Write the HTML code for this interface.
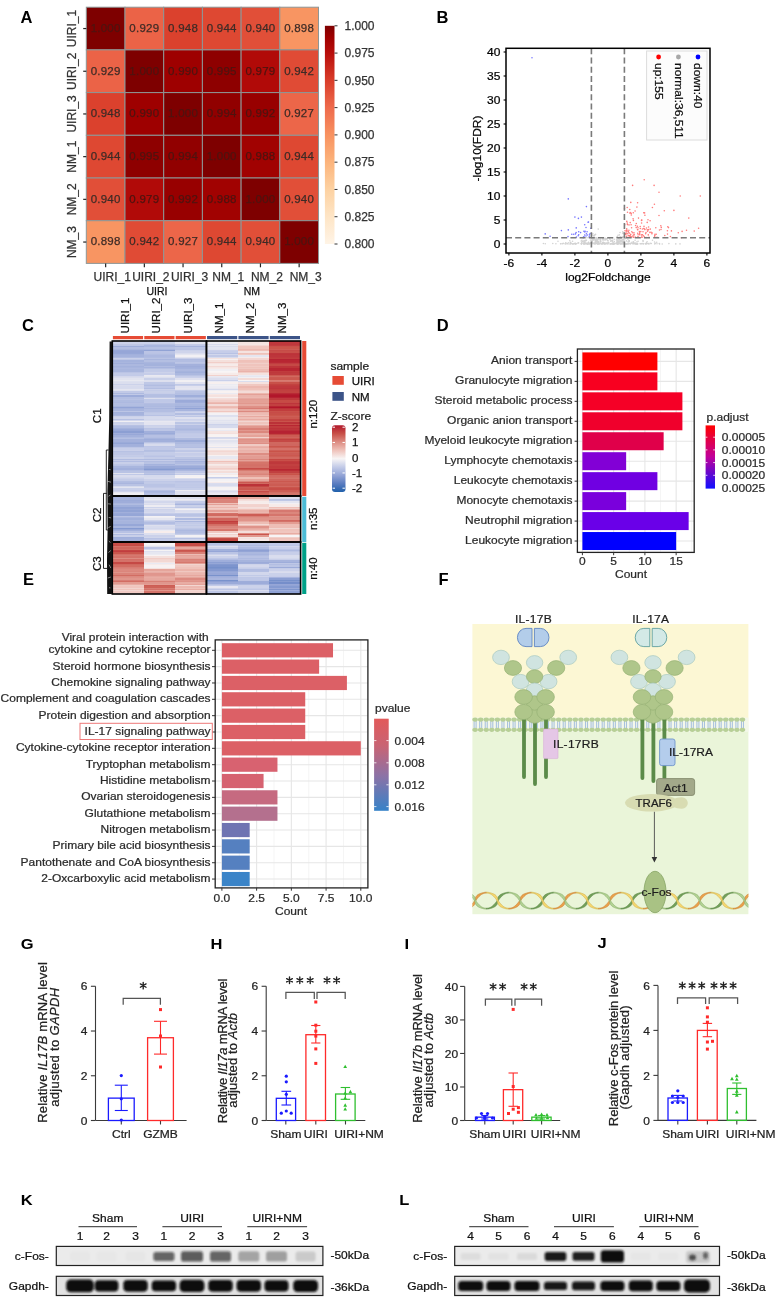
<!DOCTYPE html>
<html><head><meta charset="utf-8"><style>
html,body{margin:0;padding:0;background:#fff;}
svg{display:block;font-family:"Liberation Sans", sans-serif;will-change:transform;}
</style></head><body>
<svg width="775" height="1297" viewBox="0 0 775 1297">
<rect width="775" height="1297" fill="#fff"/>
<text transform="translate(20.50,22.70)" font-size="16.5" fill="#000" font-weight="bold" >A</text>
<rect x="86.30" y="7.20" width="38.70" height="42.70" fill="#7e0000" stroke="#8e9696" stroke-width="1" />
<rect x="125.00" y="7.20" width="38.70" height="42.70" fill="#eb6347" stroke="#8e9696" stroke-width="1" />
<rect x="163.70" y="7.20" width="38.70" height="42.70" fill="#db412d" stroke="#8e9696" stroke-width="1" />
<rect x="202.40" y="7.20" width="38.70" height="42.70" fill="#de4832" stroke="#8e9696" stroke-width="1" />
<rect x="241.10" y="7.20" width="38.70" height="42.70" fill="#e14f38" stroke="#8e9696" stroke-width="1" />
<rect x="279.80" y="7.20" width="38.70" height="42.70" fill="#f89562" stroke="#8e9696" stroke-width="1" />
<rect x="86.30" y="49.90" width="38.70" height="42.70" fill="#eb6347" stroke="#8e9696" stroke-width="1" />
<rect x="125.00" y="49.90" width="38.70" height="42.70" fill="#7e0000" stroke="#8e9696" stroke-width="1" />
<rect x="163.70" y="49.90" width="38.70" height="42.70" fill="#9e0000" stroke="#8e9696" stroke-width="1" />
<rect x="202.40" y="49.90" width="38.70" height="42.70" fill="#8e0000" stroke="#8e9696" stroke-width="1" />
<rect x="241.10" y="49.90" width="38.70" height="42.70" fill="#b10a08" stroke="#8e9696" stroke-width="1" />
<rect x="279.80" y="49.90" width="38.70" height="42.70" fill="#e04b35" stroke="#8e9696" stroke-width="1" />
<rect x="86.30" y="92.60" width="38.70" height="42.70" fill="#db412d" stroke="#8e9696" stroke-width="1" />
<rect x="125.00" y="92.60" width="38.70" height="42.70" fill="#9e0000" stroke="#8e9696" stroke-width="1" />
<rect x="163.70" y="92.60" width="38.70" height="42.70" fill="#7e0000" stroke="#8e9696" stroke-width="1" />
<rect x="202.40" y="92.60" width="38.70" height="42.70" fill="#910000" stroke="#8e9696" stroke-width="1" />
<rect x="241.10" y="92.60" width="38.70" height="42.70" fill="#980000" stroke="#8e9696" stroke-width="1" />
<rect x="279.80" y="92.60" width="38.70" height="42.70" fill="#ec6649" stroke="#8e9696" stroke-width="1" />
<rect x="86.30" y="135.30" width="38.70" height="42.70" fill="#de4832" stroke="#8e9696" stroke-width="1" />
<rect x="125.00" y="135.30" width="38.70" height="42.70" fill="#8e0000" stroke="#8e9696" stroke-width="1" />
<rect x="163.70" y="135.30" width="38.70" height="42.70" fill="#910000" stroke="#8e9696" stroke-width="1" />
<rect x="202.40" y="135.30" width="38.70" height="42.70" fill="#7e0000" stroke="#8e9696" stroke-width="1" />
<rect x="241.10" y="135.30" width="38.70" height="42.70" fill="#a10201" stroke="#8e9696" stroke-width="1" />
<rect x="279.80" y="135.30" width="38.70" height="42.70" fill="#de4832" stroke="#8e9696" stroke-width="1" />
<rect x="86.30" y="178.00" width="38.70" height="42.70" fill="#e14f38" stroke="#8e9696" stroke-width="1" />
<rect x="125.00" y="178.00" width="38.70" height="42.70" fill="#b10a08" stroke="#8e9696" stroke-width="1" />
<rect x="163.70" y="178.00" width="38.70" height="42.70" fill="#980000" stroke="#8e9696" stroke-width="1" />
<rect x="202.40" y="178.00" width="38.70" height="42.70" fill="#a10201" stroke="#8e9696" stroke-width="1" />
<rect x="241.10" y="178.00" width="38.70" height="42.70" fill="#7e0000" stroke="#8e9696" stroke-width="1" />
<rect x="279.80" y="178.00" width="38.70" height="42.70" fill="#e14f38" stroke="#8e9696" stroke-width="1" />
<rect x="86.30" y="220.70" width="38.70" height="42.70" fill="#f89562" stroke="#8e9696" stroke-width="1" />
<rect x="125.00" y="220.70" width="38.70" height="42.70" fill="#e04b35" stroke="#8e9696" stroke-width="1" />
<rect x="163.70" y="220.70" width="38.70" height="42.70" fill="#ec6649" stroke="#8e9696" stroke-width="1" />
<rect x="202.40" y="220.70" width="38.70" height="42.70" fill="#de4832" stroke="#8e9696" stroke-width="1" />
<rect x="241.10" y="220.70" width="38.70" height="42.70" fill="#e14f38" stroke="#8e9696" stroke-width="1" />
<rect x="279.80" y="220.70" width="38.70" height="42.70" fill="#7e0000" stroke="#8e9696" stroke-width="1" />
<text transform="translate(105.65,31.85)" font-size="11.5" fill="#4d1410" stroke="#4d1410" stroke-width="0.25" text-anchor="middle" letter-spacing="0.25">1.000</text>
<text transform="translate(144.35,31.85)" font-size="11.5" fill="#3d2b26" stroke="#3d2b26" stroke-width="0.25" text-anchor="middle" letter-spacing="0.25">0.929</text>
<text transform="translate(183.05,31.85)" font-size="11.5" fill="#3d2b26" stroke="#3d2b26" stroke-width="0.25" text-anchor="middle" letter-spacing="0.25">0.948</text>
<text transform="translate(221.75,31.85)" font-size="11.5" fill="#3d2b26" stroke="#3d2b26" stroke-width="0.25" text-anchor="middle" letter-spacing="0.25">0.944</text>
<text transform="translate(260.45,31.85)" font-size="11.5" fill="#3d2b26" stroke="#3d2b26" stroke-width="0.25" text-anchor="middle" letter-spacing="0.25">0.940</text>
<text transform="translate(299.15,31.85)" font-size="11.5" fill="#3d2b26" stroke="#3d2b26" stroke-width="0.25" text-anchor="middle" letter-spacing="0.25">0.898</text>
<text transform="translate(105.65,74.55)" font-size="11.5" fill="#3d2b26" stroke="#3d2b26" stroke-width="0.25" text-anchor="middle" letter-spacing="0.25">0.929</text>
<text transform="translate(144.35,74.55)" font-size="11.5" fill="#4d1410" stroke="#4d1410" stroke-width="0.25" text-anchor="middle" letter-spacing="0.25">1.000</text>
<text transform="translate(183.05,74.55)" font-size="11.5" fill="#4d1410" stroke="#4d1410" stroke-width="0.25" text-anchor="middle" letter-spacing="0.25">0.990</text>
<text transform="translate(221.75,74.55)" font-size="11.5" fill="#4d1410" stroke="#4d1410" stroke-width="0.25" text-anchor="middle" letter-spacing="0.25">0.995</text>
<text transform="translate(260.45,74.55)" font-size="11.5" fill="#4d1410" stroke="#4d1410" stroke-width="0.25" text-anchor="middle" letter-spacing="0.25">0.979</text>
<text transform="translate(299.15,74.55)" font-size="11.5" fill="#3d2b26" stroke="#3d2b26" stroke-width="0.25" text-anchor="middle" letter-spacing="0.25">0.942</text>
<text transform="translate(105.65,117.25)" font-size="11.5" fill="#3d2b26" stroke="#3d2b26" stroke-width="0.25" text-anchor="middle" letter-spacing="0.25">0.948</text>
<text transform="translate(144.35,117.25)" font-size="11.5" fill="#4d1410" stroke="#4d1410" stroke-width="0.25" text-anchor="middle" letter-spacing="0.25">0.990</text>
<text transform="translate(183.05,117.25)" font-size="11.5" fill="#4d1410" stroke="#4d1410" stroke-width="0.25" text-anchor="middle" letter-spacing="0.25">1.000</text>
<text transform="translate(221.75,117.25)" font-size="11.5" fill="#4d1410" stroke="#4d1410" stroke-width="0.25" text-anchor="middle" letter-spacing="0.25">0.994</text>
<text transform="translate(260.45,117.25)" font-size="11.5" fill="#4d1410" stroke="#4d1410" stroke-width="0.25" text-anchor="middle" letter-spacing="0.25">0.992</text>
<text transform="translate(299.15,117.25)" font-size="11.5" fill="#3d2b26" stroke="#3d2b26" stroke-width="0.25" text-anchor="middle" letter-spacing="0.25">0.927</text>
<text transform="translate(105.65,159.95)" font-size="11.5" fill="#3d2b26" stroke="#3d2b26" stroke-width="0.25" text-anchor="middle" letter-spacing="0.25">0.944</text>
<text transform="translate(144.35,159.95)" font-size="11.5" fill="#4d1410" stroke="#4d1410" stroke-width="0.25" text-anchor="middle" letter-spacing="0.25">0.995</text>
<text transform="translate(183.05,159.95)" font-size="11.5" fill="#4d1410" stroke="#4d1410" stroke-width="0.25" text-anchor="middle" letter-spacing="0.25">0.994</text>
<text transform="translate(221.75,159.95)" font-size="11.5" fill="#4d1410" stroke="#4d1410" stroke-width="0.25" text-anchor="middle" letter-spacing="0.25">1.000</text>
<text transform="translate(260.45,159.95)" font-size="11.5" fill="#4d1410" stroke="#4d1410" stroke-width="0.25" text-anchor="middle" letter-spacing="0.25">0.988</text>
<text transform="translate(299.15,159.95)" font-size="11.5" fill="#3d2b26" stroke="#3d2b26" stroke-width="0.25" text-anchor="middle" letter-spacing="0.25">0.944</text>
<text transform="translate(105.65,202.65)" font-size="11.5" fill="#3d2b26" stroke="#3d2b26" stroke-width="0.25" text-anchor="middle" letter-spacing="0.25">0.940</text>
<text transform="translate(144.35,202.65)" font-size="11.5" fill="#4d1410" stroke="#4d1410" stroke-width="0.25" text-anchor="middle" letter-spacing="0.25">0.979</text>
<text transform="translate(183.05,202.65)" font-size="11.5" fill="#4d1410" stroke="#4d1410" stroke-width="0.25" text-anchor="middle" letter-spacing="0.25">0.992</text>
<text transform="translate(221.75,202.65)" font-size="11.5" fill="#4d1410" stroke="#4d1410" stroke-width="0.25" text-anchor="middle" letter-spacing="0.25">0.988</text>
<text transform="translate(260.45,202.65)" font-size="11.5" fill="#4d1410" stroke="#4d1410" stroke-width="0.25" text-anchor="middle" letter-spacing="0.25">1.000</text>
<text transform="translate(299.15,202.65)" font-size="11.5" fill="#3d2b26" stroke="#3d2b26" stroke-width="0.25" text-anchor="middle" letter-spacing="0.25">0.940</text>
<text transform="translate(105.65,245.35)" font-size="11.5" fill="#3d2b26" stroke="#3d2b26" stroke-width="0.25" text-anchor="middle" letter-spacing="0.25">0.898</text>
<text transform="translate(144.35,245.35)" font-size="11.5" fill="#3d2b26" stroke="#3d2b26" stroke-width="0.25" text-anchor="middle" letter-spacing="0.25">0.942</text>
<text transform="translate(183.05,245.35)" font-size="11.5" fill="#3d2b26" stroke="#3d2b26" stroke-width="0.25" text-anchor="middle" letter-spacing="0.25">0.927</text>
<text transform="translate(221.75,245.35)" font-size="11.5" fill="#3d2b26" stroke="#3d2b26" stroke-width="0.25" text-anchor="middle" letter-spacing="0.25">0.944</text>
<text transform="translate(260.45,245.35)" font-size="11.5" fill="#3d2b26" stroke="#3d2b26" stroke-width="0.25" text-anchor="middle" letter-spacing="0.25">0.940</text>
<text transform="translate(299.15,245.35)" font-size="11.5" fill="#4d1410" stroke="#4d1410" stroke-width="0.25" text-anchor="middle" letter-spacing="0.25">1.000</text>
<line x1="83.20" y1="28.55" x2="86.30" y2="28.55" stroke="#222" stroke-width="1.2" />
<text transform="translate(75.50,28.55) rotate(-90)" font-size="12" fill="#333" stroke="#333" stroke-width="0.25" text-anchor="middle" >UIRI_1</text>
<line x1="83.20" y1="71.25" x2="86.30" y2="71.25" stroke="#222" stroke-width="1.2" />
<text transform="translate(75.50,71.25) rotate(-90)" font-size="12" fill="#333" stroke="#333" stroke-width="0.25" text-anchor="middle" >UIRI_2</text>
<line x1="83.20" y1="113.95" x2="86.30" y2="113.95" stroke="#222" stroke-width="1.2" />
<text transform="translate(75.50,113.95) rotate(-90)" font-size="12" fill="#333" stroke="#333" stroke-width="0.25" text-anchor="middle" >UIRI_3</text>
<line x1="83.20" y1="156.65" x2="86.30" y2="156.65" stroke="#222" stroke-width="1.2" />
<text transform="translate(75.50,156.65) rotate(-90)" font-size="12" fill="#333" stroke="#333" stroke-width="0.25" text-anchor="middle" >NM_1</text>
<line x1="83.20" y1="199.35" x2="86.30" y2="199.35" stroke="#222" stroke-width="1.2" />
<text transform="translate(75.50,199.35) rotate(-90)" font-size="12" fill="#333" stroke="#333" stroke-width="0.25" text-anchor="middle" >NM_2</text>
<line x1="83.20" y1="242.05" x2="86.30" y2="242.05" stroke="#222" stroke-width="1.2" />
<text transform="translate(75.50,242.05) rotate(-90)" font-size="12" fill="#333" stroke="#333" stroke-width="0.25" text-anchor="middle" >NM_3</text>
<line x1="105.65" y1="263.40" x2="105.65" y2="267.30" stroke="#222" stroke-width="1.2" />
<text transform="translate(112.15,281.40)" font-size="12" fill="#333" stroke="#333" stroke-width="0.25" text-anchor="middle" >UIRI_1</text>
<line x1="144.35" y1="263.40" x2="144.35" y2="267.30" stroke="#222" stroke-width="1.2" />
<text transform="translate(150.85,281.40)" font-size="12" fill="#333" stroke="#333" stroke-width="0.25" text-anchor="middle" >UIRI_2</text>
<line x1="183.05" y1="263.40" x2="183.05" y2="267.30" stroke="#222" stroke-width="1.2" />
<text transform="translate(189.55,281.40)" font-size="12" fill="#333" stroke="#333" stroke-width="0.25" text-anchor="middle" >UIRI_3</text>
<line x1="221.75" y1="263.40" x2="221.75" y2="267.30" stroke="#222" stroke-width="1.2" />
<text transform="translate(228.25,281.40)" font-size="12" fill="#333" stroke="#333" stroke-width="0.25" text-anchor="middle" >NM_1</text>
<line x1="260.45" y1="263.40" x2="260.45" y2="267.30" stroke="#222" stroke-width="1.2" />
<text transform="translate(266.95,281.40)" font-size="12" fill="#333" stroke="#333" stroke-width="0.25" text-anchor="middle" >NM_2</text>
<line x1="299.15" y1="263.40" x2="299.15" y2="267.30" stroke="#222" stroke-width="1.2" />
<text transform="translate(305.65,281.40)" font-size="12" fill="#333" stroke="#333" stroke-width="0.25" text-anchor="middle" >NM_3</text>
<text transform="translate(157.00,295.40)" font-size="10.5" fill="#111" stroke="#111" stroke-width="0.25" text-anchor="middle" >UIRI</text>
<text transform="translate(251.80,295.40)" font-size="10.5" fill="#111" stroke="#111" stroke-width="0.25" text-anchor="middle" >NM</text>
<defs><linearGradient id="gA" x1="0" y1="1" x2="0" y2="0"><stop offset="0.000" stop-color="#fff4e6"/><stop offset="0.125" stop-color="#fee5c6"/><stop offset="0.250" stop-color="#fdd2a2"/><stop offset="0.375" stop-color="#fcb47c"/><stop offset="0.500" stop-color="#f89260"/><stop offset="0.625" stop-color="#ee6a4c"/><stop offset="0.750" stop-color="#d93d2a"/><stop offset="0.875" stop-color="#b80e0b"/><stop offset="0.950" stop-color="#9e0000"/><stop offset="1.000" stop-color="#7e0000"/></linearGradient></defs>
<rect x="324.90" y="25.80" width="9.60" height="218.20" fill="url(#gA)" />
<line x1="334.50" y1="25.80" x2="337.50" y2="25.80" stroke="#333" stroke-width="1" />
<text transform="translate(344.50,30.00)" font-size="12" fill="#333" stroke="#333" stroke-width="0.25" >1.000</text>
<line x1="334.50" y1="53.08" x2="337.50" y2="53.08" stroke="#333" stroke-width="1" />
<text transform="translate(344.50,57.28)" font-size="12" fill="#333" stroke="#333" stroke-width="0.25" >0.975</text>
<line x1="334.50" y1="80.35" x2="337.50" y2="80.35" stroke="#333" stroke-width="1" />
<text transform="translate(344.50,84.55)" font-size="12" fill="#333" stroke="#333" stroke-width="0.25" >0.950</text>
<line x1="334.50" y1="107.62" x2="337.50" y2="107.62" stroke="#333" stroke-width="1" />
<text transform="translate(344.50,111.82)" font-size="12" fill="#333" stroke="#333" stroke-width="0.25" >0.925</text>
<line x1="334.50" y1="134.90" x2="337.50" y2="134.90" stroke="#333" stroke-width="1" />
<text transform="translate(344.50,139.10)" font-size="12" fill="#333" stroke="#333" stroke-width="0.25" >0.900</text>
<line x1="334.50" y1="162.18" x2="337.50" y2="162.18" stroke="#333" stroke-width="1" />
<text transform="translate(344.50,166.38)" font-size="12" fill="#333" stroke="#333" stroke-width="0.25" >0.875</text>
<line x1="334.50" y1="189.45" x2="337.50" y2="189.45" stroke="#333" stroke-width="1" />
<text transform="translate(344.50,193.65)" font-size="12" fill="#333" stroke="#333" stroke-width="0.25" >0.850</text>
<line x1="334.50" y1="216.72" x2="337.50" y2="216.72" stroke="#333" stroke-width="1" />
<text transform="translate(344.50,220.92)" font-size="12" fill="#333" stroke="#333" stroke-width="0.25" >0.825</text>
<line x1="334.50" y1="244.00" x2="337.50" y2="244.00" stroke="#333" stroke-width="1" />
<text transform="translate(344.50,248.20)" font-size="12" fill="#333" stroke="#333" stroke-width="0.25" >0.800</text>
<text transform="translate(436.50,22.60)" font-size="16.5" fill="#000" font-weight="bold" >B</text>
<g>
<circle cx="575.6" cy="243.9" r="0.78" fill="#d2d2d2"/>
<circle cx="634.2" cy="243.8" r="0.78" fill="#d2d2d2"/>
<circle cx="572.8" cy="244.0" r="0.78" fill="#d2d2d2"/>
<circle cx="620.5" cy="243.6" r="0.78" fill="#d2d2d2"/>
<circle cx="575.8" cy="243.5" r="0.78" fill="#d2d2d2"/>
<circle cx="626.5" cy="243.8" r="0.78" fill="#d2d2d2"/>
<circle cx="648.4" cy="243.6" r="0.78" fill="#d2d2d2"/>
<circle cx="605.2" cy="243.9" r="0.78" fill="#d2d2d2"/>
<circle cx="675.8" cy="243.9" r="0.78" fill="#d2d2d2"/>
<circle cx="587.2" cy="243.6" r="0.78" fill="#d2d2d2"/>
<circle cx="610.4" cy="243.9" r="0.78" fill="#d2d2d2"/>
<circle cx="598.8" cy="244.0" r="0.78" fill="#d2d2d2"/>
<circle cx="615.1" cy="243.7" r="0.78" fill="#d2d2d2"/>
<circle cx="636.9" cy="243.9" r="0.78" fill="#d2d2d2"/>
<circle cx="560.6" cy="243.7" r="0.78" fill="#d2d2d2"/>
<circle cx="570.4" cy="243.9" r="0.78" fill="#d2d2d2"/>
<circle cx="569.0" cy="244.0" r="0.78" fill="#d2d2d2"/>
<circle cx="587.3" cy="243.9" r="0.78" fill="#d2d2d2"/>
<circle cx="606.6" cy="243.7" r="0.78" fill="#d2d2d2"/>
<circle cx="573.0" cy="243.9" r="0.78" fill="#d2d2d2"/>
<circle cx="625.4" cy="244.0" r="0.78" fill="#d2d2d2"/>
<circle cx="617.7" cy="244.0" r="0.78" fill="#d2d2d2"/>
<circle cx="581.3" cy="243.8" r="0.78" fill="#d2d2d2"/>
<circle cx="586.5" cy="243.3" r="0.78" fill="#d2d2d2"/>
<circle cx="594.6" cy="243.7" r="0.78" fill="#d2d2d2"/>
<circle cx="608.0" cy="243.6" r="0.78" fill="#d2d2d2"/>
<circle cx="592.0" cy="243.6" r="0.78" fill="#d2d2d2"/>
<circle cx="604.6" cy="243.5" r="0.78" fill="#d2d2d2"/>
<circle cx="624.4" cy="243.9" r="0.78" fill="#d2d2d2"/>
<circle cx="587.3" cy="243.7" r="0.78" fill="#d2d2d2"/>
<circle cx="620.3" cy="243.4" r="0.78" fill="#d2d2d2"/>
<circle cx="597.9" cy="243.8" r="0.78" fill="#d2d2d2"/>
<circle cx="621.3" cy="243.9" r="0.78" fill="#d2d2d2"/>
<circle cx="613.4" cy="243.9" r="0.78" fill="#d2d2d2"/>
<circle cx="592.1" cy="243.6" r="0.78" fill="#d2d2d2"/>
<circle cx="597.4" cy="243.8" r="0.78" fill="#d2d2d2"/>
<circle cx="647.8" cy="243.6" r="0.78" fill="#d2d2d2"/>
<circle cx="635.7" cy="243.7" r="0.78" fill="#d2d2d2"/>
<circle cx="626.3" cy="243.9" r="0.78" fill="#d2d2d2"/>
<circle cx="628.3" cy="243.3" r="0.78" fill="#d2d2d2"/>
<circle cx="599.3" cy="243.7" r="0.78" fill="#d2d2d2"/>
<circle cx="659.6" cy="243.9" r="0.78" fill="#d2d2d2"/>
<circle cx="633.5" cy="243.7" r="0.78" fill="#d2d2d2"/>
<circle cx="577.9" cy="243.1" r="0.78" fill="#d2d2d2"/>
<circle cx="654.8" cy="243.9" r="0.78" fill="#d2d2d2"/>
<circle cx="627.8" cy="244.0" r="0.78" fill="#d2d2d2"/>
<circle cx="584.6" cy="244.0" r="0.78" fill="#d2d2d2"/>
<circle cx="617.8" cy="243.6" r="0.78" fill="#d2d2d2"/>
<circle cx="626.6" cy="244.0" r="0.78" fill="#d2d2d2"/>
<circle cx="643.7" cy="243.7" r="0.78" fill="#d2d2d2"/>
<circle cx="628.8" cy="243.6" r="0.78" fill="#d2d2d2"/>
<circle cx="600.2" cy="243.3" r="0.78" fill="#d2d2d2"/>
<circle cx="584.0" cy="243.9" r="0.78" fill="#d2d2d2"/>
<circle cx="621.8" cy="243.4" r="0.78" fill="#d2d2d2"/>
<circle cx="581.4" cy="244.0" r="0.78" fill="#d2d2d2"/>
<circle cx="625.0" cy="243.9" r="0.78" fill="#d2d2d2"/>
<circle cx="545.3" cy="243.7" r="0.78" fill="#d2d2d2"/>
<circle cx="668.9" cy="243.6" r="0.78" fill="#d2d2d2"/>
<circle cx="583.7" cy="243.8" r="0.78" fill="#d2d2d2"/>
<circle cx="613.8" cy="243.0" r="0.78" fill="#d2d2d2"/>
<circle cx="624.2" cy="244.0" r="0.78" fill="#d2d2d2"/>
<circle cx="649.0" cy="244.0" r="0.78" fill="#d2d2d2"/>
<circle cx="657.0" cy="243.7" r="0.78" fill="#d2d2d2"/>
<circle cx="595.4" cy="243.7" r="0.78" fill="#d2d2d2"/>
<circle cx="645.5" cy="243.7" r="0.78" fill="#d2d2d2"/>
<circle cx="615.9" cy="243.3" r="0.78" fill="#d2d2d2"/>
<circle cx="589.1" cy="243.8" r="0.78" fill="#d2d2d2"/>
<circle cx="593.8" cy="243.8" r="0.78" fill="#d2d2d2"/>
<circle cx="599.1" cy="243.7" r="0.78" fill="#d2d2d2"/>
<circle cx="610.1" cy="243.9" r="0.78" fill="#d2d2d2"/>
<circle cx="611.0" cy="243.8" r="0.78" fill="#d2d2d2"/>
<circle cx="630.6" cy="243.8" r="0.78" fill="#d2d2d2"/>
<circle cx="601.8" cy="243.5" r="0.78" fill="#d2d2d2"/>
<circle cx="650.2" cy="243.4" r="0.78" fill="#d2d2d2"/>
<circle cx="603.2" cy="243.8" r="0.78" fill="#d2d2d2"/>
<circle cx="575.3" cy="243.9" r="0.78" fill="#d2d2d2"/>
<circle cx="613.3" cy="243.2" r="0.78" fill="#d2d2d2"/>
<circle cx="614.4" cy="243.7" r="0.78" fill="#d2d2d2"/>
<circle cx="543.4" cy="243.5" r="0.78" fill="#d2d2d2"/>
<circle cx="612.9" cy="243.4" r="0.78" fill="#d2d2d2"/>
<circle cx="612.7" cy="243.4" r="0.78" fill="#d2d2d2"/>
<circle cx="637.4" cy="243.8" r="0.78" fill="#d2d2d2"/>
<circle cx="603.3" cy="243.2" r="0.78" fill="#d2d2d2"/>
<circle cx="604.6" cy="243.4" r="0.78" fill="#d2d2d2"/>
<circle cx="623.6" cy="243.2" r="0.78" fill="#d2d2d2"/>
<circle cx="583.9" cy="243.5" r="0.78" fill="#d2d2d2"/>
<circle cx="651.3" cy="243.5" r="0.78" fill="#d2d2d2"/>
<circle cx="567.4" cy="243.7" r="0.78" fill="#d2d2d2"/>
<circle cx="630.4" cy="243.6" r="0.78" fill="#d2d2d2"/>
<circle cx="589.6" cy="243.7" r="0.78" fill="#d2d2d2"/>
<circle cx="576.5" cy="243.7" r="0.78" fill="#d2d2d2"/>
<circle cx="640.9" cy="243.7" r="0.78" fill="#d2d2d2"/>
<circle cx="662.2" cy="244.0" r="0.78" fill="#d2d2d2"/>
<circle cx="604.3" cy="243.6" r="0.78" fill="#d2d2d2"/>
<circle cx="604.6" cy="243.5" r="0.78" fill="#d2d2d2"/>
<circle cx="561.0" cy="243.7" r="0.78" fill="#d2d2d2"/>
<circle cx="645.9" cy="243.7" r="0.78" fill="#d2d2d2"/>
<circle cx="643.1" cy="243.9" r="0.78" fill="#d2d2d2"/>
<circle cx="588.9" cy="244.0" r="0.78" fill="#d2d2d2"/>
<circle cx="598.0" cy="243.6" r="0.78" fill="#d2d2d2"/>
<circle cx="563.2" cy="243.4" r="0.78" fill="#d2d2d2"/>
<circle cx="607.8" cy="243.9" r="0.78" fill="#d2d2d2"/>
<circle cx="595.4" cy="243.5" r="0.78" fill="#d2d2d2"/>
<circle cx="612.6" cy="243.8" r="0.78" fill="#d2d2d2"/>
<circle cx="640.1" cy="243.7" r="0.78" fill="#d2d2d2"/>
<circle cx="555.9" cy="243.7" r="0.78" fill="#d2d2d2"/>
<circle cx="589.7" cy="243.5" r="0.78" fill="#d2d2d2"/>
<circle cx="616.8" cy="243.6" r="0.78" fill="#d2d2d2"/>
<circle cx="628.1" cy="243.2" r="0.78" fill="#d2d2d2"/>
<circle cx="626.9" cy="243.7" r="0.78" fill="#d2d2d2"/>
<circle cx="587.9" cy="243.8" r="0.78" fill="#d2d2d2"/>
<circle cx="628.2" cy="243.7" r="0.78" fill="#d2d2d2"/>
<circle cx="634.6" cy="243.4" r="0.78" fill="#d2d2d2"/>
<circle cx="592.3" cy="243.1" r="0.78" fill="#d2d2d2"/>
<circle cx="605.2" cy="243.8" r="0.78" fill="#d2d2d2"/>
<circle cx="587.7" cy="243.9" r="0.78" fill="#d2d2d2"/>
<circle cx="614.0" cy="243.6" r="0.78" fill="#d2d2d2"/>
<circle cx="586.2" cy="243.7" r="0.78" fill="#d2d2d2"/>
<circle cx="587.7" cy="243.3" r="0.78" fill="#d2d2d2"/>
<circle cx="636.7" cy="244.0" r="0.78" fill="#d2d2d2"/>
<circle cx="613.9" cy="244.0" r="0.78" fill="#d2d2d2"/>
<circle cx="613.3" cy="243.9" r="0.78" fill="#d2d2d2"/>
<circle cx="599.1" cy="243.5" r="0.78" fill="#d2d2d2"/>
<circle cx="591.0" cy="243.4" r="0.78" fill="#d2d2d2"/>
<circle cx="622.1" cy="244.0" r="0.78" fill="#d2d2d2"/>
<circle cx="602.2" cy="244.0" r="0.78" fill="#d2d2d2"/>
<circle cx="617.2" cy="243.8" r="0.78" fill="#d2d2d2"/>
<circle cx="613.1" cy="243.9" r="0.78" fill="#d2d2d2"/>
<circle cx="588.1" cy="243.7" r="0.78" fill="#d2d2d2"/>
<circle cx="581.5" cy="243.6" r="0.78" fill="#d2d2d2"/>
<circle cx="631.4" cy="243.1" r="0.78" fill="#d2d2d2"/>
<circle cx="600.9" cy="243.8" r="0.78" fill="#d2d2d2"/>
<circle cx="591.5" cy="244.0" r="0.78" fill="#d2d2d2"/>
<circle cx="637.7" cy="244.0" r="0.78" fill="#d2d2d2"/>
<circle cx="604.2" cy="243.8" r="0.78" fill="#d2d2d2"/>
<circle cx="604.5" cy="243.6" r="0.78" fill="#d2d2d2"/>
<circle cx="597.5" cy="243.6" r="0.78" fill="#d2d2d2"/>
<circle cx="574.5" cy="243.6" r="0.78" fill="#d2d2d2"/>
<circle cx="571.2" cy="243.6" r="0.78" fill="#d2d2d2"/>
<circle cx="617.3" cy="243.9" r="0.78" fill="#d2d2d2"/>
<circle cx="646.4" cy="243.7" r="0.78" fill="#d2d2d2"/>
<circle cx="627.8" cy="243.7" r="0.78" fill="#d2d2d2"/>
<circle cx="567.1" cy="243.4" r="0.78" fill="#d2d2d2"/>
<circle cx="583.4" cy="243.7" r="0.78" fill="#d2d2d2"/>
<circle cx="642.1" cy="243.5" r="0.78" fill="#d2d2d2"/>
<circle cx="635.6" cy="243.9" r="0.78" fill="#d2d2d2"/>
<circle cx="597.5" cy="243.8" r="0.78" fill="#d2d2d2"/>
<circle cx="599.3" cy="243.3" r="0.78" fill="#d2d2d2"/>
<circle cx="581.5" cy="243.5" r="0.78" fill="#d2d2d2"/>
<circle cx="620.8" cy="243.2" r="0.78" fill="#d2d2d2"/>
<circle cx="680.0" cy="243.9" r="0.78" fill="#d2d2d2"/>
<circle cx="562.5" cy="243.8" r="0.78" fill="#d2d2d2"/>
<circle cx="583.1" cy="243.2" r="0.78" fill="#d2d2d2"/>
<circle cx="623.0" cy="243.7" r="0.78" fill="#d2d2d2"/>
<circle cx="632.6" cy="243.8" r="0.78" fill="#d2d2d2"/>
<circle cx="565.0" cy="243.8" r="0.78" fill="#d2d2d2"/>
<circle cx="601.6" cy="244.0" r="0.78" fill="#d2d2d2"/>
<circle cx="611.4" cy="243.9" r="0.78" fill="#d2d2d2"/>
<circle cx="612.9" cy="243.8" r="0.78" fill="#d2d2d2"/>
<circle cx="584.2" cy="243.4" r="0.78" fill="#d2d2d2"/>
<circle cx="617.4" cy="243.8" r="0.78" fill="#d2d2d2"/>
<circle cx="565.8" cy="243.9" r="0.78" fill="#d2d2d2"/>
<circle cx="629.5" cy="243.5" r="0.78" fill="#d2d2d2"/>
<circle cx="636.9" cy="243.9" r="0.78" fill="#d2d2d2"/>
<circle cx="618.5" cy="243.9" r="0.78" fill="#d2d2d2"/>
<circle cx="613.7" cy="243.5" r="0.78" fill="#d2d2d2"/>
<circle cx="597.2" cy="243.4" r="0.78" fill="#d2d2d2"/>
<circle cx="587.3" cy="243.6" r="0.78" fill="#d2d2d2"/>
<circle cx="623.2" cy="241.9" r="0.78" fill="#d2d2d2"/>
<circle cx="585.0" cy="242.5" r="0.78" fill="#d2d2d2"/>
<circle cx="633.9" cy="243.1" r="0.78" fill="#d2d2d2"/>
<circle cx="569.8" cy="240.8" r="0.78" fill="#d2d2d2"/>
<circle cx="633.5" cy="241.8" r="0.78" fill="#d2d2d2"/>
<circle cx="602.7" cy="242.6" r="0.78" fill="#d2d2d2"/>
<circle cx="583.2" cy="241.7" r="0.78" fill="#d2d2d2"/>
<circle cx="602.2" cy="243.6" r="0.78" fill="#d2d2d2"/>
<circle cx="633.3" cy="242.4" r="0.78" fill="#d2d2d2"/>
<circle cx="603.0" cy="239.0" r="0.78" fill="#d2d2d2"/>
<circle cx="584.9" cy="241.4" r="0.78" fill="#d2d2d2"/>
<circle cx="598.3" cy="243.4" r="0.78" fill="#d2d2d2"/>
<circle cx="586.4" cy="240.4" r="0.78" fill="#d2d2d2"/>
<circle cx="602.6" cy="238.2" r="0.78" fill="#d2d2d2"/>
<circle cx="605.0" cy="243.0" r="0.78" fill="#d2d2d2"/>
<circle cx="632.0" cy="242.3" r="0.78" fill="#d2d2d2"/>
<circle cx="626.4" cy="240.9" r="0.78" fill="#d2d2d2"/>
<circle cx="565.7" cy="242.7" r="0.78" fill="#d2d2d2"/>
<circle cx="618.6" cy="238.2" r="0.78" fill="#d2d2d2"/>
<circle cx="635.7" cy="243.4" r="0.78" fill="#d2d2d2"/>
<circle cx="608.7" cy="242.6" r="0.78" fill="#d2d2d2"/>
<circle cx="603.4" cy="242.4" r="0.78" fill="#d2d2d2"/>
<circle cx="600.6" cy="241.6" r="0.78" fill="#d2d2d2"/>
<circle cx="590.4" cy="240.0" r="0.78" fill="#d2d2d2"/>
<circle cx="635.4" cy="243.4" r="0.78" fill="#d2d2d2"/>
<circle cx="629.2" cy="240.7" r="0.78" fill="#d2d2d2"/>
<circle cx="607.9" cy="240.6" r="0.78" fill="#d2d2d2"/>
<circle cx="622.1" cy="241.1" r="0.78" fill="#d2d2d2"/>
<circle cx="592.2" cy="240.6" r="0.78" fill="#d2d2d2"/>
<circle cx="623.5" cy="242.8" r="0.78" fill="#d2d2d2"/>
<circle cx="616.5" cy="239.9" r="0.78" fill="#d2d2d2"/>
<circle cx="637.0" cy="241.9" r="0.78" fill="#d2d2d2"/>
<circle cx="625.4" cy="238.6" r="0.78" fill="#d2d2d2"/>
<circle cx="584.2" cy="243.0" r="0.78" fill="#d2d2d2"/>
<circle cx="605.6" cy="238.3" r="0.78" fill="#d2d2d2"/>
<circle cx="568.8" cy="242.7" r="0.78" fill="#d2d2d2"/>
<circle cx="588.6" cy="242.5" r="0.78" fill="#d2d2d2"/>
<circle cx="652.5" cy="240.3" r="0.78" fill="#d2d2d2"/>
<circle cx="616.6" cy="242.3" r="0.78" fill="#d2d2d2"/>
<circle cx="600.4" cy="239.4" r="0.78" fill="#d2d2d2"/>
<circle cx="607.3" cy="238.8" r="0.78" fill="#d2d2d2"/>
<circle cx="617.6" cy="241.2" r="0.78" fill="#d2d2d2"/>
<circle cx="610.7" cy="241.3" r="0.78" fill="#d2d2d2"/>
<circle cx="597.1" cy="239.6" r="0.78" fill="#d2d2d2"/>
<circle cx="622.2" cy="239.7" r="0.78" fill="#d2d2d2"/>
<circle cx="609.5" cy="238.3" r="0.78" fill="#d2d2d2"/>
<circle cx="618.3" cy="240.7" r="0.78" fill="#d2d2d2"/>
<circle cx="605.8" cy="239.2" r="0.78" fill="#d2d2d2"/>
<circle cx="575.3" cy="243.2" r="0.78" fill="#d2d2d2"/>
<circle cx="607.3" cy="243.3" r="0.78" fill="#d2d2d2"/>
<circle cx="612.6" cy="240.4" r="0.78" fill="#d2d2d2"/>
<circle cx="611.6" cy="240.7" r="0.78" fill="#d2d2d2"/>
<circle cx="596.9" cy="242.7" r="0.78" fill="#d2d2d2"/>
<circle cx="602.8" cy="242.5" r="0.78" fill="#d2d2d2"/>
<circle cx="643.0" cy="240.5" r="0.78" fill="#d2d2d2"/>
<circle cx="552.8" cy="243.5" r="0.78" fill="#d2d2d2"/>
<circle cx="656.7" cy="242.2" r="0.78" fill="#d2d2d2"/>
<circle cx="627.9" cy="239.2" r="0.78" fill="#d2d2d2"/>
<circle cx="596.7" cy="240.7" r="0.78" fill="#d2d2d2"/>
<circle cx="629.2" cy="241.2" r="0.78" fill="#d2d2d2"/>
<circle cx="605.1" cy="239.6" r="0.78" fill="#d2d2d2"/>
<circle cx="605.8" cy="238.7" r="0.78" fill="#d2d2d2"/>
<circle cx="617.8" cy="239.3" r="0.78" fill="#d2d2d2"/>
<circle cx="629.3" cy="241.3" r="0.78" fill="#d2d2d2"/>
<circle cx="612.3" cy="240.7" r="0.78" fill="#d2d2d2"/>
<circle cx="620.0" cy="243.7" r="0.78" fill="#d2d2d2"/>
<circle cx="638.1" cy="241.3" r="0.78" fill="#d2d2d2"/>
<circle cx="583.9" cy="240.8" r="0.78" fill="#d2d2d2"/>
<circle cx="592.9" cy="240.2" r="0.78" fill="#d2d2d2"/>
<circle cx="592.0" cy="240.7" r="0.78" fill="#d2d2d2"/>
<circle cx="646.4" cy="242.9" r="0.78" fill="#d2d2d2"/>
<circle cx="603.7" cy="238.3" r="0.78" fill="#d2d2d2"/>
<circle cx="606.6" cy="238.9" r="0.78" fill="#d2d2d2"/>
<circle cx="570.7" cy="242.4" r="0.78" fill="#d2d2d2"/>
<circle cx="643.1" cy="241.4" r="0.78" fill="#d2d2d2"/>
<circle cx="581.2" cy="241.1" r="0.78" fill="#d2d2d2"/>
<circle cx="610.0" cy="239.4" r="0.78" fill="#d2d2d2"/>
<circle cx="586.1" cy="243.6" r="0.78" fill="#d2d2d2"/>
<circle cx="594.8" cy="243.7" r="0.78" fill="#d2d2d2"/>
<circle cx="628.1" cy="241.6" r="0.78" fill="#d2d2d2"/>
<circle cx="588.6" cy="242.4" r="0.78" fill="#d2d2d2"/>
<circle cx="584.9" cy="240.5" r="0.78" fill="#d2d2d2"/>
<circle cx="598.1" cy="239.8" r="0.78" fill="#d2d2d2"/>
<circle cx="591.1" cy="240.3" r="0.78" fill="#d2d2d2"/>
<circle cx="587.0" cy="237.8" r="0.78" fill="#d2d2d2"/>
<circle cx="603.5" cy="239.9" r="0.78" fill="#d2d2d2"/>
<circle cx="596.9" cy="237.9" r="0.78" fill="#d2d2d2"/>
<circle cx="573.3" cy="243.8" r="0.78" fill="#d2d2d2"/>
<circle cx="581.6" cy="242.9" r="0.78" fill="#d2d2d2"/>
<circle cx="584.6" cy="242.4" r="0.78" fill="#d2d2d2"/>
<circle cx="621.3" cy="241.5" r="0.78" fill="#d2d2d2"/>
<circle cx="612.3" cy="243.2" r="0.78" fill="#d2d2d2"/>
<circle cx="607.6" cy="240.5" r="0.78" fill="#d2d2d2"/>
<circle cx="654.5" cy="242.0" r="0.78" fill="#d2d2d2"/>
<circle cx="635.1" cy="240.3" r="0.78" fill="#d2d2d2"/>
<circle cx="602.2" cy="239.9" r="0.78" fill="#d2d2d2"/>
<circle cx="611.0" cy="240.2" r="0.78" fill="#d2d2d2"/>
<circle cx="600.0" cy="239.2" r="0.78" fill="#d2d2d2"/>
<circle cx="655.4" cy="243.3" r="0.78" fill="#d2d2d2"/>
<circle cx="621.7" cy="240.9" r="0.78" fill="#d2d2d2"/>
<circle cx="620.1" cy="240.1" r="0.78" fill="#d2d2d2"/>
<circle cx="629.8" cy="243.6" r="0.78" fill="#d2d2d2"/>
<circle cx="629.0" cy="240.6" r="0.78" fill="#d2d2d2"/>
<circle cx="600.3" cy="240.2" r="0.78" fill="#d2d2d2"/>
<circle cx="596.2" cy="239.8" r="0.78" fill="#d2d2d2"/>
<circle cx="621.1" cy="240.4" r="0.78" fill="#d2d2d2"/>
<circle cx="600.8" cy="242.0" r="0.78" fill="#d2d2d2"/>
<circle cx="641.2" cy="243.8" r="0.78" fill="#d2d2d2"/>
<circle cx="608.1" cy="242.8" r="0.78" fill="#d2d2d2"/>
<circle cx="614.2" cy="239.2" r="0.78" fill="#d2d2d2"/>
<circle cx="572.6" cy="241.2" r="0.78" fill="#d2d2d2"/>
<circle cx="637.1" cy="243.7" r="0.78" fill="#d2d2d2"/>
<circle cx="659.3" cy="243.6" r="0.78" fill="#d2d2d2"/>
<circle cx="604.3" cy="238.3" r="0.78" fill="#d2d2d2"/>
<circle cx="585.8" cy="240.4" r="0.78" fill="#d2d2d2"/>
<circle cx="618.4" cy="242.3" r="0.78" fill="#d2d2d2"/>
<circle cx="558.0" cy="241.3" r="0.78" fill="#d2d2d2"/>
<circle cx="600.5" cy="240.9" r="0.78" fill="#d2d2d2"/>
<circle cx="647.1" cy="241.7" r="0.78" fill="#d2d2d2"/>
<circle cx="602.7" cy="243.1" r="0.78" fill="#d2d2d2"/>
<circle cx="591.1" cy="242.5" r="0.78" fill="#d2d2d2"/>
<circle cx="591.3" cy="243.4" r="0.78" fill="#d2d2d2"/>
<circle cx="597.0" cy="241.1" r="0.78" fill="#d2d2d2"/>
<circle cx="606.0" cy="239.8" r="0.78" fill="#d2d2d2"/>
<circle cx="591.8" cy="240.3" r="0.78" fill="#d2d2d2"/>
<circle cx="612.5" cy="241.2" r="0.78" fill="#d2d2d2"/>
<circle cx="612.5" cy="237.8" r="0.78" fill="#d2d2d2"/>
<circle cx="581.9" cy="240.4" r="0.78" fill="#d2d2d2"/>
<circle cx="606.3" cy="243.1" r="0.78" fill="#d2d2d2"/>
<circle cx="592.1" cy="238.4" r="0.78" fill="#d2d2d2"/>
<circle cx="614.3" cy="241.6" r="0.78" fill="#d2d2d2"/>
<circle cx="578.6" cy="242.9" r="0.78" fill="#d2d2d2"/>
<circle cx="596.9" cy="240.2" r="0.78" fill="#d2d2d2"/>
<circle cx="582.5" cy="241.6" r="0.78" fill="#d2d2d2"/>
<circle cx="608.2" cy="242.3" r="0.78" fill="#d2d2d2"/>
<circle cx="594.0" cy="237.9" r="0.78" fill="#d2d2d2"/>
<circle cx="645.9" cy="243.7" r="0.78" fill="#d2d2d2"/>
<circle cx="585.6" cy="243.6" r="0.78" fill="#d2d2d2"/>
<circle cx="604.9" cy="240.0" r="0.78" fill="#d2d2d2"/>
<circle cx="630.3" cy="243.5" r="0.78" fill="#d2d2d2"/>
<circle cx="617.5" cy="236.6" r="0.78" fill="#d2d2d2"/>
<circle cx="594.1" cy="239.5" r="0.78" fill="#d2d2d2"/>
<circle cx="620.6" cy="240.8" r="0.78" fill="#d2d2d2"/>
<circle cx="622.5" cy="239.8" r="0.78" fill="#d2d2d2"/>
<circle cx="592.9" cy="233.9" r="0.78" fill="#d2d2d2"/>
<circle cx="595.5" cy="240.5" r="0.78" fill="#d2d2d2"/>
<circle cx="619.9" cy="242.1" r="0.78" fill="#d2d2d2"/>
<circle cx="619.1" cy="241.3" r="0.78" fill="#d2d2d2"/>
<circle cx="595.6" cy="242.2" r="0.78" fill="#d2d2d2"/>
<circle cx="617.6" cy="242.1" r="0.78" fill="#d2d2d2"/>
<circle cx="595.6" cy="234.4" r="0.78" fill="#d2d2d2"/>
<circle cx="619.2" cy="239.6" r="0.78" fill="#d2d2d2"/>
<circle cx="598.3" cy="242.1" r="0.78" fill="#d2d2d2"/>
<circle cx="593.7" cy="235.7" r="0.78" fill="#d2d2d2"/>
<circle cx="622.4" cy="242.4" r="0.78" fill="#d2d2d2"/>
<circle cx="597.2" cy="239.6" r="0.78" fill="#d2d2d2"/>
<circle cx="619.7" cy="237.3" r="0.78" fill="#d2d2d2"/>
<circle cx="620.2" cy="237.9" r="0.78" fill="#d2d2d2"/>
<circle cx="620.4" cy="241.3" r="0.78" fill="#d2d2d2"/>
<circle cx="598.2" cy="229.1" r="0.78" fill="#d2d2d2"/>
<circle cx="617.2" cy="240.6" r="0.78" fill="#d2d2d2"/>
<circle cx="593.3" cy="237.2" r="0.78" fill="#d2d2d2"/>
<circle cx="622.9" cy="233.4" r="0.78" fill="#d2d2d2"/>
<circle cx="597.5" cy="241.2" r="0.78" fill="#d2d2d2"/>
<circle cx="623.5" cy="243.8" r="0.78" fill="#d2d2d2"/>
<circle cx="594.8" cy="242.8" r="0.78" fill="#d2d2d2"/>
<circle cx="624.2" cy="237.9" r="0.78" fill="#d2d2d2"/>
<circle cx="594.5" cy="235.5" r="0.78" fill="#d2d2d2"/>
<circle cx="622.8" cy="241.9" r="0.78" fill="#d2d2d2"/>
<circle cx="592.1" cy="242.8" r="0.78" fill="#d2d2d2"/>
<circle cx="598.6" cy="242.5" r="0.78" fill="#d2d2d2"/>
<circle cx="618.8" cy="241.9" r="0.78" fill="#d2d2d2"/>
<circle cx="595.2" cy="239.6" r="0.78" fill="#d2d2d2"/>
<circle cx="619.9" cy="241.1" r="0.78" fill="#d2d2d2"/>
<circle cx="623.0" cy="242.4" r="0.78" fill="#d2d2d2"/>
<circle cx="621.0" cy="241.3" r="0.78" fill="#d2d2d2"/>
<circle cx="593.6" cy="238.9" r="0.78" fill="#d2d2d2"/>
<circle cx="623.3" cy="241.0" r="0.78" fill="#d2d2d2"/>
<circle cx="623.2" cy="232.9" r="0.78" fill="#d2d2d2"/>
<circle cx="594.9" cy="234.7" r="0.78" fill="#d2d2d2"/>
<circle cx="592.9" cy="238.7" r="0.78" fill="#d2d2d2"/>
<circle cx="597.0" cy="241.2" r="0.78" fill="#d2d2d2"/>
<circle cx="591.5" cy="241.5" r="0.78" fill="#d2d2d2"/>
<circle cx="595.9" cy="241.5" r="0.78" fill="#d2d2d2"/>
<circle cx="619.0" cy="239.1" r="0.78" fill="#d2d2d2"/>
<circle cx="596.6" cy="239.7" r="0.78" fill="#d2d2d2"/>
<circle cx="593.1" cy="243.1" r="0.78" fill="#d2d2d2"/>
<circle cx="617.1" cy="242.1" r="0.78" fill="#d2d2d2"/>
<circle cx="623.7" cy="241.3" r="0.78" fill="#d2d2d2"/>
<circle cx="596.2" cy="243.4" r="0.78" fill="#d2d2d2"/>
<circle cx="594.4" cy="237.2" r="0.78" fill="#d2d2d2"/>
<circle cx="618.3" cy="242.8" r="0.78" fill="#d2d2d2"/>
<circle cx="620.0" cy="232.5" r="0.78" fill="#d2d2d2"/>
<circle cx="623.3" cy="236.8" r="0.78" fill="#d2d2d2"/>
<circle cx="623.6" cy="239.5" r="0.78" fill="#d2d2d2"/>
<circle cx="595.2" cy="241.3" r="0.78" fill="#d2d2d2"/>
<circle cx="595.9" cy="243.4" r="0.78" fill="#d2d2d2"/>
<circle cx="624.2" cy="241.0" r="0.78" fill="#d2d2d2"/>
<circle cx="622.8" cy="231.8" r="0.78" fill="#d2d2d2"/>
<circle cx="592.3" cy="239.3" r="0.78" fill="#d2d2d2"/>
<circle cx="620.3" cy="243.9" r="0.78" fill="#d2d2d2"/>
<circle cx="595.7" cy="238.0" r="0.78" fill="#d2d2d2"/>
<circle cx="618.0" cy="235.2" r="0.78" fill="#d2d2d2"/>
<circle cx="594.1" cy="238.3" r="0.78" fill="#d2d2d2"/>
<circle cx="620.8" cy="236.9" r="0.78" fill="#d2d2d2"/>
<circle cx="598.8" cy="241.6" r="0.78" fill="#d2d2d2"/>
<circle cx="592.7" cy="240.0" r="0.78" fill="#d2d2d2"/>
<circle cx="592.2" cy="241.7" r="0.78" fill="#d2d2d2"/>
<circle cx="617.6" cy="243.9" r="0.78" fill="#d2d2d2"/>
<circle cx="617.1" cy="236.8" r="0.78" fill="#d2d2d2"/>
<circle cx="595.7" cy="241.8" r="0.78" fill="#d2d2d2"/>
<circle cx="618.5" cy="242.7" r="0.78" fill="#d2d2d2"/>
<circle cx="620.9" cy="238.0" r="0.78" fill="#d2d2d2"/>
<circle cx="619.3" cy="234.9" r="0.78" fill="#d2d2d2"/>
<circle cx="617.5" cy="241.8" r="0.78" fill="#d2d2d2"/>
<circle cx="596.2" cy="237.9" r="0.78" fill="#d2d2d2"/>
<circle cx="598.0" cy="239.0" r="0.78" fill="#d2d2d2"/>
<circle cx="594.0" cy="240.0" r="0.78" fill="#d2d2d2"/>
<circle cx="592.4" cy="242.4" r="0.78" fill="#d2d2d2"/>
<circle cx="621.2" cy="237.6" r="0.78" fill="#d2d2d2"/>
<circle cx="622.7" cy="237.1" r="0.78" fill="#d2d2d2"/>
<circle cx="592.1" cy="235.3" r="0.78" fill="#d2d2d2"/>
<circle cx="596.7" cy="238.9" r="0.78" fill="#d2d2d2"/>
<circle cx="624.1" cy="239.0" r="0.78" fill="#d2d2d2"/>
<circle cx="621.1" cy="240.8" r="0.78" fill="#d2d2d2"/>
<circle cx="622.4" cy="242.1" r="0.78" fill="#d2d2d2"/>
<circle cx="619.3" cy="243.0" r="0.78" fill="#d2d2d2"/>
<circle cx="620.3" cy="237.6" r="0.78" fill="#d2d2d2"/>
<circle cx="617.7" cy="242.4" r="0.78" fill="#d2d2d2"/>
<circle cx="597.5" cy="242.0" r="0.78" fill="#d2d2d2"/>
<circle cx="568.3" cy="229.9" r="0.78" fill="#7474ff"/>
<circle cx="586.0" cy="236.0" r="0.78" fill="#7474ff"/>
<circle cx="590.1" cy="233.6" r="0.78" fill="#7474ff"/>
<circle cx="580.6" cy="232.6" r="0.78" fill="#7474ff"/>
<circle cx="561.4" cy="230.6" r="0.78" fill="#7474ff"/>
<circle cx="575.5" cy="233.9" r="0.78" fill="#7474ff"/>
<circle cx="576.2" cy="227.9" r="0.78" fill="#7474ff"/>
<circle cx="585.1" cy="231.3" r="0.78" fill="#7474ff"/>
<circle cx="583.9" cy="231.3" r="0.78" fill="#7474ff"/>
<circle cx="576.4" cy="237.1" r="0.78" fill="#7474ff"/>
<circle cx="578.4" cy="218.4" r="0.78" fill="#7474ff"/>
<circle cx="586.0" cy="227.5" r="0.78" fill="#7474ff"/>
<circle cx="589.2" cy="236.9" r="0.78" fill="#7474ff"/>
<circle cx="584.8" cy="232.0" r="0.78" fill="#7474ff"/>
<circle cx="587.3" cy="235.0" r="0.78" fill="#7474ff"/>
<circle cx="578.7" cy="231.8" r="0.78" fill="#7474ff"/>
<circle cx="584.7" cy="224.7" r="0.78" fill="#7474ff"/>
<circle cx="584.7" cy="235.0" r="0.78" fill="#7474ff"/>
<circle cx="588.1" cy="222.3" r="0.78" fill="#7474ff"/>
<circle cx="578.2" cy="235.8" r="0.78" fill="#7474ff"/>
<circle cx="583.2" cy="237.7" r="0.78" fill="#7474ff"/>
<circle cx="581.4" cy="217.1" r="0.78" fill="#7474ff"/>
<circle cx="568.0" cy="236.6" r="0.78" fill="#7474ff"/>
<circle cx="586.4" cy="233.7" r="0.78" fill="#7474ff"/>
<circle cx="571.8" cy="234.3" r="0.78" fill="#7474ff"/>
<circle cx="589.4" cy="234.9" r="0.78" fill="#7474ff"/>
<circle cx="590.7" cy="228.3" r="0.78" fill="#7474ff"/>
<circle cx="587.1" cy="231.7" r="0.78" fill="#7474ff"/>
<circle cx="578.7" cy="234.8" r="0.78" fill="#7474ff"/>
<circle cx="584.0" cy="236.9" r="0.78" fill="#7474ff"/>
<circle cx="583.5" cy="237.1" r="0.78" fill="#7474ff"/>
<circle cx="576.1" cy="232.6" r="0.78" fill="#7474ff"/>
<circle cx="573.7" cy="234.3" r="0.78" fill="#7474ff"/>
<circle cx="588.5" cy="222.0" r="0.78" fill="#7474ff"/>
<circle cx="532.0" cy="57.8" r="0.78" fill="#7474ff"/>
<circle cx="568.3" cy="198.9" r="0.78" fill="#7474ff"/>
<circle cx="586.4" cy="206.6" r="0.78" fill="#7474ff"/>
<circle cx="574.9" cy="217.1" r="0.78" fill="#7474ff"/>
<circle cx="545.2" cy="233.9" r="0.78" fill="#7474ff"/>
<circle cx="550.1" cy="236.3" r="0.78" fill="#7474ff"/>
<circle cx="668.5" cy="227.6" r="0.78" fill="#ff7a7a"/>
<circle cx="626.6" cy="236.3" r="0.78" fill="#ff7a7a"/>
<circle cx="633.3" cy="212.7" r="0.78" fill="#ff7a7a"/>
<circle cx="642.0" cy="234.7" r="0.78" fill="#ff7a7a"/>
<circle cx="664.8" cy="235.5" r="0.78" fill="#ff7a7a"/>
<circle cx="644.5" cy="229.0" r="0.78" fill="#ff7a7a"/>
<circle cx="629.8" cy="235.6" r="0.78" fill="#ff7a7a"/>
<circle cx="627.2" cy="207.5" r="0.78" fill="#ff7a7a"/>
<circle cx="635.6" cy="225.5" r="0.78" fill="#ff7a7a"/>
<circle cx="641.6" cy="223.0" r="0.78" fill="#ff7a7a"/>
<circle cx="648.0" cy="219.8" r="0.78" fill="#ff7a7a"/>
<circle cx="646.1" cy="237.6" r="0.78" fill="#ff7a7a"/>
<circle cx="632.8" cy="236.1" r="0.78" fill="#ff7a7a"/>
<circle cx="649.9" cy="232.4" r="0.78" fill="#ff7a7a"/>
<circle cx="637.8" cy="229.7" r="0.78" fill="#ff7a7a"/>
<circle cx="630.7" cy="234.4" r="0.78" fill="#ff7a7a"/>
<circle cx="644.0" cy="226.4" r="0.78" fill="#ff7a7a"/>
<circle cx="633.3" cy="237.3" r="0.78" fill="#ff7a7a"/>
<circle cx="630.8" cy="202.4" r="0.78" fill="#ff7a7a"/>
<circle cx="636.2" cy="227.6" r="0.78" fill="#ff7a7a"/>
<circle cx="648.6" cy="227.0" r="0.78" fill="#ff7a7a"/>
<circle cx="629.0" cy="224.9" r="0.78" fill="#ff7a7a"/>
<circle cx="626.4" cy="230.4" r="0.78" fill="#ff7a7a"/>
<circle cx="664.3" cy="210.8" r="0.78" fill="#ff7a7a"/>
<circle cx="639.4" cy="231.5" r="0.78" fill="#ff7a7a"/>
<circle cx="643.8" cy="228.5" r="0.78" fill="#ff7a7a"/>
<circle cx="648.6" cy="229.5" r="0.78" fill="#ff7a7a"/>
<circle cx="640.8" cy="231.5" r="0.78" fill="#ff7a7a"/>
<circle cx="641.7" cy="237.1" r="0.78" fill="#ff7a7a"/>
<circle cx="636.3" cy="223.5" r="0.78" fill="#ff7a7a"/>
<circle cx="655.8" cy="227.7" r="0.78" fill="#ff7a7a"/>
<circle cx="647.2" cy="222.4" r="0.78" fill="#ff7a7a"/>
<circle cx="635.2" cy="237.0" r="0.78" fill="#ff7a7a"/>
<circle cx="654.6" cy="236.3" r="0.78" fill="#ff7a7a"/>
<circle cx="651.1" cy="232.2" r="0.78" fill="#ff7a7a"/>
<circle cx="633.7" cy="237.2" r="0.78" fill="#ff7a7a"/>
<circle cx="634.3" cy="234.7" r="0.78" fill="#ff7a7a"/>
<circle cx="651.9" cy="233.7" r="0.78" fill="#ff7a7a"/>
<circle cx="638.3" cy="237.0" r="0.78" fill="#ff7a7a"/>
<circle cx="635.1" cy="211.0" r="0.78" fill="#ff7a7a"/>
<circle cx="659.0" cy="215.5" r="0.78" fill="#ff7a7a"/>
<circle cx="631.8" cy="231.7" r="0.78" fill="#ff7a7a"/>
<circle cx="630.2" cy="222.6" r="0.78" fill="#ff7a7a"/>
<circle cx="640.3" cy="228.5" r="0.78" fill="#ff7a7a"/>
<circle cx="633.4" cy="220.4" r="0.78" fill="#ff7a7a"/>
<circle cx="630.6" cy="236.3" r="0.78" fill="#ff7a7a"/>
<circle cx="681.5" cy="237.8" r="0.78" fill="#ff7a7a"/>
<circle cx="638.1" cy="234.7" r="0.78" fill="#ff7a7a"/>
<circle cx="630.9" cy="237.0" r="0.78" fill="#ff7a7a"/>
<circle cx="644.6" cy="212.9" r="0.78" fill="#ff7a7a"/>
<circle cx="634.0" cy="232.9" r="0.78" fill="#ff7a7a"/>
<circle cx="646.5" cy="228.0" r="0.78" fill="#ff7a7a"/>
<circle cx="630.2" cy="212.5" r="0.78" fill="#ff7a7a"/>
<circle cx="626.1" cy="233.7" r="0.78" fill="#ff7a7a"/>
<circle cx="680.2" cy="196.0" r="0.78" fill="#ff7a7a"/>
<circle cx="625.0" cy="230.7" r="0.78" fill="#ff7a7a"/>
<circle cx="629.8" cy="209.5" r="0.78" fill="#ff7a7a"/>
<circle cx="643.7" cy="212.7" r="0.78" fill="#ff7a7a"/>
<circle cx="639.7" cy="232.9" r="0.78" fill="#ff7a7a"/>
<circle cx="667.4" cy="230.7" r="0.78" fill="#ff7a7a"/>
<circle cx="647.6" cy="231.3" r="0.78" fill="#ff7a7a"/>
<circle cx="667.8" cy="226.7" r="0.78" fill="#ff7a7a"/>
<circle cx="642.1" cy="237.2" r="0.78" fill="#ff7a7a"/>
<circle cx="670.4" cy="236.5" r="0.78" fill="#ff7a7a"/>
<circle cx="627.5" cy="212.3" r="0.78" fill="#ff7a7a"/>
<circle cx="644.9" cy="215.3" r="0.78" fill="#ff7a7a"/>
<circle cx="627.4" cy="224.6" r="0.78" fill="#ff7a7a"/>
<circle cx="636.9" cy="207.1" r="0.78" fill="#ff7a7a"/>
<circle cx="633.5" cy="235.0" r="0.78" fill="#ff7a7a"/>
<circle cx="627.7" cy="233.7" r="0.78" fill="#ff7a7a"/>
<circle cx="628.3" cy="235.6" r="0.78" fill="#ff7a7a"/>
<circle cx="639.7" cy="234.8" r="0.78" fill="#ff7a7a"/>
<circle cx="646.0" cy="232.6" r="0.78" fill="#ff7a7a"/>
<circle cx="660.8" cy="225.8" r="0.78" fill="#ff7a7a"/>
<circle cx="648.3" cy="234.9" r="0.78" fill="#ff7a7a"/>
<circle cx="645.6" cy="233.8" r="0.78" fill="#ff7a7a"/>
<circle cx="656.2" cy="234.2" r="0.78" fill="#ff7a7a"/>
<circle cx="640.2" cy="226.5" r="0.78" fill="#ff7a7a"/>
<circle cx="682.1" cy="231.4" r="0.78" fill="#ff7a7a"/>
<circle cx="661.0" cy="229.5" r="0.78" fill="#ff7a7a"/>
<circle cx="631.6" cy="227.7" r="0.78" fill="#ff7a7a"/>
<circle cx="625.8" cy="234.1" r="0.78" fill="#ff7a7a"/>
<circle cx="624.6" cy="236.8" r="0.78" fill="#ff7a7a"/>
<circle cx="667.5" cy="234.1" r="0.78" fill="#ff7a7a"/>
<circle cx="625.0" cy="234.1" r="0.78" fill="#ff7a7a"/>
<circle cx="642.4" cy="229.0" r="0.78" fill="#ff7a7a"/>
<circle cx="644.3" cy="236.7" r="0.78" fill="#ff7a7a"/>
<circle cx="671.4" cy="230.9" r="0.78" fill="#ff7a7a"/>
<circle cx="624.5" cy="208.5" r="0.78" fill="#ff7a7a"/>
<circle cx="648.0" cy="230.1" r="0.78" fill="#ff7a7a"/>
<circle cx="637.4" cy="226.3" r="0.78" fill="#ff7a7a"/>
<circle cx="652.0" cy="232.8" r="0.78" fill="#ff7a7a"/>
<circle cx="647.2" cy="229.7" r="0.78" fill="#ff7a7a"/>
<circle cx="659.5" cy="230.0" r="0.78" fill="#ff7a7a"/>
<circle cx="644.9" cy="229.6" r="0.78" fill="#ff7a7a"/>
<circle cx="654.4" cy="204.3" r="0.78" fill="#ff7a7a"/>
<circle cx="643.5" cy="235.8" r="0.78" fill="#ff7a7a"/>
<circle cx="661.3" cy="227.4" r="0.78" fill="#ff7a7a"/>
<circle cx="626.8" cy="221.4" r="0.78" fill="#ff7a7a"/>
<circle cx="650.1" cy="220.7" r="0.78" fill="#ff7a7a"/>
<circle cx="628.9" cy="230.3" r="0.78" fill="#ff7a7a"/>
<circle cx="641.4" cy="235.0" r="0.78" fill="#ff7a7a"/>
<circle cx="649.0" cy="237.4" r="0.78" fill="#ff7a7a"/>
<circle cx="638.0" cy="227.7" r="0.78" fill="#ff7a7a"/>
<circle cx="631.3" cy="215.0" r="0.78" fill="#ff7a7a"/>
<circle cx="654.8" cy="235.6" r="0.78" fill="#ff7a7a"/>
<circle cx="627.0" cy="230.2" r="0.78" fill="#ff7a7a"/>
<circle cx="628.1" cy="231.5" r="0.78" fill="#ff7a7a"/>
<circle cx="641.8" cy="220.1" r="0.78" fill="#ff7a7a"/>
<circle cx="631.1" cy="236.9" r="0.78" fill="#ff7a7a"/>
<circle cx="650.3" cy="229.1" r="0.78" fill="#ff7a7a"/>
<circle cx="641.5" cy="220.4" r="0.78" fill="#ff7a7a"/>
<circle cx="625.4" cy="233.6" r="0.78" fill="#ff7a7a"/>
<circle cx="637.8" cy="237.3" r="0.78" fill="#ff7a7a"/>
<circle cx="637.5" cy="229.5" r="0.78" fill="#ff7a7a"/>
<circle cx="655.0" cy="234.4" r="0.78" fill="#ff7a7a"/>
<circle cx="633.1" cy="218.8" r="0.78" fill="#ff7a7a"/>
<circle cx="629.8" cy="235.7" r="0.78" fill="#ff7a7a"/>
<circle cx="624.8" cy="224.8" r="0.78" fill="#ff7a7a"/>
<circle cx="638.5" cy="218.1" r="0.78" fill="#ff7a7a"/>
<circle cx="626.3" cy="231.9" r="0.78" fill="#ff7a7a"/>
<circle cx="632.7" cy="232.8" r="0.78" fill="#ff7a7a"/>
<circle cx="637.7" cy="237.3" r="0.78" fill="#ff7a7a"/>
<circle cx="686.5" cy="230.3" r="0.78" fill="#ff7a7a"/>
<circle cx="629.4" cy="236.0" r="0.78" fill="#ff7a7a"/>
<circle cx="694.2" cy="231.1" r="0.78" fill="#ff7a7a"/>
<circle cx="624.6" cy="234.7" r="0.78" fill="#ff7a7a"/>
<circle cx="631.2" cy="213.4" r="0.78" fill="#ff7a7a"/>
<circle cx="639.5" cy="233.9" r="0.78" fill="#ff7a7a"/>
<circle cx="643.0" cy="231.7" r="0.78" fill="#ff7a7a"/>
<circle cx="630.0" cy="213.2" r="0.78" fill="#ff7a7a"/>
<circle cx="627.3" cy="223.1" r="0.78" fill="#ff7a7a"/>
<circle cx="626.7" cy="228.9" r="0.78" fill="#ff7a7a"/>
<circle cx="642.5" cy="234.7" r="0.78" fill="#ff7a7a"/>
<circle cx="678.3" cy="232.8" r="0.78" fill="#ff7a7a"/>
<circle cx="637.7" cy="233.2" r="0.78" fill="#ff7a7a"/>
<circle cx="657.0" cy="237.3" r="0.78" fill="#ff7a7a"/>
<circle cx="628.3" cy="232.1" r="0.78" fill="#ff7a7a"/>
<circle cx="629.3" cy="233.1" r="0.78" fill="#ff7a7a"/>
<circle cx="631.1" cy="224.7" r="0.78" fill="#ff7a7a"/>
<circle cx="644.2" cy="179.7" r="0.78" fill="#ff7a7a"/>
<circle cx="632.6" cy="185.4" r="0.78" fill="#ff7a7a"/>
<circle cx="654.1" cy="185.4" r="0.78" fill="#ff7a7a"/>
<circle cx="659.0" cy="192.2" r="0.78" fill="#ff7a7a"/>
<circle cx="700.3" cy="196.0" r="0.78" fill="#ff7a7a"/>
<circle cx="637.6" cy="202.7" r="0.78" fill="#ff7a7a"/>
<circle cx="652.4" cy="207.5" r="0.78" fill="#ff7a7a"/>
<circle cx="673.9" cy="210.4" r="0.78" fill="#ff7a7a"/>
<circle cx="688.8" cy="218.1" r="0.78" fill="#ff7a7a"/>
<circle cx="698.6" cy="228.2" r="0.78" fill="#ff7a7a"/>
</g>
<line x1="591.40" y1="48.30" x2="591.40" y2="253.00" stroke="#7a7a7a" stroke-width="1.6" stroke-dasharray="6,3.2"/>
<line x1="624.40" y1="48.30" x2="624.40" y2="253.00" stroke="#7a7a7a" stroke-width="1.6" stroke-dasharray="6,3.2"/>
<line x1="506.00" y1="237.76" x2="710.00" y2="237.76" stroke="#7a7a7a" stroke-width="1.6" stroke-dasharray="6,3.2"/>
<rect x="646.60" y="51.00" width="60.40" height="89.00" fill="#fcfcfc" stroke="#dcdcdc" stroke-width="1" />
<circle cx="658.6" cy="57" r="2.4" fill="#ff0000"/>
<circle cx="678.4" cy="57" r="2.4" fill="#a8a8a8"/>
<circle cx="698" cy="57" r="2.4" fill="#0000ff"/>
<text transform="translate(655.00,63.00) rotate(90) scale(1,0.85)" font-size="12" fill="#111" stroke="#111" stroke-width="0.25" >up:155</text>
<text transform="translate(674.60,63.00) rotate(90) scale(1,0.85)" font-size="12" fill="#111" stroke="#111" stroke-width="0.25" >normal:36,511</text>
<text transform="translate(694.20,63.00) rotate(90) scale(1,0.85)" font-size="12" fill="#111" stroke="#111" stroke-width="0.25" >down:40</text>
<rect x="506.00" y="48.30" width="204.00" height="204.70" fill="none" stroke="#000" stroke-width="1.5" />
<line x1="503.60" y1="244.00" x2="506.00" y2="244.00" stroke="#000" stroke-width="1.1" />
<text transform="translate(500.30,247.60) scale(1,0.85)" font-size="12" fill="#000" stroke="#000" stroke-width="0.25" text-anchor="end" >0</text>
<line x1="503.60" y1="220.00" x2="506.00" y2="220.00" stroke="#000" stroke-width="1.1" />
<text transform="translate(500.30,223.60) scale(1,0.85)" font-size="12" fill="#000" stroke="#000" stroke-width="0.25" text-anchor="end" >5</text>
<line x1="503.60" y1="196.00" x2="506.00" y2="196.00" stroke="#000" stroke-width="1.1" />
<text transform="translate(500.30,199.60) scale(1,0.85)" font-size="12" fill="#000" stroke="#000" stroke-width="0.25" text-anchor="end" >10</text>
<line x1="503.60" y1="172.00" x2="506.00" y2="172.00" stroke="#000" stroke-width="1.1" />
<text transform="translate(500.30,175.60) scale(1,0.85)" font-size="12" fill="#000" stroke="#000" stroke-width="0.25" text-anchor="end" >15</text>
<line x1="503.60" y1="148.00" x2="506.00" y2="148.00" stroke="#000" stroke-width="1.1" />
<text transform="translate(500.30,151.60) scale(1,0.85)" font-size="12" fill="#000" stroke="#000" stroke-width="0.25" text-anchor="end" >20</text>
<line x1="503.60" y1="124.00" x2="506.00" y2="124.00" stroke="#000" stroke-width="1.1" />
<text transform="translate(500.30,127.60) scale(1,0.85)" font-size="12" fill="#000" stroke="#000" stroke-width="0.25" text-anchor="end" >25</text>
<line x1="503.60" y1="100.00" x2="506.00" y2="100.00" stroke="#000" stroke-width="1.1" />
<text transform="translate(500.30,103.60) scale(1,0.85)" font-size="12" fill="#000" stroke="#000" stroke-width="0.25" text-anchor="end" >30</text>
<line x1="503.60" y1="76.00" x2="506.00" y2="76.00" stroke="#000" stroke-width="1.1" />
<text transform="translate(500.30,79.60) scale(1,0.85)" font-size="12" fill="#000" stroke="#000" stroke-width="0.25" text-anchor="end" >35</text>
<line x1="503.60" y1="52.00" x2="506.00" y2="52.00" stroke="#000" stroke-width="1.1" />
<text transform="translate(500.30,55.60) scale(1,0.85)" font-size="12" fill="#000" stroke="#000" stroke-width="0.25" text-anchor="end" >40</text>
<line x1="508.90" y1="253.00" x2="508.90" y2="255.40" stroke="#000" stroke-width="1.1" />
<text transform="translate(508.90,267.20) scale(1,0.85)" font-size="12" fill="#000" stroke="#000" stroke-width="0.25" text-anchor="middle" >-6</text>
<line x1="541.90" y1="253.00" x2="541.90" y2="255.40" stroke="#000" stroke-width="1.1" />
<text transform="translate(541.90,267.20) scale(1,0.85)" font-size="12" fill="#000" stroke="#000" stroke-width="0.25" text-anchor="middle" >-4</text>
<line x1="574.90" y1="253.00" x2="574.90" y2="255.40" stroke="#000" stroke-width="1.1" />
<text transform="translate(574.90,267.20) scale(1,0.85)" font-size="12" fill="#000" stroke="#000" stroke-width="0.25" text-anchor="middle" >-2</text>
<line x1="607.90" y1="253.00" x2="607.90" y2="255.40" stroke="#000" stroke-width="1.1" />
<text transform="translate(607.90,267.20) scale(1,0.85)" font-size="12" fill="#000" stroke="#000" stroke-width="0.25" text-anchor="middle" >0</text>
<line x1="640.90" y1="253.00" x2="640.90" y2="255.40" stroke="#000" stroke-width="1.1" />
<text transform="translate(640.90,267.20) scale(1,0.85)" font-size="12" fill="#000" stroke="#000" stroke-width="0.25" text-anchor="middle" >2</text>
<line x1="673.90" y1="253.00" x2="673.90" y2="255.40" stroke="#000" stroke-width="1.1" />
<text transform="translate(673.90,267.20) scale(1,0.85)" font-size="12" fill="#000" stroke="#000" stroke-width="0.25" text-anchor="middle" >4</text>
<line x1="706.90" y1="253.00" x2="706.90" y2="255.40" stroke="#000" stroke-width="1.1" />
<text transform="translate(706.90,267.20) scale(1,0.85)" font-size="12" fill="#000" stroke="#000" stroke-width="0.25" text-anchor="middle" >6</text>
<text transform="translate(607.90,281.00) scale(1,0.85)" font-size="12" fill="#000" stroke="#000" stroke-width="0.25" text-anchor="middle" >log2Foldchange</text>
<text transform="translate(481.00,148.50) rotate(-90) scale(1,0.85)" font-size="12" fill="#000" stroke="#000" stroke-width="0.25" text-anchor="middle" >-log10(FDR)</text>
<text transform="translate(22.00,330.80)" font-size="16.5" fill="#000" font-weight="bold" >C</text>
<defs><filter id="hblur" x="0" y="0" width="1" height="1"><feGaussianBlur stdDeviation="0.2 0.7"/></filter></defs><g shape-rendering="crispEdges" filter="url(#hblur)">
<rect x="112.30" y="341.00" width="31.68" height="1.64" fill="#d1d6eb" />
<rect x="143.68" y="341.00" width="31.68" height="1.64" fill="#bec7e6" />
<rect x="175.07" y="341.00" width="31.68" height="1.64" fill="#d6daed" />
<rect x="206.45" y="341.00" width="31.68" height="1.64" fill="#eeedf2" />
<rect x="237.83" y="341.00" width="31.68" height="1.64" fill="#f7eeed" />
<rect x="269.22" y="341.00" width="31.68" height="1.64" fill="#b72632" />
<rect x="112.30" y="342.29" width="31.68" height="1.64" fill="#ccd2ea" />
<rect x="143.68" y="342.29" width="31.68" height="1.64" fill="#cbd2ea" />
<rect x="175.07" y="342.29" width="31.68" height="1.64" fill="#e1e3ef" />
<rect x="206.45" y="342.29" width="31.68" height="1.64" fill="#edecf2" />
<rect x="237.83" y="342.29" width="31.68" height="1.64" fill="#f5e4e1" />
<rect x="269.22" y="342.29" width="31.68" height="1.64" fill="#bf383c" />
<rect x="112.30" y="343.58" width="31.68" height="1.64" fill="#bfc7e6" />
<rect x="143.68" y="343.58" width="31.68" height="1.64" fill="#b8c2e4" />
<rect x="175.07" y="343.58" width="31.68" height="1.64" fill="#c4cbe8" />
<rect x="206.45" y="343.58" width="31.68" height="1.64" fill="#d8dbed" />
<rect x="237.83" y="343.58" width="31.68" height="1.64" fill="#f5e5e3" />
<rect x="269.22" y="343.58" width="31.68" height="1.64" fill="#be373b" />
<rect x="112.30" y="344.88" width="31.68" height="1.64" fill="#bcc6e6" />
<rect x="143.68" y="344.88" width="31.68" height="1.64" fill="#aab7df" />
<rect x="175.07" y="344.88" width="31.68" height="1.64" fill="#c1c9e7" />
<rect x="206.45" y="344.88" width="31.68" height="1.64" fill="#e7e8f1" />
<rect x="237.83" y="344.88" width="31.68" height="1.64" fill="#f3d7d2" />
<rect x="269.22" y="344.88" width="31.68" height="1.64" fill="#c13e3f" />
<rect x="112.30" y="346.17" width="31.68" height="1.64" fill="#9eadda" />
<rect x="143.68" y="346.17" width="31.68" height="1.64" fill="#a9b6de" />
<rect x="175.07" y="346.17" width="31.68" height="1.64" fill="#a6b3dd" />
<rect x="206.45" y="346.17" width="31.68" height="1.64" fill="#d8dced" />
<rect x="237.83" y="346.17" width="31.68" height="1.64" fill="#f0c6bf" />
<rect x="269.22" y="346.17" width="31.68" height="1.64" fill="#c85149" />
<rect x="112.30" y="347.46" width="31.68" height="1.64" fill="#b2bde2" />
<rect x="143.68" y="347.46" width="31.68" height="1.64" fill="#b5c0e3" />
<rect x="175.07" y="347.46" width="31.68" height="1.64" fill="#bbc5e5" />
<rect x="206.45" y="347.46" width="31.68" height="1.64" fill="#e2e4f0" />
<rect x="237.83" y="347.46" width="31.68" height="1.64" fill="#f0c6be" />
<rect x="269.22" y="347.46" width="31.68" height="1.64" fill="#ca544c" />
<rect x="112.30" y="348.75" width="31.68" height="1.64" fill="#a9b6de" />
<rect x="143.68" y="348.75" width="31.68" height="1.64" fill="#aab7df" />
<rect x="175.07" y="348.75" width="31.68" height="1.64" fill="#bac3e4" />
<rect x="206.45" y="348.75" width="31.68" height="1.64" fill="#e0e2ef" />
<rect x="237.83" y="348.75" width="31.68" height="1.64" fill="#ecb8b0" />
<rect x="269.22" y="348.75" width="31.68" height="1.64" fill="#cc5c54" />
<rect x="112.30" y="350.04" width="31.68" height="1.64" fill="#98a8d8" />
<rect x="143.68" y="350.04" width="31.68" height="1.64" fill="#91a3d5" />
<rect x="175.07" y="350.04" width="31.68" height="1.64" fill="#cad1ea" />
<rect x="206.45" y="350.04" width="31.68" height="1.64" fill="#cad0ea" />
<rect x="237.83" y="350.04" width="31.68" height="1.64" fill="#eec0b8" />
<rect x="269.22" y="350.04" width="31.68" height="1.64" fill="#c64c46" />
<rect x="112.30" y="351.33" width="31.68" height="1.64" fill="#96a6d7" />
<rect x="143.68" y="351.33" width="31.68" height="1.64" fill="#bbc4e5" />
<rect x="175.07" y="351.33" width="31.68" height="1.64" fill="#cfd4eb" />
<rect x="206.45" y="351.33" width="31.68" height="1.64" fill="#c6cde9" />
<rect x="237.83" y="351.33" width="31.68" height="1.64" fill="#f5e3e0" />
<rect x="269.22" y="351.33" width="31.68" height="1.64" fill="#c84f48" />
<rect x="112.30" y="352.62" width="31.68" height="1.64" fill="#97a8d8" />
<rect x="143.68" y="352.62" width="31.68" height="1.64" fill="#b9c3e4" />
<rect x="175.07" y="352.62" width="31.68" height="1.64" fill="#daddee" />
<rect x="206.45" y="352.62" width="31.68" height="1.64" fill="#b8c2e4" />
<rect x="237.83" y="352.62" width="31.68" height="1.64" fill="#efc1b9" />
<rect x="269.22" y="352.62" width="31.68" height="1.64" fill="#bd343a" />
<rect x="112.30" y="353.92" width="31.68" height="1.64" fill="#a2b0dc" />
<rect x="143.68" y="353.92" width="31.68" height="1.64" fill="#b3bee2" />
<rect x="175.07" y="353.92" width="31.68" height="1.64" fill="#e4e5f0" />
<rect x="206.45" y="353.92" width="31.68" height="1.64" fill="#d2d7ec" />
<rect x="237.83" y="353.92" width="31.68" height="1.64" fill="#f0cac3" />
<rect x="269.22" y="353.92" width="31.68" height="1.64" fill="#bd3339" />
<rect x="112.30" y="355.21" width="31.68" height="1.64" fill="#a5b3dd" />
<rect x="143.68" y="355.21" width="31.68" height="1.64" fill="#adb9e0" />
<rect x="175.07" y="355.21" width="31.68" height="1.64" fill="#f2f0f4" />
<rect x="206.45" y="355.21" width="31.68" height="1.64" fill="#c1c9e7" />
<rect x="237.83" y="355.21" width="31.68" height="1.64" fill="#e5e6f0" />
<rect x="269.22" y="355.21" width="31.68" height="1.64" fill="#bd343a" />
<rect x="112.30" y="356.50" width="31.68" height="1.64" fill="#afbbe1" />
<rect x="143.68" y="356.50" width="31.68" height="1.64" fill="#b0bce1" />
<rect x="175.07" y="356.50" width="31.68" height="1.64" fill="#e1e3ef" />
<rect x="206.45" y="356.50" width="31.68" height="1.64" fill="#d8dced" />
<rect x="237.83" y="356.50" width="31.68" height="1.64" fill="#f6eae9" />
<rect x="269.22" y="356.50" width="31.68" height="1.64" fill="#bf393c" />
<rect x="112.30" y="357.79" width="31.68" height="1.64" fill="#cad1ea" />
<rect x="143.68" y="357.79" width="31.68" height="1.64" fill="#b9c3e4" />
<rect x="175.07" y="357.79" width="31.68" height="1.64" fill="#c9cfe9" />
<rect x="206.45" y="357.79" width="31.68" height="1.64" fill="#f5e2df" />
<rect x="237.83" y="357.79" width="31.68" height="1.64" fill="#f3d7d3" />
<rect x="269.22" y="357.79" width="31.68" height="1.64" fill="#c03c3e" />
<rect x="112.30" y="359.08" width="31.68" height="1.64" fill="#bfc8e6" />
<rect x="143.68" y="359.08" width="31.68" height="1.64" fill="#a9b6de" />
<rect x="175.07" y="359.08" width="31.68" height="1.64" fill="#b1bce1" />
<rect x="206.45" y="359.08" width="31.68" height="1.64" fill="#f7f1f1" />
<rect x="237.83" y="359.08" width="31.68" height="1.64" fill="#f3d6d2" />
<rect x="269.22" y="359.08" width="31.68" height="1.64" fill="#b62331" />
<rect x="112.30" y="360.38" width="31.68" height="1.64" fill="#a5b3dd" />
<rect x="143.68" y="360.38" width="31.68" height="1.64" fill="#b4bfe2" />
<rect x="175.07" y="360.38" width="31.68" height="1.64" fill="#b3bee2" />
<rect x="206.45" y="360.38" width="31.68" height="1.64" fill="#f4e0dc" />
<rect x="237.83" y="360.38" width="31.68" height="1.64" fill="#efc1b9" />
<rect x="269.22" y="360.38" width="31.68" height="1.64" fill="#b82632" />
<rect x="112.30" y="361.67" width="31.68" height="1.64" fill="#a9b6de" />
<rect x="143.68" y="361.67" width="31.68" height="1.64" fill="#aab6de" />
<rect x="175.07" y="361.67" width="31.68" height="1.64" fill="#bdc6e6" />
<rect x="206.45" y="361.67" width="31.68" height="1.64" fill="#f1cec8" />
<rect x="237.83" y="361.67" width="31.68" height="1.64" fill="#efc4bd" />
<rect x="269.22" y="361.67" width="31.68" height="1.64" fill="#ba2c35" />
<rect x="112.30" y="362.96" width="31.68" height="1.64" fill="#a1afdb" />
<rect x="143.68" y="362.96" width="31.68" height="1.64" fill="#a5b3dd" />
<rect x="175.07" y="362.96" width="31.68" height="1.64" fill="#b8c2e4" />
<rect x="206.45" y="362.96" width="31.68" height="1.64" fill="#f5e3e1" />
<rect x="237.83" y="362.96" width="31.68" height="1.64" fill="#f1cfc9" />
<rect x="269.22" y="362.96" width="31.68" height="1.64" fill="#c13e3f" />
<rect x="112.30" y="364.25" width="31.68" height="1.64" fill="#acb8df" />
<rect x="143.68" y="364.25" width="31.68" height="1.64" fill="#a4b2dc" />
<rect x="175.07" y="364.25" width="31.68" height="1.64" fill="#a4b1dc" />
<rect x="206.45" y="364.25" width="31.68" height="1.64" fill="#f6ebe9" />
<rect x="237.83" y="364.25" width="31.68" height="1.64" fill="#efc4bd" />
<rect x="269.22" y="364.25" width="31.68" height="1.64" fill="#c54844" />
<rect x="112.30" y="365.54" width="31.68" height="1.64" fill="#a4b2dc" />
<rect x="143.68" y="365.54" width="31.68" height="1.64" fill="#b1bce1" />
<rect x="175.07" y="365.54" width="31.68" height="1.64" fill="#9fadda" />
<rect x="206.45" y="365.54" width="31.68" height="1.64" fill="#f3d9d5" />
<rect x="237.83" y="365.54" width="31.68" height="1.64" fill="#f1cbc4" />
<rect x="269.22" y="365.54" width="31.68" height="1.64" fill="#bd353a" />
<rect x="112.30" y="366.83" width="31.68" height="1.64" fill="#a8b5de" />
<rect x="143.68" y="366.83" width="31.68" height="1.64" fill="#a6b3dd" />
<rect x="175.07" y="366.83" width="31.68" height="1.64" fill="#a2b0dc" />
<rect x="206.45" y="366.83" width="31.68" height="1.64" fill="#f5e5e3" />
<rect x="237.83" y="366.83" width="31.68" height="1.64" fill="#efc4bc" />
<rect x="269.22" y="366.83" width="31.68" height="1.64" fill="#bd3439" />
<rect x="112.30" y="368.12" width="31.68" height="1.64" fill="#adb9e0" />
<rect x="143.68" y="368.12" width="31.68" height="1.64" fill="#b4bfe2" />
<rect x="175.07" y="368.12" width="31.68" height="1.64" fill="#a4b2dd" />
<rect x="206.45" y="368.12" width="31.68" height="1.64" fill="#f6eae8" />
<rect x="237.83" y="368.12" width="31.68" height="1.64" fill="#f0c9c2" />
<rect x="269.22" y="368.12" width="31.68" height="1.64" fill="#b72632" />
<rect x="112.30" y="369.42" width="31.68" height="1.64" fill="#a9b6de" />
<rect x="143.68" y="369.42" width="31.68" height="1.64" fill="#c1cae7" />
<rect x="175.07" y="369.42" width="31.68" height="1.64" fill="#adb9e0" />
<rect x="206.45" y="369.42" width="31.68" height="1.64" fill="#f0eff3" />
<rect x="237.83" y="369.42" width="31.68" height="1.64" fill="#edbdb5" />
<rect x="269.22" y="369.42" width="31.68" height="1.64" fill="#b82833" />
<rect x="112.30" y="370.71" width="31.68" height="1.64" fill="#a9b6de" />
<rect x="143.68" y="370.71" width="31.68" height="1.64" fill="#c2cae8" />
<rect x="175.07" y="370.71" width="31.68" height="1.64" fill="#a6b4dd" />
<rect x="206.45" y="370.71" width="31.68" height="1.64" fill="#f8f5f5" />
<rect x="237.83" y="370.71" width="31.68" height="1.64" fill="#eab2aa" />
<rect x="269.22" y="370.71" width="31.68" height="1.64" fill="#c03a3d" />
<rect x="112.30" y="372.00" width="31.68" height="1.64" fill="#bbc4e5" />
<rect x="143.68" y="372.00" width="31.68" height="1.64" fill="#ccd2ea" />
<rect x="175.07" y="372.00" width="31.68" height="1.64" fill="#a2b1dc" />
<rect x="206.45" y="372.00" width="31.68" height="1.64" fill="#f8f2f2" />
<rect x="237.83" y="372.00" width="31.68" height="1.64" fill="#f1cdc6" />
<rect x="269.22" y="372.00" width="31.68" height="1.64" fill="#be373b" />
<rect x="112.30" y="373.29" width="31.68" height="1.64" fill="#c3cbe8" />
<rect x="143.68" y="373.29" width="31.68" height="1.64" fill="#c6cde9" />
<rect x="175.07" y="373.29" width="31.68" height="1.64" fill="#abb8df" />
<rect x="206.45" y="373.29" width="31.68" height="1.64" fill="#f6ebe9" />
<rect x="237.83" y="373.29" width="31.68" height="1.64" fill="#f5e2de" />
<rect x="269.22" y="373.29" width="31.68" height="1.64" fill="#bf3a3c" />
<rect x="112.30" y="374.58" width="31.68" height="1.64" fill="#c2cae8" />
<rect x="143.68" y="374.58" width="31.68" height="1.64" fill="#e9e9f1" />
<rect x="175.07" y="374.58" width="31.68" height="1.64" fill="#b9c3e4" />
<rect x="206.45" y="374.58" width="31.68" height="1.64" fill="#f2d1cb" />
<rect x="237.83" y="374.58" width="31.68" height="1.64" fill="#ebebf2" />
<rect x="269.22" y="374.58" width="31.68" height="1.64" fill="#cb5a51" />
<rect x="112.30" y="375.88" width="31.68" height="1.64" fill="#d4d8ec" />
<rect x="143.68" y="375.88" width="31.68" height="1.64" fill="#e5e6f0" />
<rect x="175.07" y="375.88" width="31.68" height="1.64" fill="#c5cde9" />
<rect x="206.45" y="375.88" width="31.68" height="1.64" fill="#e9e9f1" />
<rect x="237.83" y="375.88" width="31.68" height="1.64" fill="#e6e7f1" />
<rect x="269.22" y="375.88" width="31.68" height="1.64" fill="#d16960" />
<rect x="112.30" y="377.17" width="31.68" height="1.64" fill="#d9dced" />
<rect x="143.68" y="377.17" width="31.68" height="1.64" fill="#dcdfee" />
<rect x="175.07" y="377.17" width="31.68" height="1.64" fill="#cad0ea" />
<rect x="206.45" y="377.17" width="31.68" height="1.64" fill="#e3e4f0" />
<rect x="237.83" y="377.17" width="31.68" height="1.64" fill="#f1f0f3" />
<rect x="269.22" y="377.17" width="31.68" height="1.64" fill="#cb5a51" />
<rect x="112.30" y="378.46" width="31.68" height="1.64" fill="#e1e3ef" />
<rect x="143.68" y="378.46" width="31.68" height="1.64" fill="#c9d0e9" />
<rect x="175.07" y="378.46" width="31.68" height="1.64" fill="#dfe1ef" />
<rect x="206.45" y="378.46" width="31.68" height="1.64" fill="#dbdeee" />
<rect x="237.83" y="378.46" width="31.68" height="1.64" fill="#f3dbd7" />
<rect x="269.22" y="378.46" width="31.68" height="1.64" fill="#cb5950" />
<rect x="112.30" y="379.75" width="31.68" height="1.64" fill="#e8e9f1" />
<rect x="143.68" y="379.75" width="31.68" height="1.64" fill="#dde0ee" />
<rect x="175.07" y="379.75" width="31.68" height="1.64" fill="#f1f0f3" />
<rect x="206.45" y="379.75" width="31.68" height="1.64" fill="#c9d0ea" />
<rect x="237.83" y="379.75" width="31.68" height="1.64" fill="#f6f4f5" />
<rect x="269.22" y="379.75" width="31.68" height="1.64" fill="#d77b71" />
<rect x="112.30" y="381.04" width="31.68" height="1.64" fill="#dee1ef" />
<rect x="143.68" y="381.04" width="31.68" height="1.64" fill="#dddfee" />
<rect x="175.07" y="381.04" width="31.68" height="1.64" fill="#f2f0f3" />
<rect x="206.45" y="381.04" width="31.68" height="1.64" fill="#ebeaf2" />
<rect x="237.83" y="381.04" width="31.68" height="1.64" fill="#dadeee" />
<rect x="269.22" y="381.04" width="31.68" height="1.64" fill="#d5756c" />
<rect x="112.30" y="382.33" width="31.68" height="1.64" fill="#dbdeee" />
<rect x="143.68" y="382.33" width="31.68" height="1.64" fill="#bfc8e6" />
<rect x="175.07" y="382.33" width="31.68" height="1.64" fill="#dfe1ef" />
<rect x="206.45" y="382.33" width="31.68" height="1.64" fill="#f7f0ef" />
<rect x="237.83" y="382.33" width="31.68" height="1.64" fill="#f5e2df" />
<rect x="269.22" y="382.33" width="31.68" height="1.64" fill="#c85149" />
<rect x="112.30" y="383.62" width="31.68" height="1.64" fill="#ccd2ea" />
<rect x="143.68" y="383.62" width="31.68" height="1.64" fill="#bac4e5" />
<rect x="175.07" y="383.62" width="31.68" height="1.64" fill="#c0c9e7" />
<rect x="206.45" y="383.62" width="31.68" height="1.64" fill="#ebebf2" />
<rect x="237.83" y="383.62" width="31.68" height="1.64" fill="#f0c8c1" />
<rect x="269.22" y="383.62" width="31.68" height="1.64" fill="#c34241" />
<rect x="112.30" y="384.92" width="31.68" height="1.64" fill="#d9dced" />
<rect x="143.68" y="384.92" width="31.68" height="1.64" fill="#b2bde1" />
<rect x="175.07" y="384.92" width="31.68" height="1.64" fill="#c8cfe9" />
<rect x="206.45" y="384.92" width="31.68" height="1.64" fill="#f0eff3" />
<rect x="237.83" y="384.92" width="31.68" height="1.64" fill="#f0c8c1" />
<rect x="269.22" y="384.92" width="31.68" height="1.64" fill="#c03c3d" />
<rect x="112.30" y="386.21" width="31.68" height="1.64" fill="#d6daed" />
<rect x="143.68" y="386.21" width="31.68" height="1.64" fill="#bdc6e6" />
<rect x="175.07" y="386.21" width="31.68" height="1.64" fill="#e2e3f0" />
<rect x="206.45" y="386.21" width="31.68" height="1.64" fill="#ecebf2" />
<rect x="237.83" y="386.21" width="31.68" height="1.64" fill="#ecb8b0" />
<rect x="269.22" y="386.21" width="31.68" height="1.64" fill="#bf393c" />
<rect x="112.30" y="387.50" width="31.68" height="1.64" fill="#d7dbed" />
<rect x="143.68" y="387.50" width="31.68" height="1.64" fill="#b3bee2" />
<rect x="175.07" y="387.50" width="31.68" height="1.64" fill="#e5e6f0" />
<rect x="206.45" y="387.50" width="31.68" height="1.64" fill="#e6e6f0" />
<rect x="237.83" y="387.50" width="31.68" height="1.64" fill="#efc1b9" />
<rect x="269.22" y="387.50" width="31.68" height="1.64" fill="#bd343a" />
<rect x="112.30" y="388.79" width="31.68" height="1.64" fill="#e4e5f0" />
<rect x="143.68" y="388.79" width="31.68" height="1.64" fill="#cbd1ea" />
<rect x="175.07" y="388.79" width="31.68" height="1.64" fill="#e2e3ef" />
<rect x="206.45" y="388.79" width="31.68" height="1.64" fill="#d4d9ec" />
<rect x="237.83" y="388.79" width="31.68" height="1.64" fill="#efc2ba" />
<rect x="269.22" y="388.79" width="31.68" height="1.64" fill="#c13d3e" />
<rect x="112.30" y="390.08" width="31.68" height="1.64" fill="#dee1ef" />
<rect x="143.68" y="390.08" width="31.68" height="1.64" fill="#c4cce8" />
<rect x="175.07" y="390.08" width="31.68" height="1.64" fill="#c5cde9" />
<rect x="206.45" y="390.08" width="31.68" height="1.64" fill="#efeef3" />
<rect x="237.83" y="390.08" width="31.68" height="1.64" fill="#f1d0ca" />
<rect x="269.22" y="390.08" width="31.68" height="1.64" fill="#c13f3f" />
<rect x="112.30" y="391.38" width="31.68" height="1.64" fill="#c1c9e7" />
<rect x="143.68" y="391.38" width="31.68" height="1.64" fill="#c9d0e9" />
<rect x="175.07" y="391.38" width="31.68" height="1.64" fill="#b9c3e4" />
<rect x="206.45" y="391.38" width="31.68" height="1.64" fill="#f8f2f2" />
<rect x="237.83" y="391.38" width="31.68" height="1.64" fill="#f3dbd7" />
<rect x="269.22" y="391.38" width="31.68" height="1.64" fill="#c24241" />
<rect x="112.30" y="392.67" width="31.68" height="1.64" fill="#aebae0" />
<rect x="143.68" y="392.67" width="31.68" height="1.64" fill="#c6cde9" />
<rect x="175.07" y="392.67" width="31.68" height="1.64" fill="#b5c0e3" />
<rect x="206.45" y="392.67" width="31.68" height="1.64" fill="#ebeaf2" />
<rect x="237.83" y="392.67" width="31.68" height="1.64" fill="#ecb8af" />
<rect x="269.22" y="392.67" width="31.68" height="1.64" fill="#b92934" />
<rect x="112.30" y="393.96" width="31.68" height="1.64" fill="#c1c9e7" />
<rect x="143.68" y="393.96" width="31.68" height="1.64" fill="#b5c0e3" />
<rect x="175.07" y="393.96" width="31.68" height="1.64" fill="#b5c0e3" />
<rect x="206.45" y="393.96" width="31.68" height="1.64" fill="#f6e7e5" />
<rect x="237.83" y="393.96" width="31.68" height="1.64" fill="#e4a097" />
<rect x="269.22" y="393.96" width="31.68" height="1.64" fill="#b41d2e" />
<rect x="112.30" y="395.25" width="31.68" height="1.64" fill="#9dacda" />
<rect x="143.68" y="395.25" width="31.68" height="1.64" fill="#b4bfe2" />
<rect x="175.07" y="395.25" width="31.68" height="1.64" fill="#9faedb" />
<rect x="206.45" y="395.25" width="31.68" height="1.64" fill="#f5e1de" />
<rect x="237.83" y="395.25" width="31.68" height="1.64" fill="#eab4ac" />
<rect x="269.22" y="395.25" width="31.68" height="1.64" fill="#b2182b" />
<rect x="112.30" y="396.54" width="31.68" height="1.64" fill="#b3bee2" />
<rect x="143.68" y="396.54" width="31.68" height="1.64" fill="#bfc7e6" />
<rect x="175.07" y="396.54" width="31.68" height="1.64" fill="#b0bce1" />
<rect x="206.45" y="396.54" width="31.68" height="1.64" fill="#f7f0f0" />
<rect x="237.83" y="396.54" width="31.68" height="1.64" fill="#ecb8b0" />
<rect x="269.22" y="396.54" width="31.68" height="1.64" fill="#b62230" />
<rect x="112.30" y="397.83" width="31.68" height="1.64" fill="#b3bee2" />
<rect x="143.68" y="397.83" width="31.68" height="1.64" fill="#dcdfee" />
<rect x="175.07" y="397.83" width="31.68" height="1.64" fill="#bdc6e6" />
<rect x="206.45" y="397.83" width="31.68" height="1.64" fill="#f4dedb" />
<rect x="237.83" y="397.83" width="31.68" height="1.64" fill="#e6a8a0" />
<rect x="269.22" y="397.83" width="31.68" height="1.64" fill="#bf393c" />
<rect x="112.30" y="399.12" width="31.68" height="1.64" fill="#b8c2e4" />
<rect x="143.68" y="399.12" width="31.68" height="1.64" fill="#c0c9e7" />
<rect x="175.07" y="399.12" width="31.68" height="1.64" fill="#b2bde2" />
<rect x="206.45" y="399.12" width="31.68" height="1.64" fill="#f3d8d4" />
<rect x="237.83" y="399.12" width="31.68" height="1.64" fill="#e39d94" />
<rect x="269.22" y="399.12" width="31.68" height="1.64" fill="#be383b" />
<rect x="112.30" y="400.42" width="31.68" height="1.64" fill="#b0bce1" />
<rect x="143.68" y="400.42" width="31.68" height="1.64" fill="#bfc8e7" />
<rect x="175.07" y="400.42" width="31.68" height="1.64" fill="#9baad9" />
<rect x="206.45" y="400.42" width="31.68" height="1.64" fill="#f2d0cb" />
<rect x="237.83" y="400.42" width="31.68" height="1.64" fill="#e4a096" />
<rect x="269.22" y="400.42" width="31.68" height="1.64" fill="#c64b45" />
<rect x="112.30" y="401.71" width="31.68" height="1.64" fill="#adb9e0" />
<rect x="143.68" y="401.71" width="31.68" height="1.64" fill="#c1c9e7" />
<rect x="175.07" y="401.71" width="31.68" height="1.64" fill="#a0aedb" />
<rect x="206.45" y="401.71" width="31.68" height="1.64" fill="#edbcb4" />
<rect x="237.83" y="401.71" width="31.68" height="1.64" fill="#e4a197" />
<rect x="269.22" y="401.71" width="31.68" height="1.64" fill="#c64a45" />
<rect x="112.30" y="403.00" width="31.68" height="1.64" fill="#b4bee2" />
<rect x="143.68" y="403.00" width="31.68" height="1.64" fill="#b4bee2" />
<rect x="175.07" y="403.00" width="31.68" height="1.64" fill="#adb9e0" />
<rect x="206.45" y="403.00" width="31.68" height="1.64" fill="#eab3ab" />
<rect x="237.83" y="403.00" width="31.68" height="1.64" fill="#e1988e" />
<rect x="269.22" y="403.00" width="31.68" height="1.64" fill="#bd343a" />
<rect x="112.30" y="404.29" width="31.68" height="1.64" fill="#b2bee2" />
<rect x="143.68" y="404.29" width="31.68" height="1.64" fill="#afbbe0" />
<rect x="175.07" y="404.29" width="31.68" height="1.64" fill="#aab7df" />
<rect x="206.45" y="404.29" width="31.68" height="1.64" fill="#f3dbd7" />
<rect x="237.83" y="404.29" width="31.68" height="1.64" fill="#e7a9a0" />
<rect x="269.22" y="404.29" width="31.68" height="1.64" fill="#c24040" />
<rect x="112.30" y="405.58" width="31.68" height="1.64" fill="#a9b6de" />
<rect x="143.68" y="405.58" width="31.68" height="1.64" fill="#adb9e0" />
<rect x="175.07" y="405.58" width="31.68" height="1.64" fill="#a0afdb" />
<rect x="206.45" y="405.58" width="31.68" height="1.64" fill="#edbdb5" />
<rect x="237.83" y="405.58" width="31.68" height="1.64" fill="#df9187" />
<rect x="269.22" y="405.58" width="31.68" height="1.64" fill="#b72532" />
<rect x="112.30" y="406.88" width="31.68" height="1.64" fill="#93a4d6" />
<rect x="143.68" y="406.88" width="31.68" height="1.64" fill="#b3bee2" />
<rect x="175.07" y="406.88" width="31.68" height="1.64" fill="#a7b4de" />
<rect x="206.45" y="406.88" width="31.68" height="1.64" fill="#ecb9b0" />
<rect x="237.83" y="406.88" width="31.68" height="1.64" fill="#de8f85" />
<rect x="269.22" y="406.88" width="31.68" height="1.64" fill="#b2182b" />
<rect x="112.30" y="408.17" width="31.68" height="1.64" fill="#a3b1dc" />
<rect x="143.68" y="408.17" width="31.68" height="1.64" fill="#a9b6de" />
<rect x="175.07" y="408.17" width="31.68" height="1.64" fill="#90a2d5" />
<rect x="206.45" y="408.17" width="31.68" height="1.64" fill="#f1cbc5" />
<rect x="237.83" y="408.17" width="31.68" height="1.64" fill="#d87d74" />
<rect x="269.22" y="408.17" width="31.68" height="1.64" fill="#bc3138" />
<rect x="112.30" y="409.46" width="31.68" height="1.64" fill="#a8b5de" />
<rect x="143.68" y="409.46" width="31.68" height="1.64" fill="#b3bee2" />
<rect x="175.07" y="409.46" width="31.68" height="1.64" fill="#a8b5de" />
<rect x="206.45" y="409.46" width="31.68" height="1.64" fill="#f3dad6" />
<rect x="237.83" y="409.46" width="31.68" height="1.64" fill="#e7a9a0" />
<rect x="269.22" y="409.46" width="31.68" height="1.64" fill="#c13d3e" />
<rect x="112.30" y="410.75" width="31.68" height="1.64" fill="#bcc5e5" />
<rect x="143.68" y="410.75" width="31.68" height="1.64" fill="#b3bee2" />
<rect x="175.07" y="410.75" width="31.68" height="1.64" fill="#c5cde9" />
<rect x="206.45" y="410.75" width="31.68" height="1.64" fill="#f0c6be" />
<rect x="237.83" y="410.75" width="31.68" height="1.64" fill="#dc8a80" />
<rect x="269.22" y="410.75" width="31.68" height="1.64" fill="#c85149" />
<rect x="112.30" y="412.04" width="31.68" height="1.64" fill="#a4b2dc" />
<rect x="143.68" y="412.04" width="31.68" height="1.64" fill="#bec7e6" />
<rect x="175.07" y="412.04" width="31.68" height="1.64" fill="#ced3eb" />
<rect x="206.45" y="412.04" width="31.68" height="1.64" fill="#f5e6e3" />
<rect x="237.83" y="412.04" width="31.68" height="1.64" fill="#ebb5ad" />
<rect x="269.22" y="412.04" width="31.68" height="1.64" fill="#c74c46" />
<rect x="112.30" y="413.33" width="31.68" height="1.64" fill="#a6b3dd" />
<rect x="143.68" y="413.33" width="31.68" height="1.64" fill="#c2cbe8" />
<rect x="175.07" y="413.33" width="31.68" height="1.64" fill="#b3bee2" />
<rect x="206.45" y="413.33" width="31.68" height="1.64" fill="#f3f1f4" />
<rect x="237.83" y="413.33" width="31.68" height="1.64" fill="#edbbb3" />
<rect x="269.22" y="413.33" width="31.68" height="1.64" fill="#c74f47" />
<rect x="112.30" y="414.62" width="31.68" height="1.64" fill="#abb8df" />
<rect x="143.68" y="414.62" width="31.68" height="1.64" fill="#b8c2e4" />
<rect x="175.07" y="414.62" width="31.68" height="1.64" fill="#cdd3ea" />
<rect x="206.45" y="414.62" width="31.68" height="1.64" fill="#dde0ee" />
<rect x="237.83" y="414.62" width="31.68" height="1.64" fill="#f0c6bf" />
<rect x="269.22" y="414.62" width="31.68" height="1.64" fill="#ca544c" />
<rect x="112.30" y="415.92" width="31.68" height="1.64" fill="#cbd1ea" />
<rect x="143.68" y="415.92" width="31.68" height="1.64" fill="#d4d8ec" />
<rect x="175.07" y="415.92" width="31.68" height="1.64" fill="#bec7e6" />
<rect x="206.45" y="415.92" width="31.68" height="1.64" fill="#dee1ef" />
<rect x="237.83" y="415.92" width="31.68" height="1.64" fill="#e7aaa1" />
<rect x="269.22" y="415.92" width="31.68" height="1.64" fill="#cd5d55" />
<rect x="112.30" y="417.21" width="31.68" height="1.64" fill="#d1d6eb" />
<rect x="143.68" y="417.21" width="31.68" height="1.64" fill="#d5daed" />
<rect x="175.07" y="417.21" width="31.68" height="1.64" fill="#dfe1ef" />
<rect x="206.45" y="417.21" width="31.68" height="1.64" fill="#ededf2" />
<rect x="237.83" y="417.21" width="31.68" height="1.64" fill="#eebfb7" />
<rect x="269.22" y="417.21" width="31.68" height="1.64" fill="#cb584f" />
<rect x="112.30" y="418.50" width="31.68" height="1.64" fill="#b7c1e3" />
<rect x="143.68" y="418.50" width="31.68" height="1.64" fill="#d2d7ec" />
<rect x="175.07" y="418.50" width="31.68" height="1.64" fill="#ced4eb" />
<rect x="206.45" y="418.50" width="31.68" height="1.64" fill="#ebebf2" />
<rect x="237.83" y="418.50" width="31.68" height="1.64" fill="#e8aca3" />
<rect x="269.22" y="418.50" width="31.68" height="1.64" fill="#c34442" />
<rect x="112.30" y="419.79" width="31.68" height="1.64" fill="#d2d7ec" />
<rect x="143.68" y="419.79" width="31.68" height="1.64" fill="#d8dced" />
<rect x="175.07" y="419.79" width="31.68" height="1.64" fill="#d2d7ec" />
<rect x="206.45" y="419.79" width="31.68" height="1.64" fill="#e1e3ef" />
<rect x="237.83" y="419.79" width="31.68" height="1.64" fill="#efc2ba" />
<rect x="269.22" y="419.79" width="31.68" height="1.64" fill="#c34241" />
<rect x="112.30" y="421.08" width="31.68" height="1.64" fill="#f0eff3" />
<rect x="143.68" y="421.08" width="31.68" height="1.64" fill="#e8e8f1" />
<rect x="175.07" y="421.08" width="31.68" height="1.64" fill="#dcdfee" />
<rect x="206.45" y="421.08" width="31.68" height="1.64" fill="#e7e8f1" />
<rect x="237.83" y="421.08" width="31.68" height="1.64" fill="#f2d6d1" />
<rect x="269.22" y="421.08" width="31.68" height="1.64" fill="#c9534b" />
<rect x="112.30" y="422.38" width="31.68" height="1.64" fill="#cdd3ea" />
<rect x="143.68" y="422.38" width="31.68" height="1.64" fill="#e3e4f0" />
<rect x="175.07" y="422.38" width="31.68" height="1.64" fill="#bcc6e5" />
<rect x="206.45" y="422.38" width="31.68" height="1.64" fill="#e2e4f0" />
<rect x="237.83" y="422.38" width="31.68" height="1.64" fill="#efc4bc" />
<rect x="269.22" y="422.38" width="31.68" height="1.64" fill="#bb3037" />
<rect x="112.30" y="423.67" width="31.68" height="1.64" fill="#d1d6eb" />
<rect x="143.68" y="423.67" width="31.68" height="1.64" fill="#e3e4f0" />
<rect x="175.07" y="423.67" width="31.68" height="1.64" fill="#ccd2ea" />
<rect x="206.45" y="423.67" width="31.68" height="1.64" fill="#ccd2ea" />
<rect x="237.83" y="423.67" width="31.68" height="1.64" fill="#f1cec8" />
<rect x="269.22" y="423.67" width="31.68" height="1.64" fill="#c64a45" />
<rect x="112.30" y="424.96" width="31.68" height="1.64" fill="#b7c1e3" />
<rect x="143.68" y="424.96" width="31.68" height="1.64" fill="#cbd1ea" />
<rect x="175.07" y="424.96" width="31.68" height="1.64" fill="#b4bfe3" />
<rect x="206.45" y="424.96" width="31.68" height="1.64" fill="#d4d9ec" />
<rect x="237.83" y="424.96" width="31.68" height="1.64" fill="#e8ada4" />
<rect x="269.22" y="424.96" width="31.68" height="1.64" fill="#b82833" />
<rect x="112.30" y="426.25" width="31.68" height="1.64" fill="#b0bce1" />
<rect x="143.68" y="426.25" width="31.68" height="1.64" fill="#cdd3ea" />
<rect x="175.07" y="426.25" width="31.68" height="1.64" fill="#b5bfe3" />
<rect x="206.45" y="426.25" width="31.68" height="1.64" fill="#d6daed" />
<rect x="237.83" y="426.25" width="31.68" height="1.64" fill="#e1978d" />
<rect x="269.22" y="426.25" width="31.68" height="1.64" fill="#c03b3d" />
<rect x="112.30" y="427.54" width="31.68" height="1.64" fill="#a4b2dc" />
<rect x="143.68" y="427.54" width="31.68" height="1.64" fill="#b9c3e4" />
<rect x="175.07" y="427.54" width="31.68" height="1.64" fill="#b0bce1" />
<rect x="206.45" y="427.54" width="31.68" height="1.64" fill="#f2f0f4" />
<rect x="237.83" y="427.54" width="31.68" height="1.64" fill="#d98077" />
<rect x="269.22" y="427.54" width="31.68" height="1.64" fill="#bc3038" />
<rect x="112.30" y="428.83" width="31.68" height="1.64" fill="#9aaad9" />
<rect x="143.68" y="428.83" width="31.68" height="1.64" fill="#bcc5e5" />
<rect x="175.07" y="428.83" width="31.68" height="1.64" fill="#abb8df" />
<rect x="206.45" y="428.83" width="31.68" height="1.64" fill="#f4f2f4" />
<rect x="237.83" y="428.83" width="31.68" height="1.64" fill="#d98076" />
<rect x="269.22" y="428.83" width="31.68" height="1.64" fill="#bd353a" />
<rect x="112.30" y="430.12" width="31.68" height="1.64" fill="#98a8d8" />
<rect x="143.68" y="430.12" width="31.68" height="1.64" fill="#bcc5e5" />
<rect x="175.07" y="430.12" width="31.68" height="1.64" fill="#b2bde2" />
<rect x="206.45" y="430.12" width="31.68" height="1.64" fill="#eaeaf2" />
<rect x="237.83" y="430.12" width="31.68" height="1.64" fill="#e1978e" />
<rect x="269.22" y="430.12" width="31.68" height="1.64" fill="#bb2f37" />
<rect x="112.30" y="431.42" width="31.68" height="1.64" fill="#8c9fd3" />
<rect x="143.68" y="431.42" width="31.68" height="1.64" fill="#a2b0dc" />
<rect x="175.07" y="431.42" width="31.68" height="1.64" fill="#bac4e5" />
<rect x="206.45" y="431.42" width="31.68" height="1.64" fill="#f5e4e1" />
<rect x="237.83" y="431.42" width="31.68" height="1.64" fill="#db877d" />
<rect x="269.22" y="431.42" width="31.68" height="1.64" fill="#b62230" />
<rect x="112.30" y="432.71" width="31.68" height="1.64" fill="#a0aedb" />
<rect x="143.68" y="432.71" width="31.68" height="1.64" fill="#9babd9" />
<rect x="175.07" y="432.71" width="31.68" height="1.64" fill="#c1c9e7" />
<rect x="206.45" y="432.71" width="31.68" height="1.64" fill="#f4dfdc" />
<rect x="237.83" y="432.71" width="31.68" height="1.64" fill="#e8aea5" />
<rect x="269.22" y="432.71" width="31.68" height="1.64" fill="#b72632" />
<rect x="112.30" y="434.00" width="31.68" height="1.64" fill="#98a8d8" />
<rect x="143.68" y="434.00" width="31.68" height="1.64" fill="#a7b4dd" />
<rect x="175.07" y="434.00" width="31.68" height="1.64" fill="#c3cbe8" />
<rect x="206.45" y="434.00" width="31.68" height="1.64" fill="#f7f2f1" />
<rect x="237.83" y="434.00" width="31.68" height="1.64" fill="#e9afa6" />
<rect x="269.22" y="434.00" width="31.68" height="1.64" fill="#c34442" />
<rect x="112.30" y="435.29" width="31.68" height="1.64" fill="#a3b1dc" />
<rect x="143.68" y="435.29" width="31.68" height="1.64" fill="#b6c0e3" />
<rect x="175.07" y="435.29" width="31.68" height="1.64" fill="#c2cae8" />
<rect x="206.45" y="435.29" width="31.68" height="1.64" fill="#f8f3f2" />
<rect x="237.83" y="435.29" width="31.68" height="1.64" fill="#e5a399" />
<rect x="269.22" y="435.29" width="31.68" height="1.64" fill="#cc5b52" />
<rect x="112.30" y="436.58" width="31.68" height="1.64" fill="#aebae0" />
<rect x="143.68" y="436.58" width="31.68" height="1.64" fill="#b3bee2" />
<rect x="175.07" y="436.58" width="31.68" height="1.64" fill="#c5cde9" />
<rect x="206.45" y="436.58" width="31.68" height="1.64" fill="#d5d9ec" />
<rect x="237.83" y="436.58" width="31.68" height="1.64" fill="#f2d2cc" />
<rect x="269.22" y="436.58" width="31.68" height="1.64" fill="#cf645b" />
<rect x="112.30" y="437.88" width="31.68" height="1.64" fill="#b5c0e3" />
<rect x="143.68" y="437.88" width="31.68" height="1.64" fill="#a8b5de" />
<rect x="175.07" y="437.88" width="31.68" height="1.64" fill="#b0bce1" />
<rect x="206.45" y="437.88" width="31.68" height="1.64" fill="#d8dbed" />
<rect x="237.83" y="437.88" width="31.68" height="1.64" fill="#e6a69d" />
<rect x="269.22" y="437.88" width="31.68" height="1.64" fill="#ca554c" />
<rect x="112.30" y="439.17" width="31.68" height="1.64" fill="#a4b2dc" />
<rect x="143.68" y="439.17" width="31.68" height="1.64" fill="#9eadda" />
<rect x="175.07" y="439.17" width="31.68" height="1.64" fill="#afbae0" />
<rect x="206.45" y="439.17" width="31.68" height="1.64" fill="#f0eef3" />
<rect x="237.83" y="439.17" width="31.68" height="1.64" fill="#df9187" />
<rect x="269.22" y="439.17" width="31.68" height="1.64" fill="#c13f3f" />
<rect x="112.30" y="440.46" width="31.68" height="1.64" fill="#a4b1dc" />
<rect x="143.68" y="440.46" width="31.68" height="1.64" fill="#a2b0db" />
<rect x="175.07" y="440.46" width="31.68" height="1.64" fill="#9cacd9" />
<rect x="206.45" y="440.46" width="31.68" height="1.64" fill="#e1e3ef" />
<rect x="237.83" y="440.46" width="31.68" height="1.64" fill="#e0968c" />
<rect x="269.22" y="440.46" width="31.68" height="1.64" fill="#c54944" />
<rect x="112.30" y="441.75" width="31.68" height="1.64" fill="#9babd9" />
<rect x="143.68" y="441.75" width="31.68" height="1.64" fill="#b9c3e4" />
<rect x="175.07" y="441.75" width="31.68" height="1.64" fill="#aebae0" />
<rect x="206.45" y="441.75" width="31.68" height="1.64" fill="#e7e7f1" />
<rect x="237.83" y="441.75" width="31.68" height="1.64" fill="#e29b92" />
<rect x="269.22" y="441.75" width="31.68" height="1.64" fill="#d0685f" />
<rect x="112.30" y="443.04" width="31.68" height="1.64" fill="#94a5d6" />
<rect x="143.68" y="443.04" width="31.68" height="1.64" fill="#cdd3eb" />
<rect x="175.07" y="443.04" width="31.68" height="1.64" fill="#aebae0" />
<rect x="206.45" y="443.04" width="31.68" height="1.64" fill="#eaeaf2" />
<rect x="237.83" y="443.04" width="31.68" height="1.64" fill="#de8e85" />
<rect x="269.22" y="443.04" width="31.68" height="1.64" fill="#d0675e" />
<rect x="112.30" y="444.33" width="31.68" height="1.64" fill="#a2b0dc" />
<rect x="143.68" y="444.33" width="31.68" height="1.64" fill="#d7dbed" />
<rect x="175.07" y="444.33" width="31.68" height="1.64" fill="#b6c1e3" />
<rect x="206.45" y="444.33" width="31.68" height="1.64" fill="#efeef3" />
<rect x="237.83" y="444.33" width="31.68" height="1.64" fill="#f0cac3" />
<rect x="269.22" y="444.33" width="31.68" height="1.64" fill="#d0665e" />
<rect x="112.30" y="445.62" width="31.68" height="1.64" fill="#a4b2dc" />
<rect x="143.68" y="445.62" width="31.68" height="1.64" fill="#bdc6e6" />
<rect x="175.07" y="445.62" width="31.68" height="1.64" fill="#b7c1e3" />
<rect x="206.45" y="445.62" width="31.68" height="1.64" fill="#f7f0f0" />
<rect x="237.83" y="445.62" width="31.68" height="1.64" fill="#eab2aa" />
<rect x="269.22" y="445.62" width="31.68" height="1.64" fill="#c9544c" />
<rect x="112.30" y="446.92" width="31.68" height="1.64" fill="#bdc6e6" />
<rect x="143.68" y="446.92" width="31.68" height="1.64" fill="#c0c8e7" />
<rect x="175.07" y="446.92" width="31.68" height="1.64" fill="#b3bee2" />
<rect x="206.45" y="446.92" width="31.68" height="1.64" fill="#e2e3ef" />
<rect x="237.83" y="446.92" width="31.68" height="1.64" fill="#e8ada4" />
<rect x="269.22" y="446.92" width="31.68" height="1.64" fill="#cd5e56" />
<rect x="112.30" y="448.21" width="31.68" height="1.64" fill="#c7cee9" />
<rect x="143.68" y="448.21" width="31.68" height="1.64" fill="#bfc8e7" />
<rect x="175.07" y="448.21" width="31.68" height="1.64" fill="#cdd3ea" />
<rect x="206.45" y="448.21" width="31.68" height="1.64" fill="#f7efee" />
<rect x="237.83" y="448.21" width="31.68" height="1.64" fill="#edbcb4" />
<rect x="269.22" y="448.21" width="31.68" height="1.64" fill="#d47168" />
<rect x="112.30" y="449.50" width="31.68" height="1.64" fill="#cad0ea" />
<rect x="143.68" y="449.50" width="31.68" height="1.64" fill="#b4bfe2" />
<rect x="175.07" y="449.50" width="31.68" height="1.64" fill="#bfc8e7" />
<rect x="206.45" y="449.50" width="31.68" height="1.64" fill="#f4dfdb" />
<rect x="237.83" y="449.50" width="31.68" height="1.64" fill="#e9b1a9" />
<rect x="269.22" y="449.50" width="31.68" height="1.64" fill="#cd5f56" />
<rect x="112.30" y="450.79" width="31.68" height="1.64" fill="#b8c2e4" />
<rect x="143.68" y="450.79" width="31.68" height="1.64" fill="#b6c1e3" />
<rect x="175.07" y="450.79" width="31.68" height="1.64" fill="#bec7e6" />
<rect x="206.45" y="450.79" width="31.68" height="1.64" fill="#f3d7d2" />
<rect x="237.83" y="450.79" width="31.68" height="1.64" fill="#eab4ac" />
<rect x="269.22" y="450.79" width="31.68" height="1.64" fill="#c95249" />
<rect x="112.30" y="452.08" width="31.68" height="1.64" fill="#bec7e6" />
<rect x="143.68" y="452.08" width="31.68" height="1.64" fill="#c5cde9" />
<rect x="175.07" y="452.08" width="31.68" height="1.64" fill="#d1d6eb" />
<rect x="206.45" y="452.08" width="31.68" height="1.64" fill="#f4e0dd" />
<rect x="237.83" y="452.08" width="31.68" height="1.64" fill="#ebb6ae" />
<rect x="269.22" y="452.08" width="31.68" height="1.64" fill="#ce6259" />
<rect x="112.30" y="453.38" width="31.68" height="1.64" fill="#bfc7e6" />
<rect x="143.68" y="453.38" width="31.68" height="1.64" fill="#c4cce8" />
<rect x="175.07" y="453.38" width="31.68" height="1.64" fill="#c6cde9" />
<rect x="206.45" y="453.38" width="31.68" height="1.64" fill="#f4e0dc" />
<rect x="237.83" y="453.38" width="31.68" height="1.64" fill="#dd8d83" />
<rect x="269.22" y="453.38" width="31.68" height="1.64" fill="#cc5c54" />
<rect x="112.30" y="454.67" width="31.68" height="1.64" fill="#c5cce8" />
<rect x="143.68" y="454.67" width="31.68" height="1.64" fill="#bfc8e6" />
<rect x="175.07" y="454.67" width="31.68" height="1.64" fill="#c8cfe9" />
<rect x="206.45" y="454.67" width="31.68" height="1.64" fill="#f7f1f1" />
<rect x="237.83" y="454.67" width="31.68" height="1.64" fill="#e5a39a" />
<rect x="269.22" y="454.67" width="31.68" height="1.64" fill="#cb5850" />
<rect x="112.30" y="455.96" width="31.68" height="1.64" fill="#c2cbe8" />
<rect x="143.68" y="455.96" width="31.68" height="1.64" fill="#bac3e5" />
<rect x="175.07" y="455.96" width="31.68" height="1.64" fill="#cdd3ea" />
<rect x="206.45" y="455.96" width="31.68" height="1.64" fill="#e7e8f1" />
<rect x="237.83" y="455.96" width="31.68" height="1.64" fill="#e29c93" />
<rect x="269.22" y="455.96" width="31.68" height="1.64" fill="#cd5e56" />
<rect x="112.30" y="457.25" width="31.68" height="1.64" fill="#ccd2ea" />
<rect x="143.68" y="457.25" width="31.68" height="1.64" fill="#c4cce8" />
<rect x="175.07" y="457.25" width="31.68" height="1.64" fill="#bbc5e5" />
<rect x="206.45" y="457.25" width="31.68" height="1.64" fill="#e8e8f1" />
<rect x="237.83" y="457.25" width="31.68" height="1.64" fill="#e29c93" />
<rect x="269.22" y="457.25" width="31.68" height="1.64" fill="#d16960" />
<rect x="112.30" y="458.54" width="31.68" height="1.64" fill="#b1bce1" />
<rect x="143.68" y="458.54" width="31.68" height="1.64" fill="#afbbe0" />
<rect x="175.07" y="458.54" width="31.68" height="1.64" fill="#afbae0" />
<rect x="206.45" y="458.54" width="31.68" height="1.64" fill="#f6e8e6" />
<rect x="237.83" y="458.54" width="31.68" height="1.64" fill="#db887e" />
<rect x="269.22" y="458.54" width="31.68" height="1.64" fill="#c54743" />
<rect x="112.30" y="459.83" width="31.68" height="1.64" fill="#c5cce8" />
<rect x="143.68" y="459.83" width="31.68" height="1.64" fill="#c6cde9" />
<rect x="175.07" y="459.83" width="31.68" height="1.64" fill="#bbc4e5" />
<rect x="206.45" y="459.83" width="31.68" height="1.64" fill="#f5e4e2" />
<rect x="237.83" y="459.83" width="31.68" height="1.64" fill="#e4a298" />
<rect x="269.22" y="459.83" width="31.68" height="1.64" fill="#c84f48" />
<rect x="112.30" y="461.12" width="31.68" height="1.64" fill="#b2bde2" />
<rect x="143.68" y="461.12" width="31.68" height="1.64" fill="#b2bde1" />
<rect x="175.07" y="461.12" width="31.68" height="1.64" fill="#a6b3dd" />
<rect x="206.45" y="461.12" width="31.68" height="1.64" fill="#efc1b9" />
<rect x="237.83" y="461.12" width="31.68" height="1.64" fill="#dc897f" />
<rect x="269.22" y="461.12" width="31.68" height="1.64" fill="#c13d3e" />
<rect x="112.30" y="462.42" width="31.68" height="1.64" fill="#c8cfe9" />
<rect x="143.68" y="462.42" width="31.68" height="1.64" fill="#b9c3e4" />
<rect x="175.07" y="462.42" width="31.68" height="1.64" fill="#b0bbe1" />
<rect x="206.45" y="462.42" width="31.68" height="1.64" fill="#f2d5d0" />
<rect x="237.83" y="462.42" width="31.68" height="1.64" fill="#d5746b" />
<rect x="269.22" y="462.42" width="31.68" height="1.64" fill="#be373b" />
<rect x="112.30" y="463.71" width="31.68" height="1.64" fill="#bec7e6" />
<rect x="143.68" y="463.71" width="31.68" height="1.64" fill="#a5b3dd" />
<rect x="175.07" y="463.71" width="31.68" height="1.64" fill="#b9c3e4" />
<rect x="206.45" y="463.71" width="31.68" height="1.64" fill="#f6ebe9" />
<rect x="237.83" y="463.71" width="31.68" height="1.64" fill="#d47168" />
<rect x="269.22" y="463.71" width="31.68" height="1.64" fill="#c24040" />
<rect x="112.30" y="465.00" width="31.68" height="1.64" fill="#bac4e5" />
<rect x="143.68" y="465.00" width="31.68" height="1.64" fill="#aab6df" />
<rect x="175.07" y="465.00" width="31.68" height="1.64" fill="#a8b5de" />
<rect x="206.45" y="465.00" width="31.68" height="1.64" fill="#f5e7e4" />
<rect x="237.83" y="465.00" width="31.68" height="1.64" fill="#d36f66" />
<rect x="269.22" y="465.00" width="31.68" height="1.64" fill="#c24140" />
<rect x="112.30" y="466.29" width="31.68" height="1.64" fill="#a9b6de" />
<rect x="143.68" y="466.29" width="31.68" height="1.64" fill="#99a9d8" />
<rect x="175.07" y="466.29" width="31.68" height="1.64" fill="#9cabd9" />
<rect x="206.45" y="466.29" width="31.68" height="1.64" fill="#f3dbd7" />
<rect x="237.83" y="466.29" width="31.68" height="1.64" fill="#d47269" />
<rect x="269.22" y="466.29" width="31.68" height="1.64" fill="#c03a3d" />
<rect x="112.30" y="467.58" width="31.68" height="1.64" fill="#a2b0dc" />
<rect x="143.68" y="467.58" width="31.68" height="1.64" fill="#92a4d6" />
<rect x="175.07" y="467.58" width="31.68" height="1.64" fill="#92a4d6" />
<rect x="206.45" y="467.58" width="31.68" height="1.64" fill="#f1cec8" />
<rect x="237.83" y="467.58" width="31.68" height="1.64" fill="#c64b46" />
<rect x="269.22" y="467.58" width="31.68" height="1.64" fill="#c13e3e" />
<rect x="112.30" y="468.88" width="31.68" height="1.64" fill="#a2b0dc" />
<rect x="143.68" y="468.88" width="31.68" height="1.64" fill="#859ad0" />
<rect x="175.07" y="468.88" width="31.68" height="1.64" fill="#9fadda" />
<rect x="206.45" y="468.88" width="31.68" height="1.64" fill="#f3d6d1" />
<rect x="237.83" y="468.88" width="31.68" height="1.64" fill="#cc5b53" />
<rect x="269.22" y="468.88" width="31.68" height="1.64" fill="#b82833" />
<rect x="112.30" y="470.17" width="31.68" height="1.64" fill="#b3bee2" />
<rect x="143.68" y="470.17" width="31.68" height="1.64" fill="#a2b0dc" />
<rect x="175.07" y="470.17" width="31.68" height="1.64" fill="#acb8df" />
<rect x="206.45" y="470.17" width="31.68" height="1.64" fill="#f6eae8" />
<rect x="237.83" y="470.17" width="31.68" height="1.64" fill="#d77c72" />
<rect x="269.22" y="470.17" width="31.68" height="1.64" fill="#ba2d36" />
<rect x="112.30" y="471.46" width="31.68" height="1.64" fill="#b9c3e4" />
<rect x="143.68" y="471.46" width="31.68" height="1.64" fill="#b3bee2" />
<rect x="175.07" y="471.46" width="31.68" height="1.64" fill="#c0c8e7" />
<rect x="206.45" y="471.46" width="31.68" height="1.64" fill="#f4deda" />
<rect x="237.83" y="471.46" width="31.68" height="1.64" fill="#df9187" />
<rect x="269.22" y="471.46" width="31.68" height="1.64" fill="#c13f3f" />
<rect x="112.30" y="472.75" width="31.68" height="1.64" fill="#e0e2ef" />
<rect x="143.68" y="472.75" width="31.68" height="1.64" fill="#bcc5e5" />
<rect x="175.07" y="472.75" width="31.68" height="1.64" fill="#d2d7ec" />
<rect x="206.45" y="472.75" width="31.68" height="1.64" fill="#efeef3" />
<rect x="237.83" y="472.75" width="31.68" height="1.64" fill="#dd8b81" />
<rect x="269.22" y="472.75" width="31.68" height="1.64" fill="#cb5950" />
<rect x="112.30" y="474.04" width="31.68" height="1.64" fill="#c0c9e7" />
<rect x="143.68" y="474.04" width="31.68" height="1.64" fill="#b2bee2" />
<rect x="175.07" y="474.04" width="31.68" height="1.64" fill="#c5cce8" />
<rect x="206.45" y="474.04" width="31.68" height="1.64" fill="#f6eae8" />
<rect x="237.83" y="474.04" width="31.68" height="1.64" fill="#da847a" />
<rect x="269.22" y="474.04" width="31.68" height="1.64" fill="#c9524a" />
<rect x="112.30" y="475.33" width="31.68" height="1.64" fill="#daddee" />
<rect x="143.68" y="475.33" width="31.68" height="1.64" fill="#d5daed" />
<rect x="175.07" y="475.33" width="31.68" height="1.64" fill="#f4f2f4" />
<rect x="206.45" y="475.33" width="31.68" height="1.64" fill="#f8f4f4" />
<rect x="237.83" y="475.33" width="31.68" height="1.64" fill="#e39d93" />
<rect x="269.22" y="475.33" width="31.68" height="1.64" fill="#d16b62" />
<rect x="112.30" y="476.62" width="31.68" height="1.64" fill="#d3d8ec" />
<rect x="143.68" y="476.62" width="31.68" height="1.64" fill="#d7dbed" />
<rect x="175.07" y="476.62" width="31.68" height="1.64" fill="#f8f3f2" />
<rect x="206.45" y="476.62" width="31.68" height="1.64" fill="#c5cde9" />
<rect x="237.83" y="476.62" width="31.68" height="1.64" fill="#eec0b7" />
<rect x="269.22" y="476.62" width="31.68" height="1.64" fill="#d36e65" />
<rect x="112.30" y="477.92" width="31.68" height="1.64" fill="#ccd2ea" />
<rect x="143.68" y="477.92" width="31.68" height="1.64" fill="#d8dced" />
<rect x="175.07" y="477.92" width="31.68" height="1.64" fill="#d9ddee" />
<rect x="206.45" y="477.92" width="31.68" height="1.64" fill="#dbdeee" />
<rect x="237.83" y="477.92" width="31.68" height="1.64" fill="#efc1b8" />
<rect x="269.22" y="477.92" width="31.68" height="1.64" fill="#d4746a" />
<rect x="112.30" y="479.21" width="31.68" height="1.64" fill="#c4cce8" />
<rect x="143.68" y="479.21" width="31.68" height="1.64" fill="#ccd2ea" />
<rect x="175.07" y="479.21" width="31.68" height="1.64" fill="#cad0ea" />
<rect x="206.45" y="479.21" width="31.68" height="1.64" fill="#f4f2f4" />
<rect x="237.83" y="479.21" width="31.68" height="1.64" fill="#e5a59b" />
<rect x="269.22" y="479.21" width="31.68" height="1.64" fill="#cf655d" />
<rect x="112.30" y="480.50" width="31.68" height="1.64" fill="#b3bee2" />
<rect x="143.68" y="480.50" width="31.68" height="1.64" fill="#bfc8e7" />
<rect x="175.07" y="480.50" width="31.68" height="1.64" fill="#bbc4e5" />
<rect x="206.45" y="480.50" width="31.68" height="1.64" fill="#f8f4f4" />
<rect x="237.83" y="480.50" width="31.68" height="1.64" fill="#da847a" />
<rect x="269.22" y="480.50" width="31.68" height="1.64" fill="#cb5850" />
<rect x="112.30" y="481.79" width="31.68" height="1.64" fill="#b0bce1" />
<rect x="143.68" y="481.79" width="31.68" height="1.64" fill="#c3cbe8" />
<rect x="175.07" y="481.79" width="31.68" height="1.64" fill="#bfc8e7" />
<rect x="206.45" y="481.79" width="31.68" height="1.64" fill="#f6ebea" />
<rect x="237.83" y="481.79" width="31.68" height="1.64" fill="#cb5951" />
<rect x="269.22" y="481.79" width="31.68" height="1.64" fill="#cf635a" />
<rect x="112.30" y="483.08" width="31.68" height="1.64" fill="#aab6de" />
<rect x="143.68" y="483.08" width="31.68" height="1.64" fill="#c1cae7" />
<rect x="175.07" y="483.08" width="31.68" height="1.64" fill="#c2cae8" />
<rect x="206.45" y="483.08" width="31.68" height="1.64" fill="#daddee" />
<rect x="237.83" y="483.08" width="31.68" height="1.64" fill="#d16a61" />
<rect x="269.22" y="483.08" width="31.68" height="1.64" fill="#ce6058" />
<rect x="112.30" y="484.38" width="31.68" height="1.64" fill="#b9c3e4" />
<rect x="143.68" y="484.38" width="31.68" height="1.64" fill="#bac4e5" />
<rect x="175.07" y="484.38" width="31.68" height="1.64" fill="#c0c9e7" />
<rect x="206.45" y="484.38" width="31.68" height="1.64" fill="#d7dbed" />
<rect x="237.83" y="484.38" width="31.68" height="1.64" fill="#bb3037" />
<rect x="269.22" y="484.38" width="31.68" height="1.64" fill="#cc5c53" />
<rect x="112.30" y="485.67" width="31.68" height="1.64" fill="#d5daec" />
<rect x="143.68" y="485.67" width="31.68" height="1.64" fill="#bbc4e5" />
<rect x="175.07" y="485.67" width="31.68" height="1.64" fill="#c2cae7" />
<rect x="206.45" y="485.67" width="31.68" height="1.64" fill="#e3e5f0" />
<rect x="237.83" y="485.67" width="31.68" height="1.64" fill="#c44643" />
<rect x="269.22" y="485.67" width="31.68" height="1.64" fill="#d16860" />
<rect x="112.30" y="486.96" width="31.68" height="1.64" fill="#e3e5f0" />
<rect x="143.68" y="486.96" width="31.68" height="1.64" fill="#c1c9e7" />
<rect x="175.07" y="486.96" width="31.68" height="1.64" fill="#bfc8e7" />
<rect x="206.45" y="486.96" width="31.68" height="1.64" fill="#f7f1f1" />
<rect x="237.83" y="486.96" width="31.68" height="1.64" fill="#cc5c54" />
<rect x="269.22" y="486.96" width="31.68" height="1.64" fill="#ca554c" />
<rect x="112.30" y="488.25" width="31.68" height="1.64" fill="#cad1ea" />
<rect x="143.68" y="488.25" width="31.68" height="1.64" fill="#cad0ea" />
<rect x="175.07" y="488.25" width="31.68" height="1.64" fill="#c6cee9" />
<rect x="206.45" y="488.25" width="31.68" height="1.64" fill="#f5f3f4" />
<rect x="237.83" y="488.25" width="31.68" height="1.64" fill="#cb5850" />
<rect x="269.22" y="488.25" width="31.68" height="1.64" fill="#c74d46" />
<rect x="112.30" y="489.54" width="31.68" height="1.64" fill="#c6cde9" />
<rect x="143.68" y="489.54" width="31.68" height="1.64" fill="#b6c0e3" />
<rect x="175.07" y="489.54" width="31.68" height="1.64" fill="#ececf2" />
<rect x="206.45" y="489.54" width="31.68" height="1.64" fill="#e4e5f0" />
<rect x="237.83" y="489.54" width="31.68" height="1.64" fill="#d37067" />
<rect x="269.22" y="489.54" width="31.68" height="1.64" fill="#cd5d55" />
<rect x="112.30" y="490.83" width="31.68" height="1.64" fill="#cfd4eb" />
<rect x="143.68" y="490.83" width="31.68" height="1.64" fill="#a9b6de" />
<rect x="175.07" y="490.83" width="31.68" height="1.64" fill="#dbdeee" />
<rect x="206.45" y="490.83" width="31.68" height="1.64" fill="#d9dced" />
<rect x="237.83" y="490.83" width="31.68" height="1.64" fill="#c64c46" />
<rect x="269.22" y="490.83" width="31.68" height="1.64" fill="#cd5e56" />
<rect x="112.30" y="492.12" width="31.68" height="1.64" fill="#e7e8f1" />
<rect x="143.68" y="492.12" width="31.68" height="1.64" fill="#aebae0" />
<rect x="175.07" y="492.12" width="31.68" height="1.64" fill="#dcdfee" />
<rect x="206.45" y="492.12" width="31.68" height="1.64" fill="#e3e4f0" />
<rect x="237.83" y="492.12" width="31.68" height="1.64" fill="#cc5c54" />
<rect x="269.22" y="492.12" width="31.68" height="1.64" fill="#d26e65" />
<rect x="112.30" y="493.42" width="31.68" height="1.64" fill="#f0eff3" />
<rect x="143.68" y="493.42" width="31.68" height="1.64" fill="#b6c0e3" />
<rect x="175.07" y="493.42" width="31.68" height="1.64" fill="#dcdfee" />
<rect x="206.45" y="493.42" width="31.68" height="1.64" fill="#eaeaf2" />
<rect x="237.83" y="493.42" width="31.68" height="1.64" fill="#cf635a" />
<rect x="269.22" y="493.42" width="31.68" height="1.64" fill="#d4746a" />
<rect x="112.30" y="494.71" width="31.68" height="1.64" fill="#f1eff3" />
<rect x="143.68" y="494.71" width="31.68" height="1.64" fill="#b0bbe1" />
<rect x="175.07" y="494.71" width="31.68" height="1.64" fill="#d0d5eb" />
<rect x="206.45" y="494.71" width="31.68" height="1.64" fill="#f6f3f4" />
<rect x="237.83" y="494.71" width="31.68" height="1.64" fill="#ca564e" />
<rect x="269.22" y="494.71" width="31.68" height="1.64" fill="#cf635b" />
<rect x="112.30" y="496.00" width="31.68" height="1.66" fill="#9faedb" />
<rect x="143.68" y="496.00" width="31.68" height="1.66" fill="#d0d6eb" />
<rect x="175.07" y="496.00" width="31.68" height="1.66" fill="#bcc6e6" />
<rect x="206.45" y="496.00" width="31.68" height="1.66" fill="#ce6259" />
<rect x="237.83" y="496.00" width="31.68" height="1.66" fill="#db857b" />
<rect x="269.22" y="496.00" width="31.68" height="1.66" fill="#f7edec" />
<rect x="112.30" y="497.31" width="31.68" height="1.66" fill="#a6b3dd" />
<rect x="143.68" y="497.31" width="31.68" height="1.66" fill="#e3e5f0" />
<rect x="175.07" y="497.31" width="31.68" height="1.66" fill="#dcdfee" />
<rect x="206.45" y="497.31" width="31.68" height="1.66" fill="#d5766d" />
<rect x="237.83" y="497.31" width="31.68" height="1.66" fill="#e9b0a7" />
<rect x="269.22" y="497.31" width="31.68" height="1.66" fill="#dee0ef" />
<rect x="112.30" y="498.63" width="31.68" height="1.66" fill="#a6b3dd" />
<rect x="143.68" y="498.63" width="31.68" height="1.66" fill="#ebebf2" />
<rect x="175.07" y="498.63" width="31.68" height="1.66" fill="#ebeaf2" />
<rect x="206.45" y="498.63" width="31.68" height="1.66" fill="#dc887f" />
<rect x="237.83" y="498.63" width="31.68" height="1.66" fill="#f3d9d4" />
<rect x="269.22" y="498.63" width="31.68" height="1.66" fill="#bbc4e5" />
<rect x="112.30" y="499.94" width="31.68" height="1.66" fill="#9cabd9" />
<rect x="143.68" y="499.94" width="31.68" height="1.66" fill="#dee1ef" />
<rect x="175.07" y="499.94" width="31.68" height="1.66" fill="#e0e2ef" />
<rect x="206.45" y="499.94" width="31.68" height="1.66" fill="#da837a" />
<rect x="237.83" y="499.94" width="31.68" height="1.66" fill="#f4dfdc" />
<rect x="269.22" y="499.94" width="31.68" height="1.66" fill="#bfc8e6" />
<rect x="112.30" y="501.26" width="31.68" height="1.66" fill="#9fadda" />
<rect x="143.68" y="501.26" width="31.68" height="1.66" fill="#d2d7ec" />
<rect x="175.07" y="501.26" width="31.68" height="1.66" fill="#c3cbe8" />
<rect x="206.45" y="501.26" width="31.68" height="1.66" fill="#da8379" />
<rect x="237.83" y="501.26" width="31.68" height="1.66" fill="#f6ecea" />
<rect x="269.22" y="501.26" width="31.68" height="1.66" fill="#e4e5f0" />
<rect x="112.30" y="502.57" width="31.68" height="1.66" fill="#abb7df" />
<rect x="143.68" y="502.57" width="31.68" height="1.66" fill="#dfe1ef" />
<rect x="175.07" y="502.57" width="31.68" height="1.66" fill="#b8c2e4" />
<rect x="206.45" y="502.57" width="31.68" height="1.66" fill="#efc1b9" />
<rect x="237.83" y="502.57" width="31.68" height="1.66" fill="#f7edec" />
<rect x="269.22" y="502.57" width="31.68" height="1.66" fill="#f2f0f4" />
<rect x="112.30" y="503.89" width="31.68" height="1.66" fill="#b0bce1" />
<rect x="143.68" y="503.89" width="31.68" height="1.66" fill="#d9dced" />
<rect x="175.07" y="503.89" width="31.68" height="1.66" fill="#a8b5de" />
<rect x="206.45" y="503.89" width="31.68" height="1.66" fill="#e39f96" />
<rect x="237.83" y="503.89" width="31.68" height="1.66" fill="#f2d4cf" />
<rect x="269.22" y="503.89" width="31.68" height="1.66" fill="#f6ebe9" />
<rect x="112.30" y="505.20" width="31.68" height="1.66" fill="#a0afdb" />
<rect x="143.68" y="505.20" width="31.68" height="1.66" fill="#edecf2" />
<rect x="175.07" y="505.20" width="31.68" height="1.66" fill="#c9d0e9" />
<rect x="206.45" y="505.20" width="31.68" height="1.66" fill="#f0c9c2" />
<rect x="237.83" y="505.20" width="31.68" height="1.66" fill="#f2d2cd" />
<rect x="269.22" y="505.20" width="31.68" height="1.66" fill="#f6eae8" />
<rect x="112.30" y="506.51" width="31.68" height="1.66" fill="#91a3d5" />
<rect x="143.68" y="506.51" width="31.68" height="1.66" fill="#ced4eb" />
<rect x="175.07" y="506.51" width="31.68" height="1.66" fill="#bec7e6" />
<rect x="206.45" y="506.51" width="31.68" height="1.66" fill="#ebb6ad" />
<rect x="237.83" y="506.51" width="31.68" height="1.66" fill="#f4e0dd" />
<rect x="269.22" y="506.51" width="31.68" height="1.66" fill="#eec0b8" />
<rect x="112.30" y="507.83" width="31.68" height="1.66" fill="#93a4d6" />
<rect x="143.68" y="507.83" width="31.68" height="1.66" fill="#e1e2ef" />
<rect x="175.07" y="507.83" width="31.68" height="1.66" fill="#e5e6f0" />
<rect x="206.45" y="507.83" width="31.68" height="1.66" fill="#f1ccc6" />
<rect x="237.83" y="507.83" width="31.68" height="1.66" fill="#f4dcd8" />
<rect x="269.22" y="507.83" width="31.68" height="1.66" fill="#f1cfc9" />
<rect x="112.30" y="509.14" width="31.68" height="1.66" fill="#99a9d8" />
<rect x="143.68" y="509.14" width="31.68" height="1.66" fill="#cdd3ea" />
<rect x="175.07" y="509.14" width="31.68" height="1.66" fill="#f2f1f4" />
<rect x="206.45" y="509.14" width="31.68" height="1.66" fill="#efc4bc" />
<rect x="237.83" y="509.14" width="31.68" height="1.66" fill="#efc3bb" />
<rect x="269.22" y="509.14" width="31.68" height="1.66" fill="#e7aaa1" />
<rect x="112.30" y="510.46" width="31.68" height="1.66" fill="#91a3d5" />
<rect x="143.68" y="510.46" width="31.68" height="1.66" fill="#d1d6ec" />
<rect x="175.07" y="510.46" width="31.68" height="1.66" fill="#dcdeee" />
<rect x="206.45" y="510.46" width="31.68" height="1.66" fill="#e4a198" />
<rect x="237.83" y="510.46" width="31.68" height="1.66" fill="#eab2a9" />
<rect x="269.22" y="510.46" width="31.68" height="1.66" fill="#d6786f" />
<rect x="112.30" y="511.77" width="31.68" height="1.66" fill="#a1afdb" />
<rect x="143.68" y="511.77" width="31.68" height="1.66" fill="#d6daed" />
<rect x="175.07" y="511.77" width="31.68" height="1.66" fill="#dfe1ef" />
<rect x="206.45" y="511.77" width="31.68" height="1.66" fill="#eebeb6" />
<rect x="237.83" y="511.77" width="31.68" height="1.66" fill="#ebb7af" />
<rect x="269.22" y="511.77" width="31.68" height="1.66" fill="#db877d" />
<rect x="112.30" y="513.09" width="31.68" height="1.66" fill="#98a8d8" />
<rect x="143.68" y="513.09" width="31.68" height="1.66" fill="#c6cde9" />
<rect x="175.07" y="513.09" width="31.68" height="1.66" fill="#c3cbe8" />
<rect x="206.45" y="513.09" width="31.68" height="1.66" fill="#d37168" />
<rect x="237.83" y="513.09" width="31.68" height="1.66" fill="#e1978e" />
<rect x="269.22" y="513.09" width="31.68" height="1.66" fill="#db867c" />
<rect x="112.30" y="514.40" width="31.68" height="1.66" fill="#95a6d7" />
<rect x="143.68" y="514.40" width="31.68" height="1.66" fill="#bbc4e5" />
<rect x="175.07" y="514.40" width="31.68" height="1.66" fill="#b9c3e4" />
<rect x="206.45" y="514.40" width="31.68" height="1.66" fill="#d16a61" />
<rect x="237.83" y="514.40" width="31.68" height="1.66" fill="#cd5d55" />
<rect x="269.22" y="514.40" width="31.68" height="1.66" fill="#d5756c" />
<rect x="112.30" y="515.71" width="31.68" height="1.66" fill="#b9c3e4" />
<rect x="143.68" y="515.71" width="31.68" height="1.66" fill="#f3f1f4" />
<rect x="175.07" y="515.71" width="31.68" height="1.66" fill="#c0c8e7" />
<rect x="206.45" y="515.71" width="31.68" height="1.66" fill="#e39d93" />
<rect x="237.83" y="515.71" width="31.68" height="1.66" fill="#d87e74" />
<rect x="269.22" y="515.71" width="31.68" height="1.66" fill="#e0968d" />
<rect x="112.30" y="517.03" width="31.68" height="1.66" fill="#abb7df" />
<rect x="143.68" y="517.03" width="31.68" height="1.66" fill="#efeef3" />
<rect x="175.07" y="517.03" width="31.68" height="1.66" fill="#daddee" />
<rect x="206.45" y="517.03" width="31.68" height="1.66" fill="#df938a" />
<rect x="237.83" y="517.03" width="31.68" height="1.66" fill="#de8e84" />
<rect x="269.22" y="517.03" width="31.68" height="1.66" fill="#de8e84" />
<rect x="112.30" y="518.34" width="31.68" height="1.66" fill="#a1b0db" />
<rect x="143.68" y="518.34" width="31.68" height="1.66" fill="#e5e6f0" />
<rect x="175.07" y="518.34" width="31.68" height="1.66" fill="#afbbe1" />
<rect x="206.45" y="518.34" width="31.68" height="1.66" fill="#d0665d" />
<rect x="237.83" y="518.34" width="31.68" height="1.66" fill="#df9389" />
<rect x="269.22" y="518.34" width="31.68" height="1.66" fill="#df9187" />
<rect x="112.30" y="519.66" width="31.68" height="1.66" fill="#aab7df" />
<rect x="143.68" y="519.66" width="31.68" height="1.66" fill="#cdd3ea" />
<rect x="175.07" y="519.66" width="31.68" height="1.66" fill="#d0d5eb" />
<rect x="206.45" y="519.66" width="31.68" height="1.66" fill="#d0685f" />
<rect x="237.83" y="519.66" width="31.68" height="1.66" fill="#e0948a" />
<rect x="269.22" y="519.66" width="31.68" height="1.66" fill="#d16860" />
<rect x="112.30" y="520.97" width="31.68" height="1.66" fill="#a7b4dd" />
<rect x="143.68" y="520.97" width="31.68" height="1.66" fill="#bec7e6" />
<rect x="175.07" y="520.97" width="31.68" height="1.66" fill="#abb8df" />
<rect x="206.45" y="520.97" width="31.68" height="1.66" fill="#c13d3e" />
<rect x="237.83" y="520.97" width="31.68" height="1.66" fill="#e7a9a0" />
<rect x="269.22" y="520.97" width="31.68" height="1.66" fill="#d4736a" />
<rect x="112.30" y="522.29" width="31.68" height="1.66" fill="#a6b4dd" />
<rect x="143.68" y="522.29" width="31.68" height="1.66" fill="#b3bee2" />
<rect x="175.07" y="522.29" width="31.68" height="1.66" fill="#c2cae8" />
<rect x="206.45" y="522.29" width="31.68" height="1.66" fill="#c74c46" />
<rect x="237.83" y="522.29" width="31.68" height="1.66" fill="#edbdb4" />
<rect x="269.22" y="522.29" width="31.68" height="1.66" fill="#e39d93" />
<rect x="112.30" y="523.60" width="31.68" height="1.66" fill="#97a7d8" />
<rect x="143.68" y="523.60" width="31.68" height="1.66" fill="#c0c8e7" />
<rect x="175.07" y="523.60" width="31.68" height="1.66" fill="#c7cfe9" />
<rect x="206.45" y="523.60" width="31.68" height="1.66" fill="#d26d64" />
<rect x="237.83" y="523.60" width="31.68" height="1.66" fill="#f3d9d5" />
<rect x="269.22" y="523.60" width="31.68" height="1.66" fill="#edbdb5" />
<rect x="112.30" y="524.91" width="31.68" height="1.66" fill="#96a7d7" />
<rect x="143.68" y="524.91" width="31.68" height="1.66" fill="#dde0ee" />
<rect x="175.07" y="524.91" width="31.68" height="1.66" fill="#c1cae7" />
<rect x="206.45" y="524.91" width="31.68" height="1.66" fill="#d47269" />
<rect x="237.83" y="524.91" width="31.68" height="1.66" fill="#eebfb7" />
<rect x="269.22" y="524.91" width="31.68" height="1.66" fill="#eebeb6" />
<rect x="112.30" y="526.23" width="31.68" height="1.66" fill="#aab7df" />
<rect x="143.68" y="526.23" width="31.68" height="1.66" fill="#d7dbed" />
<rect x="175.07" y="526.23" width="31.68" height="1.66" fill="#c8cfe9" />
<rect x="206.45" y="526.23" width="31.68" height="1.66" fill="#da857b" />
<rect x="237.83" y="526.23" width="31.68" height="1.66" fill="#df938a" />
<rect x="269.22" y="526.23" width="31.68" height="1.66" fill="#edbdb5" />
<rect x="112.30" y="527.54" width="31.68" height="1.66" fill="#859ad1" />
<rect x="143.68" y="527.54" width="31.68" height="1.66" fill="#d3d8ec" />
<rect x="175.07" y="527.54" width="31.68" height="1.66" fill="#bec7e6" />
<rect x="206.45" y="527.54" width="31.68" height="1.66" fill="#de8f85" />
<rect x="237.83" y="527.54" width="31.68" height="1.66" fill="#e6a89f" />
<rect x="269.22" y="527.54" width="31.68" height="1.66" fill="#f2d6d1" />
<rect x="112.30" y="528.86" width="31.68" height="1.66" fill="#99a9d8" />
<rect x="143.68" y="528.86" width="31.68" height="1.66" fill="#dcdeee" />
<rect x="175.07" y="528.86" width="31.68" height="1.66" fill="#b5c0e3" />
<rect x="206.45" y="528.86" width="31.68" height="1.66" fill="#d6776e" />
<rect x="237.83" y="528.86" width="31.68" height="1.66" fill="#e9b0a8" />
<rect x="269.22" y="528.86" width="31.68" height="1.66" fill="#efc3bb" />
<rect x="112.30" y="530.17" width="31.68" height="1.66" fill="#a3b1dc" />
<rect x="143.68" y="530.17" width="31.68" height="1.66" fill="#ececf2" />
<rect x="175.07" y="530.17" width="31.68" height="1.66" fill="#adb9e0" />
<rect x="206.45" y="530.17" width="31.68" height="1.66" fill="#d5746b" />
<rect x="237.83" y="530.17" width="31.68" height="1.66" fill="#eec0b8" />
<rect x="269.22" y="530.17" width="31.68" height="1.66" fill="#efc3bb" />
<rect x="112.30" y="531.49" width="31.68" height="1.66" fill="#b8c2e4" />
<rect x="143.68" y="531.49" width="31.68" height="1.66" fill="#f7edec" />
<rect x="175.07" y="531.49" width="31.68" height="1.66" fill="#b3bee2" />
<rect x="206.45" y="531.49" width="31.68" height="1.66" fill="#f0c9c2" />
<rect x="237.83" y="531.49" width="31.68" height="1.66" fill="#f4deda" />
<rect x="269.22" y="531.49" width="31.68" height="1.66" fill="#f0c6bf" />
<rect x="112.30" y="532.80" width="31.68" height="1.66" fill="#d3d7ec" />
<rect x="143.68" y="532.80" width="31.68" height="1.66" fill="#dddfee" />
<rect x="175.07" y="532.80" width="31.68" height="1.66" fill="#b9c3e4" />
<rect x="206.45" y="532.80" width="31.68" height="1.66" fill="#f7edec" />
<rect x="237.83" y="532.80" width="31.68" height="1.66" fill="#de8e84" />
<rect x="269.22" y="532.80" width="31.68" height="1.66" fill="#e8aca3" />
<rect x="112.30" y="534.11" width="31.68" height="1.66" fill="#b2bde2" />
<rect x="143.68" y="534.11" width="31.68" height="1.66" fill="#dcdfee" />
<rect x="175.07" y="534.11" width="31.68" height="1.66" fill="#c8cfe9" />
<rect x="206.45" y="534.11" width="31.68" height="1.66" fill="#f2d3ce" />
<rect x="237.83" y="534.11" width="31.68" height="1.66" fill="#ca554d" />
<rect x="269.22" y="534.11" width="31.68" height="1.66" fill="#f0c9c2" />
<rect x="112.30" y="535.43" width="31.68" height="1.66" fill="#c8cfe9" />
<rect x="143.68" y="535.43" width="31.68" height="1.66" fill="#cbd1ea" />
<rect x="175.07" y="535.43" width="31.68" height="1.66" fill="#f3f1f4" />
<rect x="206.45" y="535.43" width="31.68" height="1.66" fill="#f4e0dd" />
<rect x="237.83" y="535.43" width="31.68" height="1.66" fill="#e1998f" />
<rect x="269.22" y="535.43" width="31.68" height="1.66" fill="#f7f4f5" />
<rect x="112.30" y="536.74" width="31.68" height="1.66" fill="#a0afdb" />
<rect x="143.68" y="536.74" width="31.68" height="1.66" fill="#d0d6eb" />
<rect x="175.07" y="536.74" width="31.68" height="1.66" fill="#dcdfee" />
<rect x="206.45" y="536.74" width="31.68" height="1.66" fill="#df9389" />
<rect x="237.83" y="536.74" width="31.68" height="1.66" fill="#f5e7e4" />
<rect x="269.22" y="536.74" width="31.68" height="1.66" fill="#f1d0ca" />
<rect x="112.30" y="538.06" width="31.68" height="1.66" fill="#a3b1dc" />
<rect x="143.68" y="538.06" width="31.68" height="1.66" fill="#b8c2e4" />
<rect x="175.07" y="538.06" width="31.68" height="1.66" fill="#b6c0e3" />
<rect x="206.45" y="538.06" width="31.68" height="1.66" fill="#c74f47" />
<rect x="237.83" y="538.06" width="31.68" height="1.66" fill="#f4e1de" />
<rect x="269.22" y="538.06" width="31.68" height="1.66" fill="#efc1b9" />
<rect x="112.30" y="539.37" width="31.68" height="1.66" fill="#a5b3dd" />
<rect x="143.68" y="539.37" width="31.68" height="1.66" fill="#bfc8e7" />
<rect x="175.07" y="539.37" width="31.68" height="1.66" fill="#ccd2ea" />
<rect x="206.45" y="539.37" width="31.68" height="1.66" fill="#c44643" />
<rect x="237.83" y="539.37" width="31.68" height="1.66" fill="#f6e8e6" />
<rect x="269.22" y="539.37" width="31.68" height="1.66" fill="#f0c5be" />
<rect x="112.30" y="540.69" width="31.68" height="1.66" fill="#8a9dd2" />
<rect x="143.68" y="540.69" width="31.68" height="1.66" fill="#9babd9" />
<rect x="175.07" y="540.69" width="31.68" height="1.66" fill="#b1bce1" />
<rect x="206.45" y="540.69" width="31.68" height="1.66" fill="#b2192b" />
<rect x="237.83" y="540.69" width="31.68" height="1.66" fill="#f7eeed" />
<rect x="269.22" y="540.69" width="31.68" height="1.66" fill="#e4a096" />
<rect x="112.30" y="542.00" width="31.68" height="1.65" fill="#cc5a52" />
<rect x="143.68" y="542.00" width="31.68" height="1.65" fill="#ebebf2" />
<rect x="175.07" y="542.00" width="31.68" height="1.65" fill="#bc3138" />
<rect x="206.45" y="542.00" width="31.68" height="1.65" fill="#b0bce1" />
<rect x="237.83" y="542.00" width="31.68" height="1.65" fill="#afbbe0" />
<rect x="269.22" y="542.00" width="31.68" height="1.65" fill="#c3cbe8" />
<rect x="112.30" y="543.30" width="31.68" height="1.65" fill="#c74e47" />
<rect x="143.68" y="543.30" width="31.68" height="1.65" fill="#f7f4f5" />
<rect x="175.07" y="543.30" width="31.68" height="1.65" fill="#c74e47" />
<rect x="206.45" y="543.30" width="31.68" height="1.65" fill="#b6c1e3" />
<rect x="237.83" y="543.30" width="31.68" height="1.65" fill="#b8c2e4" />
<rect x="269.22" y="543.30" width="31.68" height="1.65" fill="#c0c9e7" />
<rect x="112.30" y="544.60" width="31.68" height="1.65" fill="#c64b45" />
<rect x="143.68" y="544.60" width="31.68" height="1.65" fill="#efeef3" />
<rect x="175.07" y="544.60" width="31.68" height="1.65" fill="#c74d46" />
<rect x="206.45" y="544.60" width="31.68" height="1.65" fill="#c2cae8" />
<rect x="237.83" y="544.60" width="31.68" height="1.65" fill="#aebae0" />
<rect x="269.22" y="544.60" width="31.68" height="1.65" fill="#bcc6e6" />
<rect x="112.30" y="545.90" width="31.68" height="1.65" fill="#d47168" />
<rect x="143.68" y="545.90" width="31.68" height="1.65" fill="#e1e3ef" />
<rect x="175.07" y="545.90" width="31.68" height="1.65" fill="#db867c" />
<rect x="206.45" y="545.90" width="31.68" height="1.65" fill="#dee0ef" />
<rect x="237.83" y="545.90" width="31.68" height="1.65" fill="#bbc4e5" />
<rect x="269.22" y="545.90" width="31.68" height="1.65" fill="#d2d7ec" />
<rect x="112.30" y="547.20" width="31.68" height="1.65" fill="#cf655c" />
<rect x="143.68" y="547.20" width="31.68" height="1.65" fill="#bbc4e5" />
<rect x="175.07" y="547.20" width="31.68" height="1.65" fill="#e6a89f" />
<rect x="206.45" y="547.20" width="31.68" height="1.65" fill="#ced4eb" />
<rect x="237.83" y="547.20" width="31.68" height="1.65" fill="#adb9e0" />
<rect x="269.22" y="547.20" width="31.68" height="1.65" fill="#c8cfe9" />
<rect x="112.30" y="548.50" width="31.68" height="1.65" fill="#d26c63" />
<rect x="143.68" y="548.50" width="31.68" height="1.65" fill="#d3d7ec" />
<rect x="175.07" y="548.50" width="31.68" height="1.65" fill="#db877d" />
<rect x="206.45" y="548.50" width="31.68" height="1.65" fill="#a1afdb" />
<rect x="237.83" y="548.50" width="31.68" height="1.65" fill="#9aaad9" />
<rect x="269.22" y="548.50" width="31.68" height="1.65" fill="#bac4e5" />
<rect x="112.30" y="549.80" width="31.68" height="1.65" fill="#c44542" />
<rect x="143.68" y="549.80" width="31.68" height="1.65" fill="#f5f3f4" />
<rect x="175.07" y="549.80" width="31.68" height="1.65" fill="#ca554d" />
<rect x="206.45" y="549.80" width="31.68" height="1.65" fill="#a2b1dc" />
<rect x="237.83" y="549.80" width="31.68" height="1.65" fill="#8d9fd3" />
<rect x="269.22" y="549.80" width="31.68" height="1.65" fill="#adb9e0" />
<rect x="112.30" y="551.10" width="31.68" height="1.65" fill="#c13e3f" />
<rect x="143.68" y="551.10" width="31.68" height="1.65" fill="#dfe1ef" />
<rect x="175.07" y="551.10" width="31.68" height="1.65" fill="#cd5d55" />
<rect x="206.45" y="551.10" width="31.68" height="1.65" fill="#96a6d7" />
<rect x="237.83" y="551.10" width="31.68" height="1.65" fill="#94a5d6" />
<rect x="269.22" y="551.10" width="31.68" height="1.65" fill="#bdc6e6" />
<rect x="112.30" y="552.40" width="31.68" height="1.65" fill="#ca564e" />
<rect x="143.68" y="552.40" width="31.68" height="1.65" fill="#e6e7f1" />
<rect x="175.07" y="552.40" width="31.68" height="1.65" fill="#d98177" />
<rect x="206.45" y="552.40" width="31.68" height="1.65" fill="#bac4e5" />
<rect x="237.83" y="552.40" width="31.68" height="1.65" fill="#abb8df" />
<rect x="269.22" y="552.40" width="31.68" height="1.65" fill="#c7cee9" />
<rect x="112.30" y="553.70" width="31.68" height="1.65" fill="#d36f66" />
<rect x="143.68" y="553.70" width="31.68" height="1.65" fill="#ebebf2" />
<rect x="175.07" y="553.70" width="31.68" height="1.65" fill="#edbbb3" />
<rect x="206.45" y="553.70" width="31.68" height="1.65" fill="#cbd1ea" />
<rect x="237.83" y="553.70" width="31.68" height="1.65" fill="#a7b4de" />
<rect x="269.22" y="553.70" width="31.68" height="1.65" fill="#c8cfe9" />
<rect x="112.30" y="555.00" width="31.68" height="1.65" fill="#d67970" />
<rect x="143.68" y="555.00" width="31.68" height="1.65" fill="#f8f3f3" />
<rect x="175.07" y="555.00" width="31.68" height="1.65" fill="#e5a49b" />
<rect x="206.45" y="555.00" width="31.68" height="1.65" fill="#dcdfee" />
<rect x="237.83" y="555.00" width="31.68" height="1.65" fill="#b0bce1" />
<rect x="269.22" y="555.00" width="31.68" height="1.65" fill="#d9dced" />
<rect x="112.30" y="556.30" width="31.68" height="1.65" fill="#d4736a" />
<rect x="143.68" y="556.30" width="31.68" height="1.65" fill="#f4e0dd" />
<rect x="175.07" y="556.30" width="31.68" height="1.65" fill="#e7aaa1" />
<rect x="206.45" y="556.30" width="31.68" height="1.65" fill="#ccd2ea" />
<rect x="237.83" y="556.30" width="31.68" height="1.65" fill="#b8c2e4" />
<rect x="269.22" y="556.30" width="31.68" height="1.65" fill="#d9ddee" />
<rect x="112.30" y="557.60" width="31.68" height="1.65" fill="#dd8c82" />
<rect x="143.68" y="557.60" width="31.68" height="1.65" fill="#f1cdc7" />
<rect x="175.07" y="557.60" width="31.68" height="1.65" fill="#e4a299" />
<rect x="206.45" y="557.60" width="31.68" height="1.65" fill="#bdc6e6" />
<rect x="237.83" y="557.60" width="31.68" height="1.65" fill="#aebae0" />
<rect x="269.22" y="557.60" width="31.68" height="1.65" fill="#d3d8ec" />
<rect x="112.30" y="558.90" width="31.68" height="1.65" fill="#d37067" />
<rect x="143.68" y="558.90" width="31.68" height="1.65" fill="#f2d6d1" />
<rect x="175.07" y="558.90" width="31.68" height="1.65" fill="#d98278" />
<rect x="206.45" y="558.90" width="31.68" height="1.65" fill="#b2bde2" />
<rect x="237.83" y="558.90" width="31.68" height="1.65" fill="#b5bfe3" />
<rect x="269.22" y="558.90" width="31.68" height="1.65" fill="#c8cfe9" />
<rect x="112.30" y="560.20" width="31.68" height="1.65" fill="#d47269" />
<rect x="143.68" y="560.20" width="31.68" height="1.65" fill="#f3d8d3" />
<rect x="175.07" y="560.20" width="31.68" height="1.65" fill="#db867d" />
<rect x="206.45" y="560.20" width="31.68" height="1.65" fill="#9faedb" />
<rect x="237.83" y="560.20" width="31.68" height="1.65" fill="#a6b4dd" />
<rect x="269.22" y="560.20" width="31.68" height="1.65" fill="#a7b4dd" />
<rect x="112.30" y="561.50" width="31.68" height="1.65" fill="#c54a45" />
<rect x="143.68" y="561.50" width="31.68" height="1.65" fill="#f5e5e3" />
<rect x="175.07" y="561.50" width="31.68" height="1.65" fill="#d6786e" />
<rect x="206.45" y="561.50" width="31.68" height="1.65" fill="#8c9fd3" />
<rect x="237.83" y="561.50" width="31.68" height="1.65" fill="#9cabd9" />
<rect x="269.22" y="561.50" width="31.68" height="1.65" fill="#9eadda" />
<rect x="112.30" y="562.80" width="31.68" height="1.65" fill="#c54a45" />
<rect x="143.68" y="562.80" width="31.68" height="1.65" fill="#e9e9f1" />
<rect x="175.07" y="562.80" width="31.68" height="1.65" fill="#e39e94" />
<rect x="206.45" y="562.80" width="31.68" height="1.65" fill="#96a7d7" />
<rect x="237.83" y="562.80" width="31.68" height="1.65" fill="#a1afdb" />
<rect x="269.22" y="562.80" width="31.68" height="1.65" fill="#bec7e6" />
<rect x="112.30" y="564.10" width="31.68" height="1.65" fill="#d0665d" />
<rect x="143.68" y="564.10" width="31.68" height="1.65" fill="#f6ebea" />
<rect x="175.07" y="564.10" width="31.68" height="1.65" fill="#f2d4ce" />
<rect x="206.45" y="564.10" width="31.68" height="1.65" fill="#8499d0" />
<rect x="237.83" y="564.10" width="31.68" height="1.65" fill="#cdd3ea" />
<rect x="269.22" y="564.10" width="31.68" height="1.65" fill="#b3bee2" />
<rect x="112.30" y="565.40" width="31.68" height="1.65" fill="#d26d64" />
<rect x="143.68" y="565.40" width="31.68" height="1.65" fill="#f8f2f2" />
<rect x="175.07" y="565.40" width="31.68" height="1.65" fill="#f0c9c2" />
<rect x="206.45" y="565.40" width="31.68" height="1.65" fill="#7d94cd" />
<rect x="237.83" y="565.40" width="31.68" height="1.65" fill="#d4d8ec" />
<rect x="269.22" y="565.40" width="31.68" height="1.65" fill="#bbc5e5" />
<rect x="112.30" y="566.70" width="31.68" height="1.65" fill="#d87c73" />
<rect x="143.68" y="566.70" width="31.68" height="1.65" fill="#f5f2f4" />
<rect x="175.07" y="566.70" width="31.68" height="1.65" fill="#efc2ba" />
<rect x="206.45" y="566.70" width="31.68" height="1.65" fill="#758fca" />
<rect x="237.83" y="566.70" width="31.68" height="1.65" fill="#ccd2ea" />
<rect x="269.22" y="566.70" width="31.68" height="1.65" fill="#9cabd9" />
<rect x="112.30" y="568.00" width="31.68" height="1.65" fill="#da8279" />
<rect x="143.68" y="568.00" width="31.68" height="1.65" fill="#f5e2de" />
<rect x="175.07" y="568.00" width="31.68" height="1.65" fill="#efc2ba" />
<rect x="206.45" y="568.00" width="31.68" height="1.65" fill="#7c94cd" />
<rect x="237.83" y="568.00" width="31.68" height="1.65" fill="#c6cee9" />
<rect x="269.22" y="568.00" width="31.68" height="1.65" fill="#c4cce8" />
<rect x="112.30" y="569.30" width="31.68" height="1.65" fill="#dc897f" />
<rect x="143.68" y="569.30" width="31.68" height="1.65" fill="#e5a59b" />
<rect x="175.07" y="569.30" width="31.68" height="1.65" fill="#ebb5ac" />
<rect x="206.45" y="569.30" width="31.68" height="1.65" fill="#8499d0" />
<rect x="237.83" y="569.30" width="31.68" height="1.65" fill="#b2bde2" />
<rect x="269.22" y="569.30" width="31.68" height="1.65" fill="#cbd1ea" />
<rect x="112.30" y="570.60" width="31.68" height="1.65" fill="#db867c" />
<rect x="143.68" y="570.60" width="31.68" height="1.65" fill="#eab3aa" />
<rect x="175.07" y="570.60" width="31.68" height="1.65" fill="#f0c8c1" />
<rect x="206.45" y="570.60" width="31.68" height="1.65" fill="#94a5d6" />
<rect x="237.83" y="570.60" width="31.68" height="1.65" fill="#b4bfe2" />
<rect x="269.22" y="570.60" width="31.68" height="1.65" fill="#d7dbed" />
<rect x="112.30" y="571.90" width="31.68" height="1.65" fill="#e0958b" />
<rect x="143.68" y="571.90" width="31.68" height="1.65" fill="#e7aba3" />
<rect x="175.07" y="571.90" width="31.68" height="1.65" fill="#ecbab1" />
<rect x="206.45" y="571.90" width="31.68" height="1.65" fill="#9aaad9" />
<rect x="237.83" y="571.90" width="31.68" height="1.65" fill="#d2d7ec" />
<rect x="269.22" y="571.90" width="31.68" height="1.65" fill="#daddee" />
<rect x="112.30" y="573.20" width="31.68" height="1.65" fill="#da8379" />
<rect x="143.68" y="573.20" width="31.68" height="1.65" fill="#e0968d" />
<rect x="175.07" y="573.20" width="31.68" height="1.65" fill="#ebb6ae" />
<rect x="206.45" y="573.20" width="31.68" height="1.65" fill="#97a7d7" />
<rect x="237.83" y="573.20" width="31.68" height="1.65" fill="#d2d7ec" />
<rect x="269.22" y="573.20" width="31.68" height="1.65" fill="#cad1ea" />
<rect x="112.30" y="574.50" width="31.68" height="1.65" fill="#d26d64" />
<rect x="143.68" y="574.50" width="31.68" height="1.65" fill="#e1988f" />
<rect x="175.07" y="574.50" width="31.68" height="1.65" fill="#e6a89f" />
<rect x="206.45" y="574.50" width="31.68" height="1.65" fill="#7992cc" />
<rect x="237.83" y="574.50" width="31.68" height="1.65" fill="#c1cae7" />
<rect x="269.22" y="574.50" width="31.68" height="1.65" fill="#c9d0ea" />
<rect x="112.30" y="575.80" width="31.68" height="1.65" fill="#dc8a80" />
<rect x="143.68" y="575.80" width="31.68" height="1.65" fill="#e5a59c" />
<rect x="175.07" y="575.80" width="31.68" height="1.65" fill="#ebb5ad" />
<rect x="206.45" y="575.80" width="31.68" height="1.65" fill="#9faedb" />
<rect x="237.83" y="575.80" width="31.68" height="1.65" fill="#ced4eb" />
<rect x="269.22" y="575.80" width="31.68" height="1.65" fill="#c6cde9" />
<rect x="112.30" y="577.10" width="31.68" height="1.65" fill="#de8e84" />
<rect x="143.68" y="577.10" width="31.68" height="1.65" fill="#e8aca3" />
<rect x="175.07" y="577.10" width="31.68" height="1.65" fill="#e5a49a" />
<rect x="206.45" y="577.10" width="31.68" height="1.65" fill="#a4b1dc" />
<rect x="237.83" y="577.10" width="31.68" height="1.65" fill="#bec7e6" />
<rect x="269.22" y="577.10" width="31.68" height="1.65" fill="#a7b4de" />
<rect x="112.30" y="578.40" width="31.68" height="1.65" fill="#e0968c" />
<rect x="143.68" y="578.40" width="31.68" height="1.65" fill="#e6a89f" />
<rect x="175.07" y="578.40" width="31.68" height="1.65" fill="#dc8a81" />
<rect x="206.45" y="578.40" width="31.68" height="1.65" fill="#a9b6de" />
<rect x="237.83" y="578.40" width="31.68" height="1.65" fill="#bfc8e7" />
<rect x="269.22" y="578.40" width="31.68" height="1.65" fill="#8c9fd3" />
<rect x="112.30" y="579.70" width="31.68" height="1.65" fill="#d87d74" />
<rect x="143.68" y="579.70" width="31.68" height="1.65" fill="#e4a097" />
<rect x="175.07" y="579.70" width="31.68" height="1.65" fill="#e1978e" />
<rect x="206.45" y="579.70" width="31.68" height="1.65" fill="#7992cc" />
<rect x="237.83" y="579.70" width="31.68" height="1.65" fill="#bdc6e6" />
<rect x="269.22" y="579.70" width="31.68" height="1.65" fill="#7791cb" />
<rect x="112.30" y="581.00" width="31.68" height="1.65" fill="#d26d64" />
<rect x="143.68" y="581.00" width="31.68" height="1.65" fill="#d98177" />
<rect x="175.07" y="581.00" width="31.68" height="1.65" fill="#df9289" />
<rect x="206.45" y="581.00" width="31.68" height="1.65" fill="#8da0d4" />
<rect x="237.83" y="581.00" width="31.68" height="1.65" fill="#9eadda" />
<rect x="269.22" y="581.00" width="31.68" height="1.65" fill="#879cd1" />
<rect x="112.30" y="582.30" width="31.68" height="1.65" fill="#e29a90" />
<rect x="143.68" y="582.30" width="31.68" height="1.65" fill="#e0968d" />
<rect x="175.07" y="582.30" width="31.68" height="1.65" fill="#e8ada4" />
<rect x="206.45" y="582.30" width="31.68" height="1.65" fill="#9aaad9" />
<rect x="237.83" y="582.30" width="31.68" height="1.65" fill="#9dacda" />
<rect x="269.22" y="582.30" width="31.68" height="1.65" fill="#748eca" />
<rect x="112.30" y="583.60" width="31.68" height="1.65" fill="#e7aba2" />
<rect x="143.68" y="583.60" width="31.68" height="1.65" fill="#e39d93" />
<rect x="175.07" y="583.60" width="31.68" height="1.65" fill="#e5a39a" />
<rect x="206.45" y="583.60" width="31.68" height="1.65" fill="#b3bee2" />
<rect x="237.83" y="583.60" width="31.68" height="1.65" fill="#adb9e0" />
<rect x="269.22" y="583.60" width="31.68" height="1.65" fill="#96a6d7" />
<rect x="112.30" y="584.90" width="31.68" height="1.65" fill="#f0cac3" />
<rect x="143.68" y="584.90" width="31.68" height="1.65" fill="#cd5d55" />
<rect x="175.07" y="584.90" width="31.68" height="1.65" fill="#f3d7d2" />
<rect x="206.45" y="584.90" width="31.68" height="1.65" fill="#c3cbe8" />
<rect x="237.83" y="584.90" width="31.68" height="1.65" fill="#cad1ea" />
<rect x="269.22" y="584.90" width="31.68" height="1.65" fill="#91a3d5" />
<rect x="112.30" y="586.20" width="31.68" height="1.65" fill="#f0c5be" />
<rect x="143.68" y="586.20" width="31.68" height="1.65" fill="#ce6259" />
<rect x="175.07" y="586.20" width="31.68" height="1.65" fill="#ecb8b0" />
<rect x="206.45" y="586.20" width="31.68" height="1.65" fill="#e7e7f1" />
<rect x="237.83" y="586.20" width="31.68" height="1.65" fill="#ccd2ea" />
<rect x="269.22" y="586.20" width="31.68" height="1.65" fill="#869bd1" />
<rect x="112.30" y="587.50" width="31.68" height="1.65" fill="#f2d4cf" />
<rect x="143.68" y="587.50" width="31.68" height="1.65" fill="#d87d73" />
<rect x="175.07" y="587.50" width="31.68" height="1.65" fill="#efc1b9" />
<rect x="206.45" y="587.50" width="31.68" height="1.65" fill="#d1d6eb" />
<rect x="237.83" y="587.50" width="31.68" height="1.65" fill="#c5cde9" />
<rect x="269.22" y="587.50" width="31.68" height="1.65" fill="#99a9d8" />
<rect x="112.30" y="588.80" width="31.68" height="1.65" fill="#efc4bc" />
<rect x="143.68" y="588.80" width="31.68" height="1.65" fill="#d37067" />
<rect x="175.07" y="588.80" width="31.68" height="1.65" fill="#e8ada4" />
<rect x="206.45" y="588.80" width="31.68" height="1.65" fill="#bec7e6" />
<rect x="237.83" y="588.80" width="31.68" height="1.65" fill="#bec7e6" />
<rect x="269.22" y="588.80" width="31.68" height="1.65" fill="#7f96ce" />
<rect x="112.30" y="590.10" width="31.68" height="1.65" fill="#f3d7d2" />
<rect x="143.68" y="590.10" width="31.68" height="1.65" fill="#e0958b" />
<rect x="175.07" y="590.10" width="31.68" height="1.65" fill="#f3d7d2" />
<rect x="206.45" y="590.10" width="31.68" height="1.65" fill="#d6daed" />
<rect x="237.83" y="590.10" width="31.68" height="1.65" fill="#daddee" />
<rect x="269.22" y="590.10" width="31.68" height="1.65" fill="#9eadda" />
<rect x="112.30" y="591.40" width="31.68" height="1.65" fill="#f1cbc5" />
<rect x="143.68" y="591.40" width="31.68" height="1.65" fill="#d4736a" />
<rect x="175.07" y="591.40" width="31.68" height="1.65" fill="#f2d2cd" />
<rect x="206.45" y="591.40" width="31.68" height="1.65" fill="#bec7e6" />
<rect x="237.83" y="591.40" width="31.68" height="1.65" fill="#ccd2ea" />
<rect x="269.22" y="591.40" width="31.68" height="1.65" fill="#8ea1d4" />
<rect x="112.30" y="592.70" width="31.68" height="1.65" fill="#f4e1de" />
<rect x="143.68" y="592.70" width="31.68" height="1.65" fill="#cf635b" />
<rect x="175.07" y="592.70" width="31.68" height="1.65" fill="#f3dbd7" />
<rect x="206.45" y="592.70" width="31.68" height="1.65" fill="#b1bde1" />
<rect x="237.83" y="592.70" width="31.68" height="1.65" fill="#bcc5e5" />
<rect x="269.22" y="592.70" width="31.68" height="1.65" fill="#90a2d5" />
</g>
<rect x="112.30" y="341.00" width="94.15" height="155.00" fill="none" stroke="#000" stroke-width="1.6" />
<rect x="206.45" y="341.00" width="94.15" height="155.00" fill="none" stroke="#000" stroke-width="1.6" />
<rect x="112.30" y="496.00" width="94.15" height="46.00" fill="none" stroke="#000" stroke-width="1.6" />
<rect x="206.45" y="496.00" width="94.15" height="46.00" fill="none" stroke="#000" stroke-width="1.6" />
<rect x="112.30" y="542.00" width="94.15" height="52.00" fill="none" stroke="#000" stroke-width="1.6" />
<rect x="206.45" y="542.00" width="94.15" height="52.00" fill="none" stroke="#000" stroke-width="1.6" />
<path d="M109.6,341.5 L112.3,341.5 L112.3,594 L107.2,594 L107.0,560 L107.6,530 L107.4,490 L108.4,455 L109.2,420 Z" fill="#111"/>
<line x1="108.8" y1="469.4" x2="110.6" y2="469.7" stroke="#fff" stroke-width="0.6" opacity="0.8"/>
<line x1="107.7" y1="481.3" x2="111.0" y2="482.2" stroke="#fff" stroke-width="0.6" opacity="0.8"/>
<line x1="108.5" y1="496.2" x2="110.4" y2="495.1" stroke="#fff" stroke-width="0.6" opacity="0.8"/>
<line x1="108.1" y1="503.8" x2="111.0" y2="504.1" stroke="#fff" stroke-width="0.6" opacity="0.8"/>
<line x1="108.7" y1="517.4" x2="111.1" y2="517.9" stroke="#fff" stroke-width="0.6" opacity="0.8"/>
<line x1="108.4" y1="527.7" x2="110.7" y2="526.3" stroke="#fff" stroke-width="0.6" opacity="0.8"/>
<line x1="108.8" y1="541.0" x2="110.5" y2="542.7" stroke="#fff" stroke-width="0.6" opacity="0.8"/>
<line x1="108.5" y1="552.5" x2="110.8" y2="550.5" stroke="#fff" stroke-width="0.6" opacity="0.8"/>
<line x1="109.1" y1="564.7" x2="110.8" y2="568.0" stroke="#fff" stroke-width="0.6" opacity="0.8"/>
<line x1="107.8" y1="578.0" x2="110.9" y2="577.0" stroke="#fff" stroke-width="0.6" opacity="0.8"/>
<line x1="109.0" y1="587.7" x2="110.4" y2="587.9" stroke="#fff" stroke-width="0.6" opacity="0.8"/>
<path d="M108.6,450 H106.3 V530 H108" fill="none" stroke="#111" stroke-width="0.9"/>
<path d="M106.8,493.4 H103.5 V568.4 H107.2" fill="none" stroke="#111" stroke-width="0.9"/>
<rect x="112.90" y="336.00" width="30.18" height="3.20" fill="#e64b35" />
<text transform="translate(128.89,333.40) rotate(-90)" font-size="11.5" fill="#111" stroke="#111" stroke-width="0.25" >UIRI_1</text>
<rect x="144.28" y="336.00" width="30.18" height="3.20" fill="#e64b35" />
<text transform="translate(160.28,333.40) rotate(-90)" font-size="11.5" fill="#111" stroke="#111" stroke-width="0.25" >UIRI_2</text>
<rect x="175.67" y="336.00" width="30.18" height="3.20" fill="#e64b35" />
<text transform="translate(191.66,333.40) rotate(-90)" font-size="11.5" fill="#111" stroke="#111" stroke-width="0.25" >UIRI_3</text>
<rect x="207.05" y="336.00" width="30.18" height="3.20" fill="#3c5488" />
<text transform="translate(223.04,333.40) rotate(-90)" font-size="11.5" fill="#111" stroke="#111" stroke-width="0.25" >NM_1</text>
<rect x="238.43" y="336.00" width="30.18" height="3.20" fill="#3c5488" />
<text transform="translate(254.43,333.40) rotate(-90)" font-size="11.5" fill="#111" stroke="#111" stroke-width="0.25" >NM_2</text>
<rect x="269.82" y="336.00" width="30.18" height="3.20" fill="#3c5488" />
<text transform="translate(285.81,333.40) rotate(-90)" font-size="11.5" fill="#111" stroke="#111" stroke-width="0.25" >NM_3</text>
<rect x="302.20" y="341.00" width="4.10" height="155.00" fill="#e64b35" />
<rect x="302.20" y="496.80" width="4.10" height="45.20" fill="#4dbbd5" />
<rect x="302.20" y="542.80" width="4.10" height="51.20" fill="#00a087" />
<text transform="translate(317.20,414.20) rotate(-90)" font-size="11.5" fill="#111" stroke="#111" stroke-width="0.25" text-anchor="middle" >n:120</text>
<text transform="translate(317.20,518.70) rotate(-90)" font-size="11.5" fill="#111" stroke="#111" stroke-width="0.25" text-anchor="middle" >n:35</text>
<text transform="translate(317.20,568.60) rotate(-90)" font-size="11.5" fill="#111" stroke="#111" stroke-width="0.25" text-anchor="middle" >n:40</text>
<text transform="translate(100.90,415.80) rotate(-90)" font-size="11.5" fill="#111" stroke="#111" stroke-width="0.25" text-anchor="middle" >C1</text>
<text transform="translate(100.90,515.00) rotate(-90)" font-size="11.5" fill="#111" stroke="#111" stroke-width="0.25" text-anchor="middle" >C2</text>
<text transform="translate(100.90,563.75) rotate(-90)" font-size="11.5" fill="#111" stroke="#111" stroke-width="0.25" text-anchor="middle" >C3</text>
<text transform="translate(330.40,369.70) scale(1,0.84)" font-size="12" fill="#222" stroke="#222" stroke-width="0.25" >sample</text>
<rect x="332.40" y="376.00" width="11.40" height="8.80" fill="#e64b35" />
<rect x="332.40" y="392.00" width="11.40" height="8.80" fill="#3c5488" />
<text transform="translate(351.70,384.60)" font-size="11.5" fill="#111" stroke="#111" stroke-width="0.25" >UIRI</text>
<text transform="translate(351.70,400.60)" font-size="11.5" fill="#111" stroke="#111" stroke-width="0.25" >NM</text>
<text transform="translate(330.40,420.30) scale(1,0.86)" font-size="12" fill="#222" stroke="#222" stroke-width="0.25" >Z-score</text>
<defs><linearGradient id="gZ" x1="0" y1="1" x2="0" y2="0"><stop offset="0.000" stop-color="#2060ab"/><stop offset="0.125" stop-color="#5a7cc0"/><stop offset="0.250" stop-color="#93a4d6"/><stop offset="0.375" stop-color="#c3cbe8"/><stop offset="0.500" stop-color="#f8f5f5"/><stop offset="0.625" stop-color="#efc2ba"/><stop offset="0.750" stop-color="#dd8c82"/><stop offset="0.875" stop-color="#c85048"/><stop offset="1.000" stop-color="#b2182b"/></linearGradient></defs>
<rect x="332" y="425.3" width="13.5" height="66.7" rx="3" fill="url(#gZ)"/>
<line x1="332.60" y1="427.20" x2="335.00" y2="427.20" stroke="#fff" stroke-width="1" />
<line x1="342.50" y1="427.20" x2="344.90" y2="427.20" stroke="#fff" stroke-width="1" />
<text transform="translate(352.00,431.20)" font-size="11.5" fill="#111" stroke="#111" stroke-width="0.25" >2</text>
<line x1="332.60" y1="442.45" x2="335.00" y2="442.45" stroke="#fff" stroke-width="1" />
<line x1="342.50" y1="442.45" x2="344.90" y2="442.45" stroke="#fff" stroke-width="1" />
<text transform="translate(352.00,446.45)" font-size="11.5" fill="#111" stroke="#111" stroke-width="0.25" >1</text>
<text transform="translate(352.00,461.70)" font-size="11.5" fill="#111" stroke="#111" stroke-width="0.25" >0</text>
<line x1="332.60" y1="472.95" x2="335.00" y2="472.95" stroke="#fff" stroke-width="1" />
<line x1="342.50" y1="472.95" x2="344.90" y2="472.95" stroke="#fff" stroke-width="1" />
<text transform="translate(352.00,476.95)" font-size="11.5" fill="#111" stroke="#111" stroke-width="0.25" >-1</text>
<line x1="332.60" y1="488.20" x2="335.00" y2="488.20" stroke="#fff" stroke-width="1" />
<line x1="342.50" y1="488.20" x2="344.90" y2="488.20" stroke="#fff" stroke-width="1" />
<text transform="translate(352.00,492.20)" font-size="11.5" fill="#111" stroke="#111" stroke-width="0.25" >-2</text>
<text transform="translate(436.80,330.80)" font-size="16.5" fill="#000" font-weight="bold" >D</text>
<line x1="598.02" y1="349.00" x2="598.02" y2="552.40" stroke="#f2f2f2" stroke-width="0.8" />
<line x1="629.27" y1="349.00" x2="629.27" y2="552.40" stroke="#f2f2f2" stroke-width="0.8" />
<line x1="660.52" y1="349.00" x2="660.52" y2="552.40" stroke="#f2f2f2" stroke-width="0.8" />
<line x1="691.77" y1="349.00" x2="691.77" y2="552.40" stroke="#f2f2f2" stroke-width="0.8" />
<line x1="582.40" y1="349.00" x2="582.40" y2="552.40" stroke="#e6e6e6" stroke-width="1.1" />
<line x1="613.65" y1="349.00" x2="613.65" y2="552.40" stroke="#e6e6e6" stroke-width="1.1" />
<line x1="644.90" y1="349.00" x2="644.90" y2="552.40" stroke="#e6e6e6" stroke-width="1.1" />
<line x1="676.15" y1="349.00" x2="676.15" y2="552.40" stroke="#e6e6e6" stroke-width="1.1" />
<line x1="577.40" y1="361.40" x2="694.20" y2="361.40" stroke="#e6e6e6" stroke-width="1.1" />
<line x1="577.40" y1="381.36" x2="694.20" y2="381.36" stroke="#e6e6e6" stroke-width="1.1" />
<line x1="577.40" y1="401.32" x2="694.20" y2="401.32" stroke="#e6e6e6" stroke-width="1.1" />
<line x1="577.40" y1="421.28" x2="694.20" y2="421.28" stroke="#e6e6e6" stroke-width="1.1" />
<line x1="577.40" y1="441.24" x2="694.20" y2="441.24" stroke="#e6e6e6" stroke-width="1.1" />
<line x1="577.40" y1="461.20" x2="694.20" y2="461.20" stroke="#e6e6e6" stroke-width="1.1" />
<line x1="577.40" y1="481.16" x2="694.20" y2="481.16" stroke="#e6e6e6" stroke-width="1.1" />
<line x1="577.40" y1="501.12" x2="694.20" y2="501.12" stroke="#e6e6e6" stroke-width="1.1" />
<line x1="577.40" y1="521.08" x2="694.20" y2="521.08" stroke="#e6e6e6" stroke-width="1.1" />
<line x1="577.40" y1="541.04" x2="694.20" y2="541.04" stroke="#e6e6e6" stroke-width="1.1" />
<rect x="582.40" y="352.40" width="75.00" height="18.00" fill="#ff0000" />
<line x1="574.60" y1="361.40" x2="577.40" y2="361.40" stroke="#333" stroke-width="1" />
<text transform="translate(572.40,363.90) scale(1,0.88)" font-size="12" fill="#2b2b2b" stroke="#2b2b2b" stroke-width="0.25" text-anchor="end" >Anion transport</text>
<rect x="582.40" y="372.36" width="75.00" height="18.00" fill="#f80020" />
<line x1="574.60" y1="381.36" x2="577.40" y2="381.36" stroke="#333" stroke-width="1" />
<text transform="translate(572.40,383.86) scale(1,0.88)" font-size="12" fill="#2b2b2b" stroke="#2b2b2b" stroke-width="0.25" text-anchor="end" >Granulocyte migration</text>
<rect x="582.40" y="392.32" width="100.00" height="18.00" fill="#f50026" />
<line x1="574.60" y1="401.32" x2="577.40" y2="401.32" stroke="#333" stroke-width="1" />
<text transform="translate(572.40,403.82) scale(1,0.88)" font-size="12" fill="#2b2b2b" stroke="#2b2b2b" stroke-width="0.25" text-anchor="end" >Steroid metabolic process</text>
<rect x="582.40" y="412.28" width="100.00" height="18.00" fill="#f0002c" />
<line x1="574.60" y1="421.28" x2="577.40" y2="421.28" stroke="#333" stroke-width="1" />
<text transform="translate(572.40,423.78) scale(1,0.88)" font-size="12" fill="#2b2b2b" stroke="#2b2b2b" stroke-width="0.25" text-anchor="end" >Organic anion transport</text>
<rect x="582.40" y="432.24" width="81.25" height="18.00" fill="#e0004a" />
<line x1="574.60" y1="441.24" x2="577.40" y2="441.24" stroke="#333" stroke-width="1" />
<text transform="translate(572.40,443.74) scale(1,0.88)" font-size="12" fill="#2b2b2b" stroke="#2b2b2b" stroke-width="0.25" text-anchor="end" >Myeloid leukocyte migration</text>
<rect x="582.40" y="452.20" width="43.75" height="18.00" fill="#8200d6" />
<line x1="574.60" y1="461.20" x2="577.40" y2="461.20" stroke="#333" stroke-width="1" />
<text transform="translate(572.40,463.70) scale(1,0.88)" font-size="12" fill="#2b2b2b" stroke="#2b2b2b" stroke-width="0.25" text-anchor="end" >Lymphocyte chemotaxis</text>
<rect x="582.40" y="472.16" width="75.00" height="18.00" fill="#7000e2" />
<line x1="574.60" y1="481.16" x2="577.40" y2="481.16" stroke="#333" stroke-width="1" />
<text transform="translate(572.40,483.66) scale(1,0.88)" font-size="12" fill="#2b2b2b" stroke="#2b2b2b" stroke-width="0.25" text-anchor="end" >Leukocyte chemotaxis</text>
<rect x="582.40" y="492.12" width="43.75" height="18.00" fill="#7a00dc" />
<line x1="574.60" y1="501.12" x2="577.40" y2="501.12" stroke="#333" stroke-width="1" />
<text transform="translate(572.40,503.62) scale(1,0.88)" font-size="12" fill="#2b2b2b" stroke="#2b2b2b" stroke-width="0.25" text-anchor="end" >Monocyte chemotaxis</text>
<rect x="582.40" y="512.08" width="106.25" height="18.00" fill="#6a00e8" />
<line x1="574.60" y1="521.08" x2="577.40" y2="521.08" stroke="#333" stroke-width="1" />
<text transform="translate(572.40,523.58) scale(1,0.88)" font-size="12" fill="#2b2b2b" stroke="#2b2b2b" stroke-width="0.25" text-anchor="end" >Neutrophil migration</text>
<rect x="582.40" y="532.04" width="93.75" height="18.00" fill="#0000ff" />
<line x1="574.60" y1="541.04" x2="577.40" y2="541.04" stroke="#333" stroke-width="1" />
<text transform="translate(572.40,543.54) scale(1,0.88)" font-size="12" fill="#2b2b2b" stroke="#2b2b2b" stroke-width="0.25" text-anchor="end" >Leukocyte migration</text>
<rect x="577.40" y="349.00" width="116.80" height="203.40" fill="none" stroke="#222" stroke-width="1.3" />
<line x1="582.40" y1="552.40" x2="582.40" y2="555.20" stroke="#333" stroke-width="1" />
<text transform="translate(582.40,565.20) scale(1,0.88)" font-size="12" fill="#2b2b2b" stroke="#2b2b2b" stroke-width="0.25" text-anchor="middle" >0</text>
<line x1="613.65" y1="552.40" x2="613.65" y2="555.20" stroke="#333" stroke-width="1" />
<text transform="translate(613.65,565.20) scale(1,0.88)" font-size="12" fill="#2b2b2b" stroke="#2b2b2b" stroke-width="0.25" text-anchor="middle" >5</text>
<line x1="644.90" y1="552.40" x2="644.90" y2="555.20" stroke="#333" stroke-width="1" />
<text transform="translate(644.90,565.20) scale(1,0.88)" font-size="12" fill="#2b2b2b" stroke="#2b2b2b" stroke-width="0.25" text-anchor="middle" >10</text>
<line x1="676.15" y1="552.40" x2="676.15" y2="555.20" stroke="#333" stroke-width="1" />
<text transform="translate(676.15,565.20) scale(1,0.88)" font-size="12" fill="#2b2b2b" stroke="#2b2b2b" stroke-width="0.25" text-anchor="middle" >15</text>
<text transform="translate(631.00,577.80) scale(1,0.88)" font-size="12" fill="#2b2b2b" stroke="#2b2b2b" stroke-width="0.25" text-anchor="middle" >Count</text>
<text transform="translate(706.50,420.80) scale(1,0.88)" font-size="12" fill="#2b2b2b" stroke="#2b2b2b" stroke-width="0.25" >p.adjust</text>
<defs><linearGradient id="gD" x1="0" y1="0" x2="0" y2="1"><stop offset="0" stop-color="#ff0000"/><stop offset="0.5" stop-color="#c0009a"/><stop offset="1" stop-color="#1010ff"/></linearGradient></defs>
<rect x="705.60" y="425.40" width="9.40" height="63.20" fill="url(#gD)" />
<line x1="705.60" y1="437.20" x2="707.40" y2="437.20" stroke="#fff" stroke-width="0.8" />
<line x1="713.20" y1="437.20" x2="715.00" y2="437.20" stroke="#fff" stroke-width="0.8" />
<text transform="translate(721.80,441.20) scale(1,0.88)" font-size="12" fill="#2b2b2b" stroke="#2b2b2b" stroke-width="0.25" >0.00005</text>
<line x1="705.60" y1="449.90" x2="707.40" y2="449.90" stroke="#fff" stroke-width="0.8" />
<line x1="713.20" y1="449.90" x2="715.00" y2="449.90" stroke="#fff" stroke-width="0.8" />
<text transform="translate(721.80,453.90) scale(1,0.88)" font-size="12" fill="#2b2b2b" stroke="#2b2b2b" stroke-width="0.25" >0.00010</text>
<line x1="705.60" y1="462.60" x2="707.40" y2="462.60" stroke="#fff" stroke-width="0.8" />
<line x1="713.20" y1="462.60" x2="715.00" y2="462.60" stroke="#fff" stroke-width="0.8" />
<text transform="translate(721.80,466.60) scale(1,0.88)" font-size="12" fill="#2b2b2b" stroke="#2b2b2b" stroke-width="0.25" >0.00015</text>
<line x1="705.60" y1="475.30" x2="707.40" y2="475.30" stroke="#fff" stroke-width="0.8" />
<line x1="713.20" y1="475.30" x2="715.00" y2="475.30" stroke="#fff" stroke-width="0.8" />
<text transform="translate(721.80,479.30) scale(1,0.88)" font-size="12" fill="#2b2b2b" stroke="#2b2b2b" stroke-width="0.25" >0.00020</text>
<text transform="translate(721.80,492.00) scale(1,0.88)" font-size="12" fill="#2b2b2b" stroke="#2b2b2b" stroke-width="0.25" >0.00025</text>
<text transform="translate(23.00,585.00)" font-size="16.5" fill="#000" font-weight="bold" >E</text>
<line x1="239.26" y1="639.90" x2="239.26" y2="887.90" stroke="#f2f2f2" stroke-width="0.8" />
<line x1="273.99" y1="639.90" x2="273.99" y2="887.90" stroke="#f2f2f2" stroke-width="0.8" />
<line x1="308.71" y1="639.90" x2="308.71" y2="887.90" stroke="#f2f2f2" stroke-width="0.8" />
<line x1="343.44" y1="639.90" x2="343.44" y2="887.90" stroke="#f2f2f2" stroke-width="0.8" />
<line x1="221.90" y1="639.90" x2="221.90" y2="887.90" stroke="#e6e6e6" stroke-width="1.1" />
<line x1="256.62" y1="639.90" x2="256.62" y2="887.90" stroke="#e6e6e6" stroke-width="1.1" />
<line x1="291.35" y1="639.90" x2="291.35" y2="887.90" stroke="#e6e6e6" stroke-width="1.1" />
<line x1="326.08" y1="639.90" x2="326.08" y2="887.90" stroke="#e6e6e6" stroke-width="1.1" />
<line x1="360.80" y1="639.90" x2="360.80" y2="887.90" stroke="#e6e6e6" stroke-width="1.1" />
<line x1="215.20" y1="650.30" x2="367.90" y2="650.30" stroke="#e6e6e6" stroke-width="1.1" />
<line x1="215.20" y1="666.64" x2="367.90" y2="666.64" stroke="#e6e6e6" stroke-width="1.1" />
<line x1="215.20" y1="682.98" x2="367.90" y2="682.98" stroke="#e6e6e6" stroke-width="1.1" />
<line x1="215.20" y1="699.32" x2="367.90" y2="699.32" stroke="#e6e6e6" stroke-width="1.1" />
<line x1="215.20" y1="715.66" x2="367.90" y2="715.66" stroke="#e6e6e6" stroke-width="1.1" />
<line x1="215.20" y1="732.00" x2="367.90" y2="732.00" stroke="#e6e6e6" stroke-width="1.1" />
<line x1="215.20" y1="748.34" x2="367.90" y2="748.34" stroke="#e6e6e6" stroke-width="1.1" />
<line x1="215.20" y1="764.68" x2="367.90" y2="764.68" stroke="#e6e6e6" stroke-width="1.1" />
<line x1="215.20" y1="781.02" x2="367.90" y2="781.02" stroke="#e6e6e6" stroke-width="1.1" />
<line x1="215.20" y1="797.36" x2="367.90" y2="797.36" stroke="#e6e6e6" stroke-width="1.1" />
<line x1="215.20" y1="813.70" x2="367.90" y2="813.70" stroke="#e6e6e6" stroke-width="1.1" />
<line x1="215.20" y1="830.04" x2="367.90" y2="830.04" stroke="#e6e6e6" stroke-width="1.1" />
<line x1="215.20" y1="846.38" x2="367.90" y2="846.38" stroke="#e6e6e6" stroke-width="1.1" />
<line x1="215.20" y1="862.72" x2="367.90" y2="862.72" stroke="#e6e6e6" stroke-width="1.1" />
<line x1="215.20" y1="879.06" x2="367.90" y2="879.06" stroke="#e6e6e6" stroke-width="1.1" />
<rect x="221.90" y="643.20" width="111.12" height="14.20" fill="#dc6066" />
<line x1="212.00" y1="650.30" x2="215.20" y2="650.30" stroke="#333" stroke-width="1" />
<rect x="221.90" y="659.54" width="97.23" height="14.20" fill="#dc6066" />
<line x1="212.00" y1="666.64" x2="215.20" y2="666.64" stroke="#333" stroke-width="1" />
<text transform="translate(210.60,669.64) scale(1,0.88)" font-size="12" fill="#2b2b2b" stroke="#2b2b2b" stroke-width="0.25" text-anchor="end" >Steroid hormone biosynthesis</text>
<rect x="221.90" y="675.88" width="125.01" height="14.20" fill="#dc6066" />
<line x1="212.00" y1="682.98" x2="215.20" y2="682.98" stroke="#333" stroke-width="1" />
<text transform="translate(210.60,685.98) scale(1,0.88)" font-size="12" fill="#2b2b2b" stroke="#2b2b2b" stroke-width="0.25" text-anchor="end" >Chemokine signaling pathway</text>
<rect x="221.90" y="692.22" width="83.34" height="14.20" fill="#dc6066" />
<line x1="212.00" y1="699.32" x2="215.20" y2="699.32" stroke="#333" stroke-width="1" />
<text transform="translate(210.60,702.32) scale(1,0.88)" font-size="12" fill="#2b2b2b" stroke="#2b2b2b" stroke-width="0.25" text-anchor="end" >Complement and coagulation cascades</text>
<rect x="221.90" y="708.56" width="83.34" height="14.20" fill="#dc6066" />
<line x1="212.00" y1="715.66" x2="215.20" y2="715.66" stroke="#333" stroke-width="1" />
<text transform="translate(210.60,718.66) scale(1,0.88)" font-size="12" fill="#2b2b2b" stroke="#2b2b2b" stroke-width="0.25" text-anchor="end" >Protein digestion and absorption</text>
<rect x="221.90" y="724.90" width="83.34" height="14.20" fill="#dc6066" />
<line x1="212.00" y1="732.00" x2="215.20" y2="732.00" stroke="#333" stroke-width="1" />
<text transform="translate(210.60,735.00) scale(1,0.88)" font-size="12" fill="#2b2b2b" stroke="#2b2b2b" stroke-width="0.25" text-anchor="end" >IL-17 signaling pathway</text>
<rect x="221.90" y="741.24" width="138.90" height="14.20" fill="#dc6066" />
<line x1="212.00" y1="748.34" x2="215.20" y2="748.34" stroke="#333" stroke-width="1" />
<text transform="translate(210.60,751.34) scale(1,0.88)" font-size="12" fill="#2b2b2b" stroke="#2b2b2b" stroke-width="0.25" text-anchor="end" >Cytokine-cytokine receptor interation</text>
<rect x="221.90" y="757.58" width="55.56" height="14.20" fill="#d86270" />
<line x1="212.00" y1="764.68" x2="215.20" y2="764.68" stroke="#333" stroke-width="1" />
<text transform="translate(210.60,767.68) scale(1,0.88)" font-size="12" fill="#2b2b2b" stroke="#2b2b2b" stroke-width="0.25" text-anchor="end" >Tryptophan metabolism</text>
<rect x="221.90" y="773.92" width="41.67" height="14.20" fill="#d66270" />
<line x1="212.00" y1="781.02" x2="215.20" y2="781.02" stroke="#333" stroke-width="1" />
<text transform="translate(210.60,784.02) scale(1,0.88)" font-size="12" fill="#2b2b2b" stroke="#2b2b2b" stroke-width="0.25" text-anchor="end" >Histidine metabolism</text>
<rect x="221.90" y="790.26" width="55.56" height="14.20" fill="#c66a80" />
<line x1="212.00" y1="797.36" x2="215.20" y2="797.36" stroke="#333" stroke-width="1" />
<text transform="translate(210.60,800.36) scale(1,0.88)" font-size="12" fill="#2b2b2b" stroke="#2b2b2b" stroke-width="0.25" text-anchor="end" >Ovarian steroidogenesis</text>
<rect x="221.90" y="806.60" width="55.56" height="14.20" fill="#b4708e" />
<line x1="212.00" y1="813.70" x2="215.20" y2="813.70" stroke="#333" stroke-width="1" />
<text transform="translate(210.60,816.70) scale(1,0.88)" font-size="12" fill="#2b2b2b" stroke="#2b2b2b" stroke-width="0.25" text-anchor="end" >Glutathione metabolism</text>
<rect x="221.90" y="822.94" width="27.78" height="14.20" fill="#6f74b2" />
<line x1="212.00" y1="830.04" x2="215.20" y2="830.04" stroke="#333" stroke-width="1" />
<text transform="translate(210.60,833.04) scale(1,0.88)" font-size="12" fill="#2b2b2b" stroke="#2b2b2b" stroke-width="0.25" text-anchor="end" >Nitrogen metabolism</text>
<rect x="221.90" y="839.28" width="27.78" height="14.20" fill="#5580c0" />
<line x1="212.00" y1="846.38" x2="215.20" y2="846.38" stroke="#333" stroke-width="1" />
<text transform="translate(210.60,849.38) scale(1,0.88)" font-size="12" fill="#2b2b2b" stroke="#2b2b2b" stroke-width="0.25" text-anchor="end" >Primary bile acid biosynthesis</text>
<rect x="221.90" y="855.62" width="27.78" height="14.20" fill="#5580c0" />
<line x1="212.00" y1="862.72" x2="215.20" y2="862.72" stroke="#333" stroke-width="1" />
<text transform="translate(210.60,865.72) scale(1,0.88)" font-size="12" fill="#2b2b2b" stroke="#2b2b2b" stroke-width="0.25" text-anchor="end" >Pantothenate and CoA biosynthesis</text>
<rect x="221.90" y="871.96" width="27.78" height="14.20" fill="#3a84c8" />
<line x1="212.00" y1="879.06" x2="215.20" y2="879.06" stroke="#333" stroke-width="1" />
<text transform="translate(210.60,882.06) scale(1,0.88)" font-size="12" fill="#2b2b2b" stroke="#2b2b2b" stroke-width="0.25" text-anchor="end" >2-Oxcarboxylic acid metabolism</text>
<text transform="translate(208.80,641.00) scale(1,0.88)" font-size="12" fill="#2b2b2b" stroke="#2b2b2b" stroke-width="0.25" text-anchor="end" >Viral protein interaction with</text>
<text transform="translate(210.60,652.60) scale(1,0.88)" font-size="12" fill="#2b2b2b" stroke="#2b2b2b" stroke-width="0.25" text-anchor="end" >cytokine and cytokine receptor</text>
<rect x="80.00" y="723.30" width="132.30" height="16.20" fill="none" stroke="#ee7878" stroke-width="1" />
<rect x="215.20" y="639.90" width="152.70" height="248.00" fill="none" stroke="#222" stroke-width="1.3" />
<line x1="221.90" y1="887.90" x2="221.90" y2="890.70" stroke="#333" stroke-width="1" />
<text transform="translate(221.90,901.90) scale(1,0.88)" font-size="12" fill="#2b2b2b" stroke="#2b2b2b" stroke-width="0.25" text-anchor="middle" >0.0</text>
<line x1="256.62" y1="887.90" x2="256.62" y2="890.70" stroke="#333" stroke-width="1" />
<text transform="translate(256.62,901.90) scale(1,0.88)" font-size="12" fill="#2b2b2b" stroke="#2b2b2b" stroke-width="0.25" text-anchor="middle" >2.5</text>
<line x1="291.35" y1="887.90" x2="291.35" y2="890.70" stroke="#333" stroke-width="1" />
<text transform="translate(291.35,901.90) scale(1,0.88)" font-size="12" fill="#2b2b2b" stroke="#2b2b2b" stroke-width="0.25" text-anchor="middle" >5.0</text>
<line x1="326.08" y1="887.90" x2="326.08" y2="890.70" stroke="#333" stroke-width="1" />
<text transform="translate(326.08,901.90) scale(1,0.88)" font-size="12" fill="#2b2b2b" stroke="#2b2b2b" stroke-width="0.25" text-anchor="middle" >7.5</text>
<line x1="360.80" y1="887.90" x2="360.80" y2="890.70" stroke="#333" stroke-width="1" />
<text transform="translate(360.80,901.90) scale(1,0.88)" font-size="12" fill="#2b2b2b" stroke="#2b2b2b" stroke-width="0.25" text-anchor="middle" >10.0</text>
<text transform="translate(291.00,915.00) scale(1,0.88)" font-size="12" fill="#2b2b2b" stroke="#2b2b2b" stroke-width="0.25" text-anchor="middle" >Count</text>
<text transform="translate(375.00,712.20) scale(1,0.88)" font-size="12" fill="#2b2b2b" stroke="#2b2b2b" stroke-width="0.25" >pvalue</text>
<defs><linearGradient id="gE" x1="0" y1="0" x2="0" y2="1"><stop offset="0" stop-color="#e25a5a"/><stop offset="0.3" stop-color="#c86474"/><stop offset="0.62" stop-color="#8c72a6"/><stop offset="1" stop-color="#3682c8"/></linearGradient></defs>
<rect x="374.10" y="718.70" width="14.60" height="92.10" fill="url(#gE)" />
<line x1="374.10" y1="740.60" x2="376.40" y2="740.60" stroke="#fff" stroke-width="0.8" />
<line x1="386.40" y1="740.60" x2="388.70" y2="740.60" stroke="#fff" stroke-width="0.8" />
<text transform="translate(394.60,744.60) scale(1,0.88)" font-size="12" fill="#2b2b2b" stroke="#2b2b2b" stroke-width="0.25" >0.004</text>
<line x1="374.10" y1="762.80" x2="376.40" y2="762.80" stroke="#fff" stroke-width="0.8" />
<line x1="386.40" y1="762.80" x2="388.70" y2="762.80" stroke="#fff" stroke-width="0.8" />
<text transform="translate(394.60,766.80) scale(1,0.88)" font-size="12" fill="#2b2b2b" stroke="#2b2b2b" stroke-width="0.25" >0.008</text>
<line x1="374.10" y1="784.80" x2="376.40" y2="784.80" stroke="#fff" stroke-width="0.8" />
<line x1="386.40" y1="784.80" x2="388.70" y2="784.80" stroke="#fff" stroke-width="0.8" />
<text transform="translate(394.60,788.80) scale(1,0.88)" font-size="12" fill="#2b2b2b" stroke="#2b2b2b" stroke-width="0.25" >0.012</text>
<line x1="374.10" y1="806.60" x2="376.40" y2="806.60" stroke="#fff" stroke-width="0.8" />
<line x1="386.40" y1="806.60" x2="388.70" y2="806.60" stroke="#fff" stroke-width="0.8" />
<text transform="translate(394.60,810.60) scale(1,0.88)" font-size="12" fill="#2b2b2b" stroke="#2b2b2b" stroke-width="0.25" >0.016</text>
<text transform="translate(438.60,585.00)" font-size="16.5" fill="#000" font-weight="bold" >F</text>
<rect x="472.40" y="624.00" width="276.00" height="100.70" fill="#fcf7d4" />
<rect x="472.40" y="724.70" width="276.00" height="189.50" fill="#eaf5d9" />
<g>
<rect x="472.40" y="717.60" width="276.00" height="14.20" fill="#f4f8ea" />
<line x1="474.10" y1="721.00" x2="474.10" y2="728.20" stroke="#a9c2de" stroke-width="1.1" />
<line x1="476.10" y1="721.00" x2="476.10" y2="728.20" stroke="#a9c2de" stroke-width="1.1" />
<ellipse cx="475.10" cy="719.6" rx="2.75" ry="2.1" fill="#b7cf96"/>
<ellipse cx="475.10" cy="729.8" rx="2.75" ry="2.1" fill="#b7cf96"/>
<line x1="479.67" y1="721.00" x2="479.67" y2="728.20" stroke="#a9c2de" stroke-width="1.1" />
<line x1="481.67" y1="721.00" x2="481.67" y2="728.20" stroke="#a9c2de" stroke-width="1.1" />
<ellipse cx="480.67" cy="719.6" rx="2.75" ry="2.1" fill="#b7cf96"/>
<ellipse cx="480.67" cy="729.8" rx="2.75" ry="2.1" fill="#b7cf96"/>
<line x1="485.24" y1="721.00" x2="485.24" y2="728.20" stroke="#a9c2de" stroke-width="1.1" />
<line x1="487.24" y1="721.00" x2="487.24" y2="728.20" stroke="#a9c2de" stroke-width="1.1" />
<ellipse cx="486.24" cy="719.6" rx="2.75" ry="2.1" fill="#b7cf96"/>
<ellipse cx="486.24" cy="729.8" rx="2.75" ry="2.1" fill="#b7cf96"/>
<line x1="490.81" y1="721.00" x2="490.81" y2="728.20" stroke="#a9c2de" stroke-width="1.1" />
<line x1="492.81" y1="721.00" x2="492.81" y2="728.20" stroke="#a9c2de" stroke-width="1.1" />
<ellipse cx="491.81" cy="719.6" rx="2.75" ry="2.1" fill="#b7cf96"/>
<ellipse cx="491.81" cy="729.8" rx="2.75" ry="2.1" fill="#b7cf96"/>
<line x1="496.38" y1="721.00" x2="496.38" y2="728.20" stroke="#a9c2de" stroke-width="1.1" />
<line x1="498.38" y1="721.00" x2="498.38" y2="728.20" stroke="#a9c2de" stroke-width="1.1" />
<ellipse cx="497.38" cy="719.6" rx="2.75" ry="2.1" fill="#b7cf96"/>
<ellipse cx="497.38" cy="729.8" rx="2.75" ry="2.1" fill="#b7cf96"/>
<line x1="501.95" y1="721.00" x2="501.95" y2="728.20" stroke="#a9c2de" stroke-width="1.1" />
<line x1="503.95" y1="721.00" x2="503.95" y2="728.20" stroke="#a9c2de" stroke-width="1.1" />
<ellipse cx="502.95" cy="719.6" rx="2.75" ry="2.1" fill="#b7cf96"/>
<ellipse cx="502.95" cy="729.8" rx="2.75" ry="2.1" fill="#b7cf96"/>
<line x1="507.52" y1="721.00" x2="507.52" y2="728.20" stroke="#a9c2de" stroke-width="1.1" />
<line x1="509.52" y1="721.00" x2="509.52" y2="728.20" stroke="#a9c2de" stroke-width="1.1" />
<ellipse cx="508.52" cy="719.6" rx="2.75" ry="2.1" fill="#b7cf96"/>
<ellipse cx="508.52" cy="729.8" rx="2.75" ry="2.1" fill="#b7cf96"/>
<line x1="513.09" y1="721.00" x2="513.09" y2="728.20" stroke="#a9c2de" stroke-width="1.1" />
<line x1="515.09" y1="721.00" x2="515.09" y2="728.20" stroke="#a9c2de" stroke-width="1.1" />
<ellipse cx="514.09" cy="719.6" rx="2.75" ry="2.1" fill="#b7cf96"/>
<ellipse cx="514.09" cy="729.8" rx="2.75" ry="2.1" fill="#b7cf96"/>
<line x1="518.66" y1="721.00" x2="518.66" y2="728.20" stroke="#a9c2de" stroke-width="1.1" />
<line x1="520.66" y1="721.00" x2="520.66" y2="728.20" stroke="#a9c2de" stroke-width="1.1" />
<ellipse cx="519.66" cy="719.6" rx="2.75" ry="2.1" fill="#b7cf96"/>
<ellipse cx="519.66" cy="729.8" rx="2.75" ry="2.1" fill="#b7cf96"/>
<line x1="524.23" y1="721.00" x2="524.23" y2="728.20" stroke="#a9c2de" stroke-width="1.1" />
<line x1="526.23" y1="721.00" x2="526.23" y2="728.20" stroke="#a9c2de" stroke-width="1.1" />
<ellipse cx="525.23" cy="719.6" rx="2.75" ry="2.1" fill="#b7cf96"/>
<ellipse cx="525.23" cy="729.8" rx="2.75" ry="2.1" fill="#b7cf96"/>
<line x1="529.80" y1="721.00" x2="529.80" y2="728.20" stroke="#a9c2de" stroke-width="1.1" />
<line x1="531.80" y1="721.00" x2="531.80" y2="728.20" stroke="#a9c2de" stroke-width="1.1" />
<ellipse cx="530.80" cy="719.6" rx="2.75" ry="2.1" fill="#b7cf96"/>
<ellipse cx="530.80" cy="729.8" rx="2.75" ry="2.1" fill="#b7cf96"/>
<line x1="535.37" y1="721.00" x2="535.37" y2="728.20" stroke="#a9c2de" stroke-width="1.1" />
<line x1="537.37" y1="721.00" x2="537.37" y2="728.20" stroke="#a9c2de" stroke-width="1.1" />
<ellipse cx="536.37" cy="719.6" rx="2.75" ry="2.1" fill="#b7cf96"/>
<ellipse cx="536.37" cy="729.8" rx="2.75" ry="2.1" fill="#b7cf96"/>
<line x1="540.94" y1="721.00" x2="540.94" y2="728.20" stroke="#a9c2de" stroke-width="1.1" />
<line x1="542.94" y1="721.00" x2="542.94" y2="728.20" stroke="#a9c2de" stroke-width="1.1" />
<ellipse cx="541.94" cy="719.6" rx="2.75" ry="2.1" fill="#b7cf96"/>
<ellipse cx="541.94" cy="729.8" rx="2.75" ry="2.1" fill="#b7cf96"/>
<line x1="546.51" y1="721.00" x2="546.51" y2="728.20" stroke="#a9c2de" stroke-width="1.1" />
<line x1="548.51" y1="721.00" x2="548.51" y2="728.20" stroke="#a9c2de" stroke-width="1.1" />
<ellipse cx="547.51" cy="719.6" rx="2.75" ry="2.1" fill="#b7cf96"/>
<ellipse cx="547.51" cy="729.8" rx="2.75" ry="2.1" fill="#b7cf96"/>
<line x1="552.08" y1="721.00" x2="552.08" y2="728.20" stroke="#a9c2de" stroke-width="1.1" />
<line x1="554.08" y1="721.00" x2="554.08" y2="728.20" stroke="#a9c2de" stroke-width="1.1" />
<ellipse cx="553.08" cy="719.6" rx="2.75" ry="2.1" fill="#b7cf96"/>
<ellipse cx="553.08" cy="729.8" rx="2.75" ry="2.1" fill="#b7cf96"/>
<line x1="557.65" y1="721.00" x2="557.65" y2="728.20" stroke="#a9c2de" stroke-width="1.1" />
<line x1="559.65" y1="721.00" x2="559.65" y2="728.20" stroke="#a9c2de" stroke-width="1.1" />
<ellipse cx="558.65" cy="719.6" rx="2.75" ry="2.1" fill="#b7cf96"/>
<ellipse cx="558.65" cy="729.8" rx="2.75" ry="2.1" fill="#b7cf96"/>
<line x1="563.22" y1="721.00" x2="563.22" y2="728.20" stroke="#a9c2de" stroke-width="1.1" />
<line x1="565.22" y1="721.00" x2="565.22" y2="728.20" stroke="#a9c2de" stroke-width="1.1" />
<ellipse cx="564.22" cy="719.6" rx="2.75" ry="2.1" fill="#b7cf96"/>
<ellipse cx="564.22" cy="729.8" rx="2.75" ry="2.1" fill="#b7cf96"/>
<line x1="568.79" y1="721.00" x2="568.79" y2="728.20" stroke="#a9c2de" stroke-width="1.1" />
<line x1="570.79" y1="721.00" x2="570.79" y2="728.20" stroke="#a9c2de" stroke-width="1.1" />
<ellipse cx="569.79" cy="719.6" rx="2.75" ry="2.1" fill="#b7cf96"/>
<ellipse cx="569.79" cy="729.8" rx="2.75" ry="2.1" fill="#b7cf96"/>
<line x1="574.36" y1="721.00" x2="574.36" y2="728.20" stroke="#a9c2de" stroke-width="1.1" />
<line x1="576.36" y1="721.00" x2="576.36" y2="728.20" stroke="#a9c2de" stroke-width="1.1" />
<ellipse cx="575.36" cy="719.6" rx="2.75" ry="2.1" fill="#b7cf96"/>
<ellipse cx="575.36" cy="729.8" rx="2.75" ry="2.1" fill="#b7cf96"/>
<line x1="579.93" y1="721.00" x2="579.93" y2="728.20" stroke="#a9c2de" stroke-width="1.1" />
<line x1="581.93" y1="721.00" x2="581.93" y2="728.20" stroke="#a9c2de" stroke-width="1.1" />
<ellipse cx="580.93" cy="719.6" rx="2.75" ry="2.1" fill="#b7cf96"/>
<ellipse cx="580.93" cy="729.8" rx="2.75" ry="2.1" fill="#b7cf96"/>
<line x1="585.50" y1="721.00" x2="585.50" y2="728.20" stroke="#a9c2de" stroke-width="1.1" />
<line x1="587.50" y1="721.00" x2="587.50" y2="728.20" stroke="#a9c2de" stroke-width="1.1" />
<ellipse cx="586.50" cy="719.6" rx="2.75" ry="2.1" fill="#b7cf96"/>
<ellipse cx="586.50" cy="729.8" rx="2.75" ry="2.1" fill="#b7cf96"/>
<line x1="591.07" y1="721.00" x2="591.07" y2="728.20" stroke="#a9c2de" stroke-width="1.1" />
<line x1="593.07" y1="721.00" x2="593.07" y2="728.20" stroke="#a9c2de" stroke-width="1.1" />
<ellipse cx="592.07" cy="719.6" rx="2.75" ry="2.1" fill="#b7cf96"/>
<ellipse cx="592.07" cy="729.8" rx="2.75" ry="2.1" fill="#b7cf96"/>
<line x1="596.64" y1="721.00" x2="596.64" y2="728.20" stroke="#a9c2de" stroke-width="1.1" />
<line x1="598.64" y1="721.00" x2="598.64" y2="728.20" stroke="#a9c2de" stroke-width="1.1" />
<ellipse cx="597.64" cy="719.6" rx="2.75" ry="2.1" fill="#b7cf96"/>
<ellipse cx="597.64" cy="729.8" rx="2.75" ry="2.1" fill="#b7cf96"/>
<line x1="602.21" y1="721.00" x2="602.21" y2="728.20" stroke="#a9c2de" stroke-width="1.1" />
<line x1="604.21" y1="721.00" x2="604.21" y2="728.20" stroke="#a9c2de" stroke-width="1.1" />
<ellipse cx="603.21" cy="719.6" rx="2.75" ry="2.1" fill="#b7cf96"/>
<ellipse cx="603.21" cy="729.8" rx="2.75" ry="2.1" fill="#b7cf96"/>
<line x1="607.78" y1="721.00" x2="607.78" y2="728.20" stroke="#a9c2de" stroke-width="1.1" />
<line x1="609.78" y1="721.00" x2="609.78" y2="728.20" stroke="#a9c2de" stroke-width="1.1" />
<ellipse cx="608.78" cy="719.6" rx="2.75" ry="2.1" fill="#b7cf96"/>
<ellipse cx="608.78" cy="729.8" rx="2.75" ry="2.1" fill="#b7cf96"/>
<line x1="613.35" y1="721.00" x2="613.35" y2="728.20" stroke="#a9c2de" stroke-width="1.1" />
<line x1="615.35" y1="721.00" x2="615.35" y2="728.20" stroke="#a9c2de" stroke-width="1.1" />
<ellipse cx="614.35" cy="719.6" rx="2.75" ry="2.1" fill="#b7cf96"/>
<ellipse cx="614.35" cy="729.8" rx="2.75" ry="2.1" fill="#b7cf96"/>
<line x1="618.92" y1="721.00" x2="618.92" y2="728.20" stroke="#a9c2de" stroke-width="1.1" />
<line x1="620.92" y1="721.00" x2="620.92" y2="728.20" stroke="#a9c2de" stroke-width="1.1" />
<ellipse cx="619.92" cy="719.6" rx="2.75" ry="2.1" fill="#b7cf96"/>
<ellipse cx="619.92" cy="729.8" rx="2.75" ry="2.1" fill="#b7cf96"/>
<line x1="624.49" y1="721.00" x2="624.49" y2="728.20" stroke="#a9c2de" stroke-width="1.1" />
<line x1="626.49" y1="721.00" x2="626.49" y2="728.20" stroke="#a9c2de" stroke-width="1.1" />
<ellipse cx="625.49" cy="719.6" rx="2.75" ry="2.1" fill="#b7cf96"/>
<ellipse cx="625.49" cy="729.8" rx="2.75" ry="2.1" fill="#b7cf96"/>
<line x1="630.06" y1="721.00" x2="630.06" y2="728.20" stroke="#a9c2de" stroke-width="1.1" />
<line x1="632.06" y1="721.00" x2="632.06" y2="728.20" stroke="#a9c2de" stroke-width="1.1" />
<ellipse cx="631.06" cy="719.6" rx="2.75" ry="2.1" fill="#b7cf96"/>
<ellipse cx="631.06" cy="729.8" rx="2.75" ry="2.1" fill="#b7cf96"/>
<line x1="635.63" y1="721.00" x2="635.63" y2="728.20" stroke="#a9c2de" stroke-width="1.1" />
<line x1="637.63" y1="721.00" x2="637.63" y2="728.20" stroke="#a9c2de" stroke-width="1.1" />
<ellipse cx="636.63" cy="719.6" rx="2.75" ry="2.1" fill="#b7cf96"/>
<ellipse cx="636.63" cy="729.8" rx="2.75" ry="2.1" fill="#b7cf96"/>
<line x1="641.20" y1="721.00" x2="641.20" y2="728.20" stroke="#a9c2de" stroke-width="1.1" />
<line x1="643.20" y1="721.00" x2="643.20" y2="728.20" stroke="#a9c2de" stroke-width="1.1" />
<ellipse cx="642.20" cy="719.6" rx="2.75" ry="2.1" fill="#b7cf96"/>
<ellipse cx="642.20" cy="729.8" rx="2.75" ry="2.1" fill="#b7cf96"/>
<line x1="646.77" y1="721.00" x2="646.77" y2="728.20" stroke="#a9c2de" stroke-width="1.1" />
<line x1="648.77" y1="721.00" x2="648.77" y2="728.20" stroke="#a9c2de" stroke-width="1.1" />
<ellipse cx="647.77" cy="719.6" rx="2.75" ry="2.1" fill="#b7cf96"/>
<ellipse cx="647.77" cy="729.8" rx="2.75" ry="2.1" fill="#b7cf96"/>
<line x1="652.34" y1="721.00" x2="652.34" y2="728.20" stroke="#a9c2de" stroke-width="1.1" />
<line x1="654.34" y1="721.00" x2="654.34" y2="728.20" stroke="#a9c2de" stroke-width="1.1" />
<ellipse cx="653.34" cy="719.6" rx="2.75" ry="2.1" fill="#b7cf96"/>
<ellipse cx="653.34" cy="729.8" rx="2.75" ry="2.1" fill="#b7cf96"/>
<line x1="657.91" y1="721.00" x2="657.91" y2="728.20" stroke="#a9c2de" stroke-width="1.1" />
<line x1="659.91" y1="721.00" x2="659.91" y2="728.20" stroke="#a9c2de" stroke-width="1.1" />
<ellipse cx="658.91" cy="719.6" rx="2.75" ry="2.1" fill="#b7cf96"/>
<ellipse cx="658.91" cy="729.8" rx="2.75" ry="2.1" fill="#b7cf96"/>
<line x1="663.48" y1="721.00" x2="663.48" y2="728.20" stroke="#a9c2de" stroke-width="1.1" />
<line x1="665.48" y1="721.00" x2="665.48" y2="728.20" stroke="#a9c2de" stroke-width="1.1" />
<ellipse cx="664.48" cy="719.6" rx="2.75" ry="2.1" fill="#b7cf96"/>
<ellipse cx="664.48" cy="729.8" rx="2.75" ry="2.1" fill="#b7cf96"/>
<line x1="669.05" y1="721.00" x2="669.05" y2="728.20" stroke="#a9c2de" stroke-width="1.1" />
<line x1="671.05" y1="721.00" x2="671.05" y2="728.20" stroke="#a9c2de" stroke-width="1.1" />
<ellipse cx="670.05" cy="719.6" rx="2.75" ry="2.1" fill="#b7cf96"/>
<ellipse cx="670.05" cy="729.8" rx="2.75" ry="2.1" fill="#b7cf96"/>
<line x1="674.62" y1="721.00" x2="674.62" y2="728.20" stroke="#a9c2de" stroke-width="1.1" />
<line x1="676.62" y1="721.00" x2="676.62" y2="728.20" stroke="#a9c2de" stroke-width="1.1" />
<ellipse cx="675.62" cy="719.6" rx="2.75" ry="2.1" fill="#b7cf96"/>
<ellipse cx="675.62" cy="729.8" rx="2.75" ry="2.1" fill="#b7cf96"/>
<line x1="680.19" y1="721.00" x2="680.19" y2="728.20" stroke="#a9c2de" stroke-width="1.1" />
<line x1="682.19" y1="721.00" x2="682.19" y2="728.20" stroke="#a9c2de" stroke-width="1.1" />
<ellipse cx="681.19" cy="719.6" rx="2.75" ry="2.1" fill="#b7cf96"/>
<ellipse cx="681.19" cy="729.8" rx="2.75" ry="2.1" fill="#b7cf96"/>
<line x1="685.76" y1="721.00" x2="685.76" y2="728.20" stroke="#a9c2de" stroke-width="1.1" />
<line x1="687.76" y1="721.00" x2="687.76" y2="728.20" stroke="#a9c2de" stroke-width="1.1" />
<ellipse cx="686.76" cy="719.6" rx="2.75" ry="2.1" fill="#b7cf96"/>
<ellipse cx="686.76" cy="729.8" rx="2.75" ry="2.1" fill="#b7cf96"/>
<line x1="691.33" y1="721.00" x2="691.33" y2="728.20" stroke="#a9c2de" stroke-width="1.1" />
<line x1="693.33" y1="721.00" x2="693.33" y2="728.20" stroke="#a9c2de" stroke-width="1.1" />
<ellipse cx="692.33" cy="719.6" rx="2.75" ry="2.1" fill="#b7cf96"/>
<ellipse cx="692.33" cy="729.8" rx="2.75" ry="2.1" fill="#b7cf96"/>
<line x1="696.90" y1="721.00" x2="696.90" y2="728.20" stroke="#a9c2de" stroke-width="1.1" />
<line x1="698.90" y1="721.00" x2="698.90" y2="728.20" stroke="#a9c2de" stroke-width="1.1" />
<ellipse cx="697.90" cy="719.6" rx="2.75" ry="2.1" fill="#b7cf96"/>
<ellipse cx="697.90" cy="729.8" rx="2.75" ry="2.1" fill="#b7cf96"/>
<line x1="702.47" y1="721.00" x2="702.47" y2="728.20" stroke="#a9c2de" stroke-width="1.1" />
<line x1="704.47" y1="721.00" x2="704.47" y2="728.20" stroke="#a9c2de" stroke-width="1.1" />
<ellipse cx="703.47" cy="719.6" rx="2.75" ry="2.1" fill="#b7cf96"/>
<ellipse cx="703.47" cy="729.8" rx="2.75" ry="2.1" fill="#b7cf96"/>
<line x1="708.04" y1="721.00" x2="708.04" y2="728.20" stroke="#a9c2de" stroke-width="1.1" />
<line x1="710.04" y1="721.00" x2="710.04" y2="728.20" stroke="#a9c2de" stroke-width="1.1" />
<ellipse cx="709.04" cy="719.6" rx="2.75" ry="2.1" fill="#b7cf96"/>
<ellipse cx="709.04" cy="729.8" rx="2.75" ry="2.1" fill="#b7cf96"/>
<line x1="713.61" y1="721.00" x2="713.61" y2="728.20" stroke="#a9c2de" stroke-width="1.1" />
<line x1="715.61" y1="721.00" x2="715.61" y2="728.20" stroke="#a9c2de" stroke-width="1.1" />
<ellipse cx="714.61" cy="719.6" rx="2.75" ry="2.1" fill="#b7cf96"/>
<ellipse cx="714.61" cy="729.8" rx="2.75" ry="2.1" fill="#b7cf96"/>
<line x1="719.18" y1="721.00" x2="719.18" y2="728.20" stroke="#a9c2de" stroke-width="1.1" />
<line x1="721.18" y1="721.00" x2="721.18" y2="728.20" stroke="#a9c2de" stroke-width="1.1" />
<ellipse cx="720.18" cy="719.6" rx="2.75" ry="2.1" fill="#b7cf96"/>
<ellipse cx="720.18" cy="729.8" rx="2.75" ry="2.1" fill="#b7cf96"/>
<line x1="724.75" y1="721.00" x2="724.75" y2="728.20" stroke="#a9c2de" stroke-width="1.1" />
<line x1="726.75" y1="721.00" x2="726.75" y2="728.20" stroke="#a9c2de" stroke-width="1.1" />
<ellipse cx="725.75" cy="719.6" rx="2.75" ry="2.1" fill="#b7cf96"/>
<ellipse cx="725.75" cy="729.8" rx="2.75" ry="2.1" fill="#b7cf96"/>
<line x1="730.32" y1="721.00" x2="730.32" y2="728.20" stroke="#a9c2de" stroke-width="1.1" />
<line x1="732.32" y1="721.00" x2="732.32" y2="728.20" stroke="#a9c2de" stroke-width="1.1" />
<ellipse cx="731.32" cy="719.6" rx="2.75" ry="2.1" fill="#b7cf96"/>
<ellipse cx="731.32" cy="729.8" rx="2.75" ry="2.1" fill="#b7cf96"/>
<line x1="735.89" y1="721.00" x2="735.89" y2="728.20" stroke="#a9c2de" stroke-width="1.1" />
<line x1="737.89" y1="721.00" x2="737.89" y2="728.20" stroke="#a9c2de" stroke-width="1.1" />
<ellipse cx="736.89" cy="719.6" rx="2.75" ry="2.1" fill="#b7cf96"/>
<ellipse cx="736.89" cy="729.8" rx="2.75" ry="2.1" fill="#b7cf96"/>
<line x1="741.46" y1="721.00" x2="741.46" y2="728.20" stroke="#a9c2de" stroke-width="1.1" />
<line x1="743.46" y1="721.00" x2="743.46" y2="728.20" stroke="#a9c2de" stroke-width="1.1" />
<ellipse cx="742.46" cy="719.6" rx="2.75" ry="2.1" fill="#b7cf96"/>
<ellipse cx="742.46" cy="729.8" rx="2.75" ry="2.1" fill="#b7cf96"/>
</g>
<line x1="524.00" y1="712" x2="524.00" y2="777.00" stroke="#5b8b49" stroke-width="3.8" stroke-linecap="round"/>
<line x1="535.00" y1="712" x2="535.00" y2="784.00" stroke="#5b8b49" stroke-width="3.8" stroke-linecap="round"/>
<line x1="546.00" y1="712" x2="546.00" y2="777.00" stroke="#5b8b49" stroke-width="3.8" stroke-linecap="round"/>
<ellipse cx="501.00" cy="657.40" rx="8.4" ry="7.2" fill="#d0e4e0" stroke="#a8c8c0" stroke-width="0.7"/>
<ellipse cx="568.20" cy="657.40" rx="8.4" ry="7.2" fill="#d0e4e0" stroke="#a8c8c0" stroke-width="0.7"/>
<ellipse cx="534.60" cy="662.60" rx="8.2" ry="7.0" fill="#d0e4e0" stroke="#a8c8c0" stroke-width="0.7"/>
<ellipse cx="513.00" cy="668.00" rx="8.6" ry="7.4" fill="#afc68a" stroke="#97b276" stroke-width="0.7"/>
<ellipse cx="556.20" cy="668.00" rx="8.6" ry="7.4" fill="#afc68a" stroke="#97b276" stroke-width="0.7"/>
<ellipse cx="520.60" cy="681.60" rx="8.4" ry="7.2" fill="#d0e4e0" stroke="#a8c8c0" stroke-width="0.7"/>
<ellipse cx="548.60" cy="681.60" rx="8.4" ry="7.2" fill="#d0e4e0" stroke="#a8c8c0" stroke-width="0.7"/>
<ellipse cx="534.60" cy="676.60" rx="8.2" ry="6.8" fill="#afc68a" stroke="#97b276" stroke-width="0.7"/>
<ellipse cx="534.60" cy="690.00" rx="8.2" ry="7.0" fill="#d0e4e0" stroke="#a8c8c0" stroke-width="0.7"/>
<ellipse cx="534.60" cy="716.00" rx="8.4" ry="7.2" fill="#afc68a" stroke="#97b276" stroke-width="0.7"/>
<ellipse cx="534.60" cy="703.00" rx="8.4" ry="7.2" fill="#afc68a" stroke="#97b276" stroke-width="0.7"/>
<ellipse cx="523.60" cy="697.00" rx="8.8" ry="7.4" fill="#afc68a" stroke="#97b276" stroke-width="0.7"/>
<ellipse cx="545.60" cy="697.00" rx="8.8" ry="7.4" fill="#afc68a" stroke="#97b276" stroke-width="0.7"/>
<ellipse cx="523.60" cy="712.00" rx="8.8" ry="7.6" fill="#afc68a" stroke="#97b276" stroke-width="0.7"/>
<ellipse cx="545.60" cy="712.00" rx="8.8" ry="7.6" fill="#afc68a" stroke="#97b276" stroke-width="0.7"/>
<line x1="642.40" y1="712" x2="642.40" y2="778.00" stroke="#5b8b49" stroke-width="3.8" stroke-linecap="round"/>
<line x1="653.40" y1="712" x2="653.40" y2="781.00" stroke="#5b8b49" stroke-width="3.8" stroke-linecap="round"/>
<line x1="664.40" y1="712" x2="664.40" y2="778.00" stroke="#5b8b49" stroke-width="3.8" stroke-linecap="round"/>
<ellipse cx="619.40" cy="657.40" rx="8.4" ry="7.2" fill="#d0e4e0" stroke="#a8c8c0" stroke-width="0.7"/>
<ellipse cx="686.60" cy="657.40" rx="8.4" ry="7.2" fill="#d0e4e0" stroke="#a8c8c0" stroke-width="0.7"/>
<ellipse cx="653.00" cy="662.60" rx="8.2" ry="7.0" fill="#d0e4e0" stroke="#a8c8c0" stroke-width="0.7"/>
<ellipse cx="631.40" cy="668.00" rx="8.6" ry="7.4" fill="#afc68a" stroke="#97b276" stroke-width="0.7"/>
<ellipse cx="674.60" cy="668.00" rx="8.6" ry="7.4" fill="#afc68a" stroke="#97b276" stroke-width="0.7"/>
<ellipse cx="639.00" cy="681.60" rx="8.4" ry="7.2" fill="#d0e4e0" stroke="#a8c8c0" stroke-width="0.7"/>
<ellipse cx="667.00" cy="681.60" rx="8.4" ry="7.2" fill="#d0e4e0" stroke="#a8c8c0" stroke-width="0.7"/>
<ellipse cx="653.00" cy="676.60" rx="8.2" ry="6.8" fill="#afc68a" stroke="#97b276" stroke-width="0.7"/>
<ellipse cx="653.00" cy="690.00" rx="8.2" ry="7.0" fill="#d0e4e0" stroke="#a8c8c0" stroke-width="0.7"/>
<ellipse cx="653.00" cy="716.00" rx="8.4" ry="7.2" fill="#afc68a" stroke="#97b276" stroke-width="0.7"/>
<ellipse cx="653.00" cy="703.00" rx="8.4" ry="7.2" fill="#afc68a" stroke="#97b276" stroke-width="0.7"/>
<ellipse cx="642.00" cy="697.00" rx="8.8" ry="7.4" fill="#afc68a" stroke="#97b276" stroke-width="0.7"/>
<ellipse cx="664.00" cy="697.00" rx="8.8" ry="7.4" fill="#afc68a" stroke="#97b276" stroke-width="0.7"/>
<ellipse cx="642.00" cy="712.00" rx="8.8" ry="7.6" fill="#afc68a" stroke="#97b276" stroke-width="0.7"/>
<ellipse cx="664.00" cy="712.00" rx="8.8" ry="7.6" fill="#afc68a" stroke="#97b276" stroke-width="0.7"/>
<path d="M532.00,628.4 H526.00 A8.6,9.1 0 0 0 526.00,646.6 H532.00 Z" fill="#b3cdea" stroke="#5d84c2" stroke-width="0.9"/>
<path d="M534.40,628.4 H540.40 A8.6,9.1 0 0 1 540.40,646.6 H534.40 Z" fill="#b3cdea" stroke="#5d84c2" stroke-width="0.9"/>
<path d="M649.80,628.4 H643.80 A8.6,9.1 0 0 0 643.80,646.6 H649.80 Z" fill="#d3e9e6" stroke="#5f9f9f" stroke-width="0.9"/>
<path d="M652.20,628.4 H658.20 A8.6,9.1 0 0 1 658.20,646.6 H652.20 Z" fill="#d3e9e6" stroke="#5f9f9f" stroke-width="0.9"/>
<rect x="543.6" y="729" width="14.4" height="29.6" rx="1" fill="#e5c7e6" stroke="#d6acd6" stroke-width="0.6"/>
<rect x="659.6" y="739" width="15.4" height="26.6" rx="2.2" fill="#b4cdec" stroke="#6f95cc" stroke-width="0.9"/>
<rect x="656.6" y="778.6" width="38" height="16.8" rx="2.5" fill="#a3a98a" stroke="#858b6e" stroke-width="0.9"/>
<path d="M672,799.5 Q678,797 682,797.2 A5.8,5.8 0 1 1 682,808.8 Q678,809 672,806.5 Z" fill="#d8dcb2"/>
<ellipse cx="651.5" cy="802.8" rx="26.5" ry="8.8" fill="#d8dcb2"/>
<line x1="654.40" y1="811.80" x2="654.40" y2="858.50" stroke="#4a4a4a" stroke-width="0.9" />
<path d="M651.6,857 L657.2,857 L654.4,862.6 Z" fill="#333"/>
<clipPath id="dnaclip"><rect x="472.4" y="880" width="276" height="34"/></clipPath><g clip-path="url(#dnaclip)">
<path d="M441.52,908.20 L442.09,908.19 L442.65,908.14 L443.21,908.06 L443.77,907.95 L444.33,907.80 L444.89,907.60 L445.45,907.36 L446.01,907.07 L446.58,906.72 L447.14,906.32 L447.70,905.87 L448.26,905.37 L448.82,904.83 L449.38,904.24 L449.94,903.60 L450.50,902.93 L451.07,902.20 L451.63,901.40 L452.19,900.46 L452.75,898.70 L453.31,896.98 L453.87,896.14 L454.43,895.52 L455.00,895.02 L455.56,894.61 L456.12,894.27 L456.68,893.99 L457.24,893.74 L457.80,893.52 L458.36,893.33 L458.92,893.15 L459.48,892.98 L460.05,892.82 L460.61,892.67 L461.17,892.54 L461.73,892.42 L462.29,892.33 L462.85,892.26 L463.41,892.21 L463.97,892.20 L463.97,893.10 L463.41,893.11 L462.85,893.16 L462.29,893.24 L461.73,893.35 L461.17,893.50 L460.61,893.70 L460.05,893.94 L459.48,894.23 L458.92,894.58 L458.36,894.98 L457.80,895.43 L457.24,895.93 L456.68,896.47 L456.12,897.06 L455.56,897.70 L455.00,898.37 L454.43,899.10 L453.87,899.90 L453.31,900.84 L452.75,902.60 L452.19,904.32 L451.63,905.16 L451.07,905.78 L450.50,906.28 L449.94,906.69 L449.38,907.03 L448.82,907.31 L448.26,907.56 L447.70,907.78 L447.14,907.97 L446.58,908.15 L446.01,908.32 L445.45,908.48 L444.89,908.63 L444.33,908.76 L443.77,908.88 L443.21,908.97 L442.65,909.04 L442.09,909.09 L441.52,909.10 Z" fill="#73a05a" stroke="#5e8a48" stroke-width="0.6"/>
<path d="M441.52,892.20 L442.09,892.21 L442.65,892.26 L443.21,892.33 L443.77,892.42 L444.33,892.54 L444.89,892.67 L445.45,892.82 L446.01,892.98 L446.58,893.15 L447.14,893.33 L447.70,893.52 L448.26,893.74 L448.82,893.99 L449.38,894.27 L449.94,894.61 L450.50,895.02 L451.07,895.52 L451.63,896.14 L452.19,896.98 L452.75,898.70 L453.31,900.46 L453.87,901.40 L454.43,902.20 L455.00,902.93 L455.56,903.60 L456.12,904.24 L456.68,904.83 L457.24,905.37 L457.80,905.87 L458.36,906.32 L458.92,906.72 L459.48,907.07 L460.05,907.36 L460.61,907.60 L461.17,907.80 L461.73,907.95 L462.29,908.06 L462.85,908.14 L463.41,908.19 L463.97,908.20 L463.97,909.10 L463.41,909.09 L462.85,909.04 L462.29,908.97 L461.73,908.88 L461.17,908.76 L460.61,908.63 L460.05,908.48 L459.48,908.32 L458.92,908.15 L458.36,907.97 L457.80,907.78 L457.24,907.56 L456.68,907.31 L456.12,907.03 L455.56,906.69 L455.00,906.28 L454.43,905.78 L453.87,905.16 L453.31,904.32 L452.75,902.60 L452.19,900.84 L451.63,899.90 L451.07,899.10 L450.50,898.37 L449.94,897.70 L449.38,897.06 L448.82,896.47 L448.26,895.93 L447.70,895.43 L447.14,894.98 L446.58,894.58 L446.01,894.23 L445.45,893.94 L444.89,893.70 L444.33,893.50 L443.77,893.35 L443.21,893.24 L442.65,893.16 L442.09,893.11 L441.52,893.10 Z" fill="#f6d870" stroke="#cfae4a" stroke-width="0.6"/>
<path d="M463.97,908.20 L464.54,908.19 L465.10,908.14 L465.66,908.06 L466.22,907.95 L466.78,907.80 L467.34,907.60 L467.90,907.36 L468.46,907.07 L469.03,906.72 L469.59,906.32 L470.15,905.87 L470.71,905.37 L471.27,904.83 L471.83,904.24 L472.39,903.60 L472.95,902.93 L473.52,902.20 L474.08,901.40 L474.64,900.46 L475.20,898.70 L475.76,896.98 L476.32,896.14 L476.88,895.52 L477.44,895.02 L478.01,894.61 L478.57,894.27 L479.13,893.99 L479.69,893.74 L480.25,893.52 L480.81,893.33 L481.37,893.15 L481.93,892.98 L482.50,892.82 L483.06,892.67 L483.62,892.54 L484.18,892.42 L484.74,892.33 L485.30,892.26 L485.86,892.21 L486.42,892.20 L486.42,893.10 L485.86,893.11 L485.30,893.16 L484.74,893.24 L484.18,893.35 L483.62,893.50 L483.06,893.70 L482.50,893.94 L481.93,894.23 L481.37,894.58 L480.81,894.98 L480.25,895.43 L479.69,895.93 L479.13,896.47 L478.57,897.06 L478.01,897.70 L477.44,898.37 L476.88,899.10 L476.32,899.90 L475.76,900.84 L475.20,902.60 L474.64,904.32 L474.08,905.16 L473.52,905.78 L472.95,906.28 L472.39,906.69 L471.83,907.03 L471.27,907.31 L470.71,907.56 L470.15,907.78 L469.59,907.97 L469.03,908.15 L468.46,908.32 L467.90,908.48 L467.34,908.63 L466.78,908.76 L466.22,908.88 L465.66,908.97 L465.10,909.04 L464.54,909.09 L463.97,909.10 Z" fill="#eba04c" stroke="#c98634" stroke-width="0.6"/>
<path d="M463.97,892.20 L464.54,892.21 L465.10,892.26 L465.66,892.33 L466.22,892.42 L466.78,892.54 L467.34,892.67 L467.90,892.82 L468.46,892.98 L469.03,893.15 L469.59,893.33 L470.15,893.52 L470.71,893.74 L471.27,893.99 L471.83,894.27 L472.39,894.61 L472.95,895.02 L473.52,895.52 L474.08,896.14 L474.64,896.98 L475.20,898.70 L475.76,900.46 L476.32,901.40 L476.88,902.20 L477.44,902.93 L478.01,903.60 L478.57,904.24 L479.13,904.83 L479.69,905.37 L480.25,905.87 L480.81,906.32 L481.37,906.72 L481.93,907.07 L482.50,907.36 L483.06,907.60 L483.62,907.80 L484.18,907.95 L484.74,908.06 L485.30,908.14 L485.86,908.19 L486.42,908.20 L486.42,909.10 L485.86,909.09 L485.30,909.04 L484.74,908.97 L484.18,908.88 L483.62,908.76 L483.06,908.63 L482.50,908.48 L481.93,908.32 L481.37,908.15 L480.81,907.97 L480.25,907.78 L479.69,907.56 L479.13,907.31 L478.57,907.03 L478.01,906.69 L477.44,906.28 L476.88,905.78 L476.32,905.16 L475.76,904.32 L475.20,902.60 L474.64,900.84 L474.08,899.90 L473.52,899.10 L472.95,898.37 L472.39,897.70 L471.83,897.06 L471.27,896.47 L470.71,895.93 L470.15,895.43 L469.59,894.98 L469.03,894.58 L468.46,894.23 L467.90,893.94 L467.34,893.70 L466.78,893.50 L466.22,893.35 L465.66,893.24 L465.10,893.16 L464.54,893.11 L463.97,893.10 Z" fill="#b3d393" stroke="#88ad6c" stroke-width="0.6"/>
<path d="M486.42,908.20 L486.99,908.19 L487.55,908.14 L488.11,908.06 L488.67,907.95 L489.23,907.80 L489.79,907.60 L490.35,907.36 L490.91,907.07 L491.48,906.72 L492.04,906.32 L492.60,905.87 L493.16,905.37 L493.72,904.83 L494.28,904.24 L494.84,903.60 L495.40,902.93 L495.97,902.20 L496.53,901.40 L497.09,900.46 L497.65,898.70 L498.21,896.98 L498.77,896.14 L499.33,895.52 L499.89,895.02 L500.46,894.61 L501.02,894.27 L501.58,893.99 L502.14,893.74 L502.70,893.52 L503.26,893.33 L503.82,893.15 L504.38,892.98 L504.95,892.82 L505.51,892.67 L506.07,892.54 L506.63,892.42 L507.19,892.33 L507.75,892.26 L508.31,892.21 L508.87,892.20 L508.87,893.10 L508.31,893.11 L507.75,893.16 L507.19,893.24 L506.63,893.35 L506.07,893.50 L505.51,893.70 L504.95,893.94 L504.38,894.23 L503.82,894.58 L503.26,894.98 L502.70,895.43 L502.14,895.93 L501.58,896.47 L501.02,897.06 L500.46,897.70 L499.89,898.37 L499.33,899.10 L498.77,899.90 L498.21,900.84 L497.65,902.60 L497.09,904.32 L496.53,905.16 L495.97,905.78 L495.40,906.28 L494.84,906.69 L494.28,907.03 L493.72,907.31 L493.16,907.56 L492.60,907.78 L492.04,907.97 L491.48,908.15 L490.91,908.32 L490.35,908.48 L489.79,908.63 L489.23,908.76 L488.67,908.88 L488.11,908.97 L487.55,909.04 L486.99,909.09 L486.42,909.10 Z" fill="#73a05a" stroke="#5e8a48" stroke-width="0.6"/>
<path d="M486.42,892.20 L486.99,892.21 L487.55,892.26 L488.11,892.33 L488.67,892.42 L489.23,892.54 L489.79,892.67 L490.35,892.82 L490.91,892.98 L491.48,893.15 L492.04,893.33 L492.60,893.52 L493.16,893.74 L493.72,893.99 L494.28,894.27 L494.84,894.61 L495.40,895.02 L495.97,895.52 L496.53,896.14 L497.09,896.98 L497.65,898.70 L498.21,900.46 L498.77,901.40 L499.33,902.20 L499.89,902.93 L500.46,903.60 L501.02,904.24 L501.58,904.83 L502.14,905.37 L502.70,905.87 L503.26,906.32 L503.82,906.72 L504.38,907.07 L504.95,907.36 L505.51,907.60 L506.07,907.80 L506.63,907.95 L507.19,908.06 L507.75,908.14 L508.31,908.19 L508.87,908.20 L508.87,909.10 L508.31,909.09 L507.75,909.04 L507.19,908.97 L506.63,908.88 L506.07,908.76 L505.51,908.63 L504.95,908.48 L504.38,908.32 L503.82,908.15 L503.26,907.97 L502.70,907.78 L502.14,907.56 L501.58,907.31 L501.02,907.03 L500.46,906.69 L499.89,906.28 L499.33,905.78 L498.77,905.16 L498.21,904.32 L497.65,902.60 L497.09,900.84 L496.53,899.90 L495.97,899.10 L495.40,898.37 L494.84,897.70 L494.28,897.06 L493.72,896.47 L493.16,895.93 L492.60,895.43 L492.04,894.98 L491.48,894.58 L490.91,894.23 L490.35,893.94 L489.79,893.70 L489.23,893.50 L488.67,893.35 L488.11,893.24 L487.55,893.16 L486.99,893.11 L486.42,893.10 Z" fill="#f6d870" stroke="#cfae4a" stroke-width="0.6"/>
<path d="M508.88,908.20 L509.44,908.19 L510.00,908.14 L510.56,908.06 L511.12,907.95 L511.68,907.80 L512.24,907.60 L512.80,907.36 L513.37,907.07 L513.93,906.72 L514.49,906.32 L515.05,905.87 L515.61,905.37 L516.17,904.83 L516.73,904.24 L517.29,903.60 L517.86,902.93 L518.42,902.20 L518.98,901.40 L519.54,900.46 L520.10,898.70 L520.66,896.98 L521.22,896.14 L521.78,895.52 L522.35,895.02 L522.91,894.61 L523.47,894.27 L524.03,893.99 L524.59,893.74 L525.15,893.52 L525.71,893.33 L526.27,893.15 L526.84,892.98 L527.40,892.82 L527.96,892.67 L528.52,892.54 L529.08,892.42 L529.64,892.33 L530.20,892.26 L530.76,892.21 L531.33,892.20 L531.33,893.10 L530.76,893.11 L530.20,893.16 L529.64,893.24 L529.08,893.35 L528.52,893.50 L527.96,893.70 L527.40,893.94 L526.84,894.23 L526.27,894.58 L525.71,894.98 L525.15,895.43 L524.59,895.93 L524.03,896.47 L523.47,897.06 L522.91,897.70 L522.35,898.37 L521.78,899.10 L521.22,899.90 L520.66,900.84 L520.10,902.60 L519.54,904.32 L518.98,905.16 L518.42,905.78 L517.86,906.28 L517.29,906.69 L516.73,907.03 L516.17,907.31 L515.61,907.56 L515.05,907.78 L514.49,907.97 L513.93,908.15 L513.37,908.32 L512.80,908.48 L512.24,908.63 L511.68,908.76 L511.12,908.88 L510.56,908.97 L510.00,909.04 L509.44,909.09 L508.88,909.10 Z" fill="#eba04c" stroke="#c98634" stroke-width="0.6"/>
<path d="M508.88,892.20 L509.44,892.21 L510.00,892.26 L510.56,892.33 L511.12,892.42 L511.68,892.54 L512.24,892.67 L512.80,892.82 L513.37,892.98 L513.93,893.15 L514.49,893.33 L515.05,893.52 L515.61,893.74 L516.17,893.99 L516.73,894.27 L517.29,894.61 L517.86,895.02 L518.42,895.52 L518.98,896.14 L519.54,896.98 L520.10,898.70 L520.66,900.46 L521.22,901.40 L521.78,902.20 L522.35,902.93 L522.91,903.60 L523.47,904.24 L524.03,904.83 L524.59,905.37 L525.15,905.87 L525.71,906.32 L526.27,906.72 L526.84,907.07 L527.40,907.36 L527.96,907.60 L528.52,907.80 L529.08,907.95 L529.64,908.06 L530.20,908.14 L530.76,908.19 L531.33,908.20 L531.33,909.10 L530.76,909.09 L530.20,909.04 L529.64,908.97 L529.08,908.88 L528.52,908.76 L527.96,908.63 L527.40,908.48 L526.84,908.32 L526.27,908.15 L525.71,907.97 L525.15,907.78 L524.59,907.56 L524.03,907.31 L523.47,907.03 L522.91,906.69 L522.35,906.28 L521.78,905.78 L521.22,905.16 L520.66,904.32 L520.10,902.60 L519.54,900.84 L518.98,899.90 L518.42,899.10 L517.86,898.37 L517.29,897.70 L516.73,897.06 L516.17,896.47 L515.61,895.93 L515.05,895.43 L514.49,894.98 L513.93,894.58 L513.37,894.23 L512.80,893.94 L512.24,893.70 L511.68,893.50 L511.12,893.35 L510.56,893.24 L510.00,893.16 L509.44,893.11 L508.88,893.10 Z" fill="#b3d393" stroke="#88ad6c" stroke-width="0.6"/>
<path d="M531.32,908.20 L531.89,908.19 L532.45,908.14 L533.01,908.06 L533.57,907.95 L534.13,907.80 L534.69,907.60 L535.25,907.36 L535.81,907.07 L536.38,906.72 L536.94,906.32 L537.50,905.87 L538.06,905.37 L538.62,904.83 L539.18,904.24 L539.74,903.60 L540.30,902.93 L540.87,902.20 L541.43,901.40 L541.99,900.46 L542.55,898.70 L543.11,896.98 L543.67,896.14 L544.23,895.52 L544.79,895.02 L545.36,894.61 L545.92,894.27 L546.48,893.99 L547.04,893.74 L547.60,893.52 L548.16,893.33 L548.72,893.15 L549.28,892.98 L549.85,892.82 L550.41,892.67 L550.97,892.54 L551.53,892.42 L552.09,892.33 L552.65,892.26 L553.21,892.21 L553.77,892.20 L553.77,893.10 L553.21,893.11 L552.65,893.16 L552.09,893.24 L551.53,893.35 L550.97,893.50 L550.41,893.70 L549.85,893.94 L549.28,894.23 L548.72,894.58 L548.16,894.98 L547.60,895.43 L547.04,895.93 L546.48,896.47 L545.92,897.06 L545.36,897.70 L544.79,898.37 L544.23,899.10 L543.67,899.90 L543.11,900.84 L542.55,902.60 L541.99,904.32 L541.43,905.16 L540.87,905.78 L540.30,906.28 L539.74,906.69 L539.18,907.03 L538.62,907.31 L538.06,907.56 L537.50,907.78 L536.94,907.97 L536.38,908.15 L535.81,908.32 L535.25,908.48 L534.69,908.63 L534.13,908.76 L533.57,908.88 L533.01,908.97 L532.45,909.04 L531.89,909.09 L531.32,909.10 Z" fill="#73a05a" stroke="#5e8a48" stroke-width="0.6"/>
<path d="M531.32,892.20 L531.89,892.21 L532.45,892.26 L533.01,892.33 L533.57,892.42 L534.13,892.54 L534.69,892.67 L535.25,892.82 L535.81,892.98 L536.38,893.15 L536.94,893.33 L537.50,893.52 L538.06,893.74 L538.62,893.99 L539.18,894.27 L539.74,894.61 L540.30,895.02 L540.87,895.52 L541.43,896.14 L541.99,896.98 L542.55,898.70 L543.11,900.46 L543.67,901.40 L544.23,902.20 L544.79,902.93 L545.36,903.60 L545.92,904.24 L546.48,904.83 L547.04,905.37 L547.60,905.87 L548.16,906.32 L548.72,906.72 L549.28,907.07 L549.85,907.36 L550.41,907.60 L550.97,907.80 L551.53,907.95 L552.09,908.06 L552.65,908.14 L553.21,908.19 L553.77,908.20 L553.77,909.10 L553.21,909.09 L552.65,909.04 L552.09,908.97 L551.53,908.88 L550.97,908.76 L550.41,908.63 L549.85,908.48 L549.28,908.32 L548.72,908.15 L548.16,907.97 L547.60,907.78 L547.04,907.56 L546.48,907.31 L545.92,907.03 L545.36,906.69 L544.79,906.28 L544.23,905.78 L543.67,905.16 L543.11,904.32 L542.55,902.60 L541.99,900.84 L541.43,899.90 L540.87,899.10 L540.30,898.37 L539.74,897.70 L539.18,897.06 L538.62,896.47 L538.06,895.93 L537.50,895.43 L536.94,894.98 L536.38,894.58 L535.81,894.23 L535.25,893.94 L534.69,893.70 L534.13,893.50 L533.57,893.35 L533.01,893.24 L532.45,893.16 L531.89,893.11 L531.32,893.10 Z" fill="#f6d870" stroke="#cfae4a" stroke-width="0.6"/>
<path d="M553.77,908.20 L554.34,908.19 L554.90,908.14 L555.46,908.06 L556.02,907.95 L556.58,907.80 L557.14,907.60 L557.70,907.36 L558.26,907.07 L558.83,906.72 L559.39,906.32 L559.95,905.87 L560.51,905.37 L561.07,904.83 L561.63,904.24 L562.19,903.60 L562.75,902.93 L563.32,902.20 L563.88,901.40 L564.44,900.46 L565.00,898.70 L565.56,896.98 L566.12,896.14 L566.68,895.52 L567.25,895.02 L567.81,894.61 L568.37,894.27 L568.93,893.99 L569.49,893.74 L570.05,893.52 L570.61,893.33 L571.17,893.15 L571.74,892.98 L572.30,892.82 L572.86,892.67 L573.42,892.54 L573.98,892.42 L574.54,892.33 L575.10,892.26 L575.66,892.21 L576.23,892.20 L576.23,893.10 L575.66,893.11 L575.10,893.16 L574.54,893.24 L573.98,893.35 L573.42,893.50 L572.86,893.70 L572.30,893.94 L571.74,894.23 L571.17,894.58 L570.61,894.98 L570.05,895.43 L569.49,895.93 L568.93,896.47 L568.37,897.06 L567.81,897.70 L567.25,898.37 L566.68,899.10 L566.12,899.90 L565.56,900.84 L565.00,902.60 L564.44,904.32 L563.88,905.16 L563.32,905.78 L562.75,906.28 L562.19,906.69 L561.63,907.03 L561.07,907.31 L560.51,907.56 L559.95,907.78 L559.39,907.97 L558.83,908.15 L558.26,908.32 L557.70,908.48 L557.14,908.63 L556.58,908.76 L556.02,908.88 L555.46,908.97 L554.90,909.04 L554.34,909.09 L553.77,909.10 Z" fill="#eba04c" stroke="#c98634" stroke-width="0.6"/>
<path d="M553.77,892.20 L554.34,892.21 L554.90,892.26 L555.46,892.33 L556.02,892.42 L556.58,892.54 L557.14,892.67 L557.70,892.82 L558.26,892.98 L558.83,893.15 L559.39,893.33 L559.95,893.52 L560.51,893.74 L561.07,893.99 L561.63,894.27 L562.19,894.61 L562.75,895.02 L563.32,895.52 L563.88,896.14 L564.44,896.98 L565.00,898.70 L565.56,900.46 L566.12,901.40 L566.68,902.20 L567.25,902.93 L567.81,903.60 L568.37,904.24 L568.93,904.83 L569.49,905.37 L570.05,905.87 L570.61,906.32 L571.17,906.72 L571.74,907.07 L572.30,907.36 L572.86,907.60 L573.42,907.80 L573.98,907.95 L574.54,908.06 L575.10,908.14 L575.66,908.19 L576.23,908.20 L576.23,909.10 L575.66,909.09 L575.10,909.04 L574.54,908.97 L573.98,908.88 L573.42,908.76 L572.86,908.63 L572.30,908.48 L571.74,908.32 L571.17,908.15 L570.61,907.97 L570.05,907.78 L569.49,907.56 L568.93,907.31 L568.37,907.03 L567.81,906.69 L567.25,906.28 L566.68,905.78 L566.12,905.16 L565.56,904.32 L565.00,902.60 L564.44,900.84 L563.88,899.90 L563.32,899.10 L562.75,898.37 L562.19,897.70 L561.63,897.06 L561.07,896.47 L560.51,895.93 L559.95,895.43 L559.39,894.98 L558.83,894.58 L558.26,894.23 L557.70,893.94 L557.14,893.70 L556.58,893.50 L556.02,893.35 L555.46,893.24 L554.90,893.16 L554.34,893.11 L553.77,893.10 Z" fill="#b3d393" stroke="#88ad6c" stroke-width="0.6"/>
<path d="M576.23,908.20 L576.79,908.19 L577.35,908.14 L577.91,908.06 L578.47,907.95 L579.03,907.80 L579.59,907.60 L580.15,907.36 L580.72,907.07 L581.28,906.72 L581.84,906.32 L582.40,905.87 L582.96,905.37 L583.52,904.83 L584.08,904.24 L584.64,903.60 L585.21,902.93 L585.77,902.20 L586.33,901.40 L586.89,900.46 L587.45,898.70 L588.01,896.98 L588.57,896.14 L589.13,895.52 L589.70,895.02 L590.26,894.61 L590.82,894.27 L591.38,893.99 L591.94,893.74 L592.50,893.52 L593.06,893.33 L593.62,893.15 L594.19,892.98 L594.75,892.82 L595.31,892.67 L595.87,892.54 L596.43,892.42 L596.99,892.33 L597.55,892.26 L598.11,892.21 L598.68,892.20 L598.68,893.10 L598.11,893.11 L597.55,893.16 L596.99,893.24 L596.43,893.35 L595.87,893.50 L595.31,893.70 L594.75,893.94 L594.19,894.23 L593.62,894.58 L593.06,894.98 L592.50,895.43 L591.94,895.93 L591.38,896.47 L590.82,897.06 L590.26,897.70 L589.70,898.37 L589.13,899.10 L588.57,899.90 L588.01,900.84 L587.45,902.60 L586.89,904.32 L586.33,905.16 L585.77,905.78 L585.21,906.28 L584.64,906.69 L584.08,907.03 L583.52,907.31 L582.96,907.56 L582.40,907.78 L581.84,907.97 L581.28,908.15 L580.72,908.32 L580.15,908.48 L579.59,908.63 L579.03,908.76 L578.47,908.88 L577.91,908.97 L577.35,909.04 L576.79,909.09 L576.23,909.10 Z" fill="#73a05a" stroke="#5e8a48" stroke-width="0.6"/>
<path d="M576.23,892.20 L576.79,892.21 L577.35,892.26 L577.91,892.33 L578.47,892.42 L579.03,892.54 L579.59,892.67 L580.15,892.82 L580.72,892.98 L581.28,893.15 L581.84,893.33 L582.40,893.52 L582.96,893.74 L583.52,893.99 L584.08,894.27 L584.64,894.61 L585.21,895.02 L585.77,895.52 L586.33,896.14 L586.89,896.98 L587.45,898.70 L588.01,900.46 L588.57,901.40 L589.13,902.20 L589.70,902.93 L590.26,903.60 L590.82,904.24 L591.38,904.83 L591.94,905.37 L592.50,905.87 L593.06,906.32 L593.62,906.72 L594.19,907.07 L594.75,907.36 L595.31,907.60 L595.87,907.80 L596.43,907.95 L596.99,908.06 L597.55,908.14 L598.11,908.19 L598.68,908.20 L598.68,909.10 L598.11,909.09 L597.55,909.04 L596.99,908.97 L596.43,908.88 L595.87,908.76 L595.31,908.63 L594.75,908.48 L594.19,908.32 L593.62,908.15 L593.06,907.97 L592.50,907.78 L591.94,907.56 L591.38,907.31 L590.82,907.03 L590.26,906.69 L589.70,906.28 L589.13,905.78 L588.57,905.16 L588.01,904.32 L587.45,902.60 L586.89,900.84 L586.33,899.90 L585.77,899.10 L585.21,898.37 L584.64,897.70 L584.08,897.06 L583.52,896.47 L582.96,895.93 L582.40,895.43 L581.84,894.98 L581.28,894.58 L580.72,894.23 L580.15,893.94 L579.59,893.70 L579.03,893.50 L578.47,893.35 L577.91,893.24 L577.35,893.16 L576.79,893.11 L576.23,893.10 Z" fill="#f6d870" stroke="#cfae4a" stroke-width="0.6"/>
<path d="M598.67,908.20 L599.24,908.19 L599.80,908.14 L600.36,908.06 L600.92,907.95 L601.48,907.80 L602.04,907.60 L602.60,907.36 L603.16,907.07 L603.73,906.72 L604.29,906.32 L604.85,905.87 L605.41,905.37 L605.97,904.83 L606.53,904.24 L607.09,903.60 L607.65,902.93 L608.22,902.20 L608.78,901.40 L609.34,900.46 L609.90,898.70 L610.46,896.98 L611.02,896.14 L611.58,895.52 L612.14,895.02 L612.71,894.61 L613.27,894.27 L613.83,893.99 L614.39,893.74 L614.95,893.52 L615.51,893.33 L616.07,893.15 L616.63,892.98 L617.20,892.82 L617.76,892.67 L618.32,892.54 L618.88,892.42 L619.44,892.33 L620.00,892.26 L620.56,892.21 L621.12,892.20 L621.12,893.10 L620.56,893.11 L620.00,893.16 L619.44,893.24 L618.88,893.35 L618.32,893.50 L617.76,893.70 L617.20,893.94 L616.63,894.23 L616.07,894.58 L615.51,894.98 L614.95,895.43 L614.39,895.93 L613.83,896.47 L613.27,897.06 L612.71,897.70 L612.14,898.37 L611.58,899.10 L611.02,899.90 L610.46,900.84 L609.90,902.60 L609.34,904.32 L608.78,905.16 L608.22,905.78 L607.65,906.28 L607.09,906.69 L606.53,907.03 L605.97,907.31 L605.41,907.56 L604.85,907.78 L604.29,907.97 L603.73,908.15 L603.16,908.32 L602.60,908.48 L602.04,908.63 L601.48,908.76 L600.92,908.88 L600.36,908.97 L599.80,909.04 L599.24,909.09 L598.67,909.10 Z" fill="#eba04c" stroke="#c98634" stroke-width="0.6"/>
<path d="M598.67,892.20 L599.24,892.21 L599.80,892.26 L600.36,892.33 L600.92,892.42 L601.48,892.54 L602.04,892.67 L602.60,892.82 L603.16,892.98 L603.73,893.15 L604.29,893.33 L604.85,893.52 L605.41,893.74 L605.97,893.99 L606.53,894.27 L607.09,894.61 L607.65,895.02 L608.22,895.52 L608.78,896.14 L609.34,896.98 L609.90,898.70 L610.46,900.46 L611.02,901.40 L611.58,902.20 L612.14,902.93 L612.71,903.60 L613.27,904.24 L613.83,904.83 L614.39,905.37 L614.95,905.87 L615.51,906.32 L616.07,906.72 L616.63,907.07 L617.20,907.36 L617.76,907.60 L618.32,907.80 L618.88,907.95 L619.44,908.06 L620.00,908.14 L620.56,908.19 L621.12,908.20 L621.12,909.10 L620.56,909.09 L620.00,909.04 L619.44,908.97 L618.88,908.88 L618.32,908.76 L617.76,908.63 L617.20,908.48 L616.63,908.32 L616.07,908.15 L615.51,907.97 L614.95,907.78 L614.39,907.56 L613.83,907.31 L613.27,907.03 L612.71,906.69 L612.14,906.28 L611.58,905.78 L611.02,905.16 L610.46,904.32 L609.90,902.60 L609.34,900.84 L608.78,899.90 L608.22,899.10 L607.65,898.37 L607.09,897.70 L606.53,897.06 L605.97,896.47 L605.41,895.93 L604.85,895.43 L604.29,894.98 L603.73,894.58 L603.16,894.23 L602.60,893.94 L602.04,893.70 L601.48,893.50 L600.92,893.35 L600.36,893.24 L599.80,893.16 L599.24,893.11 L598.67,893.10 Z" fill="#b3d393" stroke="#88ad6c" stroke-width="0.6"/>
<path d="M621.12,908.20 L621.69,908.19 L622.25,908.14 L622.81,908.06 L623.37,907.95 L623.93,907.80 L624.49,907.60 L625.05,907.36 L625.62,907.07 L626.18,906.72 L626.74,906.32 L627.30,905.87 L627.86,905.37 L628.42,904.83 L628.98,904.24 L629.54,903.60 L630.11,902.93 L630.67,902.20 L631.23,901.40 L631.79,900.46 L632.35,898.70 L632.91,896.98 L633.47,896.14 L634.03,895.52 L634.60,895.02 L635.16,894.61 L635.72,894.27 L636.28,893.99 L636.84,893.74 L637.40,893.52 L637.96,893.33 L638.52,893.15 L639.09,892.98 L639.65,892.82 L640.21,892.67 L640.77,892.54 L641.33,892.42 L641.89,892.33 L642.45,892.26 L643.01,892.21 L643.58,892.20 L643.58,893.10 L643.01,893.11 L642.45,893.16 L641.89,893.24 L641.33,893.35 L640.77,893.50 L640.21,893.70 L639.65,893.94 L639.09,894.23 L638.52,894.58 L637.96,894.98 L637.40,895.43 L636.84,895.93 L636.28,896.47 L635.72,897.06 L635.16,897.70 L634.60,898.37 L634.03,899.10 L633.47,899.90 L632.91,900.84 L632.35,902.60 L631.79,904.32 L631.23,905.16 L630.67,905.78 L630.11,906.28 L629.54,906.69 L628.98,907.03 L628.42,907.31 L627.86,907.56 L627.30,907.78 L626.74,907.97 L626.18,908.15 L625.62,908.32 L625.05,908.48 L624.49,908.63 L623.93,908.76 L623.37,908.88 L622.81,908.97 L622.25,909.04 L621.69,909.09 L621.12,909.10 Z" fill="#73a05a" stroke="#5e8a48" stroke-width="0.6"/>
<path d="M621.12,892.20 L621.69,892.21 L622.25,892.26 L622.81,892.33 L623.37,892.42 L623.93,892.54 L624.49,892.67 L625.05,892.82 L625.62,892.98 L626.18,893.15 L626.74,893.33 L627.30,893.52 L627.86,893.74 L628.42,893.99 L628.98,894.27 L629.54,894.61 L630.11,895.02 L630.67,895.52 L631.23,896.14 L631.79,896.98 L632.35,898.70 L632.91,900.46 L633.47,901.40 L634.03,902.20 L634.60,902.93 L635.16,903.60 L635.72,904.24 L636.28,904.83 L636.84,905.37 L637.40,905.87 L637.96,906.32 L638.52,906.72 L639.09,907.07 L639.65,907.36 L640.21,907.60 L640.77,907.80 L641.33,907.95 L641.89,908.06 L642.45,908.14 L643.01,908.19 L643.58,908.20 L643.58,909.10 L643.01,909.09 L642.45,909.04 L641.89,908.97 L641.33,908.88 L640.77,908.76 L640.21,908.63 L639.65,908.48 L639.09,908.32 L638.52,908.15 L637.96,907.97 L637.40,907.78 L636.84,907.56 L636.28,907.31 L635.72,907.03 L635.16,906.69 L634.60,906.28 L634.03,905.78 L633.47,905.16 L632.91,904.32 L632.35,902.60 L631.79,900.84 L631.23,899.90 L630.67,899.10 L630.11,898.37 L629.54,897.70 L628.98,897.06 L628.42,896.47 L627.86,895.93 L627.30,895.43 L626.74,894.98 L626.18,894.58 L625.62,894.23 L625.05,893.94 L624.49,893.70 L623.93,893.50 L623.37,893.35 L622.81,893.24 L622.25,893.16 L621.69,893.11 L621.12,893.10 Z" fill="#f6d870" stroke="#cfae4a" stroke-width="0.6"/>
<path d="M643.57,908.20 L644.14,908.19 L644.70,908.14 L645.26,908.06 L645.82,907.95 L646.38,907.80 L646.94,907.60 L647.50,907.36 L648.06,907.07 L648.63,906.72 L649.19,906.32 L649.75,905.87 L650.31,905.37 L650.87,904.83 L651.43,904.24 L651.99,903.60 L652.55,902.93 L653.12,902.20 L653.68,901.40 L654.24,900.46 L654.80,898.70 L655.36,896.98 L655.92,896.14 L656.48,895.52 L657.04,895.02 L657.61,894.61 L658.17,894.27 L658.73,893.99 L659.29,893.74 L659.85,893.52 L660.41,893.33 L660.97,893.15 L661.53,892.98 L662.10,892.82 L662.66,892.67 L663.22,892.54 L663.78,892.42 L664.34,892.33 L664.90,892.26 L665.46,892.21 L666.02,892.20 L666.02,893.10 L665.46,893.11 L664.90,893.16 L664.34,893.24 L663.78,893.35 L663.22,893.50 L662.66,893.70 L662.10,893.94 L661.53,894.23 L660.97,894.58 L660.41,894.98 L659.85,895.43 L659.29,895.93 L658.73,896.47 L658.17,897.06 L657.61,897.70 L657.04,898.37 L656.48,899.10 L655.92,899.90 L655.36,900.84 L654.80,902.60 L654.24,904.32 L653.68,905.16 L653.12,905.78 L652.55,906.28 L651.99,906.69 L651.43,907.03 L650.87,907.31 L650.31,907.56 L649.75,907.78 L649.19,907.97 L648.63,908.15 L648.06,908.32 L647.50,908.48 L646.94,908.63 L646.38,908.76 L645.82,908.88 L645.26,908.97 L644.70,909.04 L644.14,909.09 L643.57,909.10 Z" fill="#eba04c" stroke="#c98634" stroke-width="0.6"/>
<path d="M643.57,892.20 L644.14,892.21 L644.70,892.26 L645.26,892.33 L645.82,892.42 L646.38,892.54 L646.94,892.67 L647.50,892.82 L648.06,892.98 L648.63,893.15 L649.19,893.33 L649.75,893.52 L650.31,893.74 L650.87,893.99 L651.43,894.27 L651.99,894.61 L652.55,895.02 L653.12,895.52 L653.68,896.14 L654.24,896.98 L654.80,898.70 L655.36,900.46 L655.92,901.40 L656.48,902.20 L657.04,902.93 L657.61,903.60 L658.17,904.24 L658.73,904.83 L659.29,905.37 L659.85,905.87 L660.41,906.32 L660.97,906.72 L661.53,907.07 L662.10,907.36 L662.66,907.60 L663.22,907.80 L663.78,907.95 L664.34,908.06 L664.90,908.14 L665.46,908.19 L666.02,908.20 L666.02,909.10 L665.46,909.09 L664.90,909.04 L664.34,908.97 L663.78,908.88 L663.22,908.76 L662.66,908.63 L662.10,908.48 L661.53,908.32 L660.97,908.15 L660.41,907.97 L659.85,907.78 L659.29,907.56 L658.73,907.31 L658.17,907.03 L657.61,906.69 L657.04,906.28 L656.48,905.78 L655.92,905.16 L655.36,904.32 L654.80,902.60 L654.24,900.84 L653.68,899.90 L653.12,899.10 L652.55,898.37 L651.99,897.70 L651.43,897.06 L650.87,896.47 L650.31,895.93 L649.75,895.43 L649.19,894.98 L648.63,894.58 L648.06,894.23 L647.50,893.94 L646.94,893.70 L646.38,893.50 L645.82,893.35 L645.26,893.24 L644.70,893.16 L644.14,893.11 L643.57,893.10 Z" fill="#b3d393" stroke="#88ad6c" stroke-width="0.6"/>
<path d="M666.02,908.20 L666.59,908.19 L667.15,908.14 L667.71,908.06 L668.27,907.95 L668.83,907.80 L669.39,907.60 L669.95,907.36 L670.51,907.07 L671.08,906.72 L671.64,906.32 L672.20,905.87 L672.76,905.37 L673.32,904.83 L673.88,904.24 L674.44,903.60 L675.00,902.93 L675.57,902.20 L676.13,901.40 L676.69,900.46 L677.25,898.70 L677.81,896.98 L678.37,896.14 L678.93,895.52 L679.50,895.02 L680.06,894.61 L680.62,894.27 L681.18,893.99 L681.74,893.74 L682.30,893.52 L682.86,893.33 L683.42,893.15 L683.99,892.98 L684.55,892.82 L685.11,892.67 L685.67,892.54 L686.23,892.42 L686.79,892.33 L687.35,892.26 L687.91,892.21 L688.48,892.20 L688.48,893.10 L687.91,893.11 L687.35,893.16 L686.79,893.24 L686.23,893.35 L685.67,893.50 L685.11,893.70 L684.55,893.94 L683.99,894.23 L683.42,894.58 L682.86,894.98 L682.30,895.43 L681.74,895.93 L681.18,896.47 L680.62,897.06 L680.06,897.70 L679.50,898.37 L678.93,899.10 L678.37,899.90 L677.81,900.84 L677.25,902.60 L676.69,904.32 L676.13,905.16 L675.57,905.78 L675.00,906.28 L674.44,906.69 L673.88,907.03 L673.32,907.31 L672.76,907.56 L672.20,907.78 L671.64,907.97 L671.08,908.15 L670.51,908.32 L669.95,908.48 L669.39,908.63 L668.83,908.76 L668.27,908.88 L667.71,908.97 L667.15,909.04 L666.59,909.09 L666.02,909.10 Z" fill="#73a05a" stroke="#5e8a48" stroke-width="0.6"/>
<path d="M666.02,892.20 L666.59,892.21 L667.15,892.26 L667.71,892.33 L668.27,892.42 L668.83,892.54 L669.39,892.67 L669.95,892.82 L670.51,892.98 L671.08,893.15 L671.64,893.33 L672.20,893.52 L672.76,893.74 L673.32,893.99 L673.88,894.27 L674.44,894.61 L675.00,895.02 L675.57,895.52 L676.13,896.14 L676.69,896.98 L677.25,898.70 L677.81,900.46 L678.37,901.40 L678.93,902.20 L679.50,902.93 L680.06,903.60 L680.62,904.24 L681.18,904.83 L681.74,905.37 L682.30,905.87 L682.86,906.32 L683.42,906.72 L683.99,907.07 L684.55,907.36 L685.11,907.60 L685.67,907.80 L686.23,907.95 L686.79,908.06 L687.35,908.14 L687.91,908.19 L688.48,908.20 L688.48,909.10 L687.91,909.09 L687.35,909.04 L686.79,908.97 L686.23,908.88 L685.67,908.76 L685.11,908.63 L684.55,908.48 L683.99,908.32 L683.42,908.15 L682.86,907.97 L682.30,907.78 L681.74,907.56 L681.18,907.31 L680.62,907.03 L680.06,906.69 L679.50,906.28 L678.93,905.78 L678.37,905.16 L677.81,904.32 L677.25,902.60 L676.69,900.84 L676.13,899.90 L675.57,899.10 L675.00,898.37 L674.44,897.70 L673.88,897.06 L673.32,896.47 L672.76,895.93 L672.20,895.43 L671.64,894.98 L671.08,894.58 L670.51,894.23 L669.95,893.94 L669.39,893.70 L668.83,893.50 L668.27,893.35 L667.71,893.24 L667.15,893.16 L666.59,893.11 L666.02,893.10 Z" fill="#f6d870" stroke="#cfae4a" stroke-width="0.6"/>
<path d="M688.48,908.20 L689.04,908.19 L689.60,908.14 L690.16,908.06 L690.72,907.95 L691.28,907.80 L691.84,907.60 L692.40,907.36 L692.97,907.07 L693.53,906.72 L694.09,906.32 L694.65,905.87 L695.21,905.37 L695.77,904.83 L696.33,904.24 L696.89,903.60 L697.46,902.93 L698.02,902.20 L698.58,901.40 L699.14,900.46 L699.70,898.70 L700.26,896.98 L700.82,896.14 L701.38,895.52 L701.95,895.02 L702.51,894.61 L703.07,894.27 L703.63,893.99 L704.19,893.74 L704.75,893.52 L705.31,893.33 L705.87,893.15 L706.44,892.98 L707.00,892.82 L707.56,892.67 L708.12,892.54 L708.68,892.42 L709.24,892.33 L709.80,892.26 L710.36,892.21 L710.93,892.20 L710.93,893.10 L710.36,893.11 L709.80,893.16 L709.24,893.24 L708.68,893.35 L708.12,893.50 L707.56,893.70 L707.00,893.94 L706.44,894.23 L705.87,894.58 L705.31,894.98 L704.75,895.43 L704.19,895.93 L703.63,896.47 L703.07,897.06 L702.51,897.70 L701.95,898.37 L701.38,899.10 L700.82,899.90 L700.26,900.84 L699.70,902.60 L699.14,904.32 L698.58,905.16 L698.02,905.78 L697.46,906.28 L696.89,906.69 L696.33,907.03 L695.77,907.31 L695.21,907.56 L694.65,907.78 L694.09,907.97 L693.53,908.15 L692.97,908.32 L692.40,908.48 L691.84,908.63 L691.28,908.76 L690.72,908.88 L690.16,908.97 L689.60,909.04 L689.04,909.09 L688.48,909.10 Z" fill="#eba04c" stroke="#c98634" stroke-width="0.6"/>
<path d="M688.48,892.20 L689.04,892.21 L689.60,892.26 L690.16,892.33 L690.72,892.42 L691.28,892.54 L691.84,892.67 L692.40,892.82 L692.97,892.98 L693.53,893.15 L694.09,893.33 L694.65,893.52 L695.21,893.74 L695.77,893.99 L696.33,894.27 L696.89,894.61 L697.46,895.02 L698.02,895.52 L698.58,896.14 L699.14,896.98 L699.70,898.70 L700.26,900.46 L700.82,901.40 L701.38,902.20 L701.95,902.93 L702.51,903.60 L703.07,904.24 L703.63,904.83 L704.19,905.37 L704.75,905.87 L705.31,906.32 L705.87,906.72 L706.44,907.07 L707.00,907.36 L707.56,907.60 L708.12,907.80 L708.68,907.95 L709.24,908.06 L709.80,908.14 L710.36,908.19 L710.93,908.20 L710.93,909.10 L710.36,909.09 L709.80,909.04 L709.24,908.97 L708.68,908.88 L708.12,908.76 L707.56,908.63 L707.00,908.48 L706.44,908.32 L705.87,908.15 L705.31,907.97 L704.75,907.78 L704.19,907.56 L703.63,907.31 L703.07,907.03 L702.51,906.69 L701.95,906.28 L701.38,905.78 L700.82,905.16 L700.26,904.32 L699.70,902.60 L699.14,900.84 L698.58,899.90 L698.02,899.10 L697.46,898.37 L696.89,897.70 L696.33,897.06 L695.77,896.47 L695.21,895.93 L694.65,895.43 L694.09,894.98 L693.53,894.58 L692.97,894.23 L692.40,893.94 L691.84,893.70 L691.28,893.50 L690.72,893.35 L690.16,893.24 L689.60,893.16 L689.04,893.11 L688.48,893.10 Z" fill="#b3d393" stroke="#88ad6c" stroke-width="0.6"/>
<path d="M710.92,908.20 L711.49,908.19 L712.05,908.14 L712.61,908.06 L713.17,907.95 L713.73,907.80 L714.29,907.60 L714.85,907.36 L715.41,907.07 L715.98,906.72 L716.54,906.32 L717.10,905.87 L717.66,905.37 L718.22,904.83 L718.78,904.24 L719.34,903.60 L719.90,902.93 L720.47,902.20 L721.03,901.40 L721.59,900.46 L722.15,898.70 L722.71,896.98 L723.27,896.14 L723.83,895.52 L724.39,895.02 L724.96,894.61 L725.52,894.27 L726.08,893.99 L726.64,893.74 L727.20,893.52 L727.76,893.33 L728.32,893.15 L728.88,892.98 L729.45,892.82 L730.01,892.67 L730.57,892.54 L731.13,892.42 L731.69,892.33 L732.25,892.26 L732.81,892.21 L733.38,892.20 L733.38,893.10 L732.81,893.11 L732.25,893.16 L731.69,893.24 L731.13,893.35 L730.57,893.50 L730.01,893.70 L729.45,893.94 L728.88,894.23 L728.32,894.58 L727.76,894.98 L727.20,895.43 L726.64,895.93 L726.08,896.47 L725.52,897.06 L724.96,897.70 L724.39,898.37 L723.83,899.10 L723.27,899.90 L722.71,900.84 L722.15,902.60 L721.59,904.32 L721.03,905.16 L720.47,905.78 L719.90,906.28 L719.34,906.69 L718.78,907.03 L718.22,907.31 L717.66,907.56 L717.10,907.78 L716.54,907.97 L715.98,908.15 L715.41,908.32 L714.85,908.48 L714.29,908.63 L713.73,908.76 L713.17,908.88 L712.61,908.97 L712.05,909.04 L711.49,909.09 L710.92,909.10 Z" fill="#73a05a" stroke="#5e8a48" stroke-width="0.6"/>
<path d="M710.92,892.20 L711.49,892.21 L712.05,892.26 L712.61,892.33 L713.17,892.42 L713.73,892.54 L714.29,892.67 L714.85,892.82 L715.41,892.98 L715.98,893.15 L716.54,893.33 L717.10,893.52 L717.66,893.74 L718.22,893.99 L718.78,894.27 L719.34,894.61 L719.90,895.02 L720.47,895.52 L721.03,896.14 L721.59,896.98 L722.15,898.70 L722.71,900.46 L723.27,901.40 L723.83,902.20 L724.39,902.93 L724.96,903.60 L725.52,904.24 L726.08,904.83 L726.64,905.37 L727.20,905.87 L727.76,906.32 L728.32,906.72 L728.88,907.07 L729.45,907.36 L730.01,907.60 L730.57,907.80 L731.13,907.95 L731.69,908.06 L732.25,908.14 L732.81,908.19 L733.38,908.20 L733.38,909.10 L732.81,909.09 L732.25,909.04 L731.69,908.97 L731.13,908.88 L730.57,908.76 L730.01,908.63 L729.45,908.48 L728.88,908.32 L728.32,908.15 L727.76,907.97 L727.20,907.78 L726.64,907.56 L726.08,907.31 L725.52,907.03 L724.96,906.69 L724.39,906.28 L723.83,905.78 L723.27,905.16 L722.71,904.32 L722.15,902.60 L721.59,900.84 L721.03,899.90 L720.47,899.10 L719.90,898.37 L719.34,897.70 L718.78,897.06 L718.22,896.47 L717.66,895.93 L717.10,895.43 L716.54,894.98 L715.98,894.58 L715.41,894.23 L714.85,893.94 L714.29,893.70 L713.73,893.50 L713.17,893.35 L712.61,893.24 L712.05,893.16 L711.49,893.11 L710.92,893.10 Z" fill="#f6d870" stroke="#cfae4a" stroke-width="0.6"/>
<path d="M733.37,908.20 L733.94,908.19 L734.50,908.14 L735.06,908.06 L735.62,907.95 L736.18,907.80 L736.74,907.60 L737.30,907.36 L737.86,907.07 L738.43,906.72 L738.99,906.32 L739.55,905.87 L740.11,905.37 L740.67,904.83 L741.23,904.24 L741.79,903.60 L742.35,902.93 L742.92,902.20 L743.48,901.40 L744.04,900.46 L744.60,898.70 L745.16,896.98 L745.72,896.14 L746.28,895.52 L746.84,895.02 L747.41,894.61 L747.97,894.27 L748.53,893.99 L749.09,893.74 L749.65,893.52 L750.21,893.33 L750.77,893.15 L751.33,892.98 L751.90,892.82 L752.46,892.67 L753.02,892.54 L753.58,892.42 L754.14,892.33 L754.70,892.26 L755.26,892.21 L755.82,892.20 L755.82,893.10 L755.26,893.11 L754.70,893.16 L754.14,893.24 L753.58,893.35 L753.02,893.50 L752.46,893.70 L751.90,893.94 L751.33,894.23 L750.77,894.58 L750.21,894.98 L749.65,895.43 L749.09,895.93 L748.53,896.47 L747.97,897.06 L747.41,897.70 L746.84,898.37 L746.28,899.10 L745.72,899.90 L745.16,900.84 L744.60,902.60 L744.04,904.32 L743.48,905.16 L742.92,905.78 L742.35,906.28 L741.79,906.69 L741.23,907.03 L740.67,907.31 L740.11,907.56 L739.55,907.78 L738.99,907.97 L738.43,908.15 L737.86,908.32 L737.30,908.48 L736.74,908.63 L736.18,908.76 L735.62,908.88 L735.06,908.97 L734.50,909.04 L733.94,909.09 L733.37,909.10 Z" fill="#eba04c" stroke="#c98634" stroke-width="0.6"/>
<path d="M733.37,892.20 L733.94,892.21 L734.50,892.26 L735.06,892.33 L735.62,892.42 L736.18,892.54 L736.74,892.67 L737.30,892.82 L737.86,892.98 L738.43,893.15 L738.99,893.33 L739.55,893.52 L740.11,893.74 L740.67,893.99 L741.23,894.27 L741.79,894.61 L742.35,895.02 L742.92,895.52 L743.48,896.14 L744.04,896.98 L744.60,898.70 L745.16,900.46 L745.72,901.40 L746.28,902.20 L746.84,902.93 L747.41,903.60 L747.97,904.24 L748.53,904.83 L749.09,905.37 L749.65,905.87 L750.21,906.32 L750.77,906.72 L751.33,907.07 L751.90,907.36 L752.46,907.60 L753.02,907.80 L753.58,907.95 L754.14,908.06 L754.70,908.14 L755.26,908.19 L755.82,908.20 L755.82,909.10 L755.26,909.09 L754.70,909.04 L754.14,908.97 L753.58,908.88 L753.02,908.76 L752.46,908.63 L751.90,908.48 L751.33,908.32 L750.77,908.15 L750.21,907.97 L749.65,907.78 L749.09,907.56 L748.53,907.31 L747.97,907.03 L747.41,906.69 L746.84,906.28 L746.28,905.78 L745.72,905.16 L745.16,904.32 L744.60,902.60 L744.04,900.84 L743.48,899.90 L742.92,899.10 L742.35,898.37 L741.79,897.70 L741.23,897.06 L740.67,896.47 L740.11,895.93 L739.55,895.43 L738.99,894.98 L738.43,894.58 L737.86,894.23 L737.30,893.94 L736.74,893.70 L736.18,893.50 L735.62,893.35 L735.06,893.24 L734.50,893.16 L733.94,893.11 L733.37,893.10 Z" fill="#b3d393" stroke="#88ad6c" stroke-width="0.6"/>
</g>
<ellipse cx="655" cy="892" rx="11" ry="20.7" fill="#a9c284" stroke="#86a464" stroke-width="0.8"/>
<text transform="translate(533.50,623.00) scale(1,0.86)" font-size="12" fill="#1e1e1e" stroke="#1e1e1e" stroke-width="0.25" text-anchor="middle" letter-spacing="0.3">IL-17B</text>
<text transform="translate(650.80,623.00) scale(1,0.86)" font-size="12" fill="#1e1e1e" stroke="#1e1e1e" stroke-width="0.25" text-anchor="middle" letter-spacing="0.3">IL-17A</text>
<text transform="translate(553.00,748.00) scale(1,0.86)" font-size="12" fill="#1e1e1e" stroke="#1e1e1e" stroke-width="0.25" letter-spacing="0.3">IL-17RB</text>
<text transform="translate(669.00,756.00) scale(1,0.86)" font-size="12" fill="#1e1e1e" stroke="#1e1e1e" stroke-width="0.25" >IL-17RA</text>
<text transform="translate(675.60,791.60) scale(1,0.86)" font-size="12" fill="#1e1e1e" stroke="#1e1e1e" stroke-width="0.25" text-anchor="middle" >Act1</text>
<text transform="translate(635.60,807.00) scale(1,0.9)" font-size="11.5" fill="#1e1e1e" stroke="#1e1e1e" stroke-width="0.25" >TRAF6</text>
<text transform="translate(641.60,896.00) scale(1,0.86)" font-size="12" fill="#1e1e1e" stroke="#1e1e1e" stroke-width="0.25" >c-Fos</text>
<text transform="translate(20.80,948.70) scale(1.13,1)" font-size="14.6" fill="#000" font-weight="bold" >G</text>
<line x1="95.50" y1="986.28" x2="95.50" y2="1120.50" stroke="#3a3a3a" stroke-width="1.1" />
<line x1="90.90" y1="986.28" x2="95.50" y2="986.28" stroke="#3a3a3a" stroke-width="1.1" />
<text transform="translate(87.50,990.38) scale(1,0.9)" font-size="12" fill="#222" stroke="#222" stroke-width="0.25" text-anchor="end" >6</text>
<line x1="90.90" y1="1031.02" x2="95.50" y2="1031.02" stroke="#3a3a3a" stroke-width="1.1" />
<text transform="translate(87.50,1035.12) scale(1,0.9)" font-size="12" fill="#222" stroke="#222" stroke-width="0.25" text-anchor="end" >4</text>
<line x1="90.90" y1="1075.76" x2="95.50" y2="1075.76" stroke="#3a3a3a" stroke-width="1.1" />
<text transform="translate(87.50,1079.86) scale(1,0.9)" font-size="12" fill="#222" stroke="#222" stroke-width="0.25" text-anchor="end" >2</text>
<line x1="90.90" y1="1120.50" x2="95.50" y2="1120.50" stroke="#3a3a3a" stroke-width="1.1" />
<text transform="translate(87.50,1124.60) scale(1,0.9)" font-size="12" fill="#222" stroke="#222" stroke-width="0.25" text-anchor="end" >0</text>
<line x1="95.50" y1="1120.50" x2="186.60" y2="1120.50" stroke="#3a3a3a" stroke-width="1.1" />
<line x1="121.30" y1="1120.50" x2="121.30" y2="1124.50" stroke="#3a3a3a" stroke-width="1.1" />
<text transform="translate(121.30,1137.50) scale(1,0.9)" font-size="12" fill="#222" stroke="#222" stroke-width="0.25" text-anchor="middle" >Ctrl</text>
<line x1="160.50" y1="1120.50" x2="160.50" y2="1124.50" stroke="#3a3a3a" stroke-width="1.1" />
<text transform="translate(160.50,1137.50) scale(1,0.9)" font-size="12" fill="#222" stroke="#222" stroke-width="0.25" text-anchor="middle" >GZMB</text>
<rect x="108.40" y="1098.13" width="25.80" height="22.37" fill="none" stroke="#1a1aff" stroke-width="1.3" />
<rect x="147.60" y="1037.73" width="25.80" height="82.77" fill="none" stroke="#ff2a2a" stroke-width="1.3" />
<line x1="121.30" y1="1085.20" x2="121.30" y2="1110.50" stroke="#1a1aff" stroke-width="1.1" />
<line x1="114.80" y1="1085.20" x2="127.80" y2="1085.20" stroke="#1a1aff" stroke-width="1.1" />
<line x1="114.80" y1="1110.50" x2="127.80" y2="1110.50" stroke="#1a1aff" stroke-width="1.1" />
<line x1="160.50" y1="1021.30" x2="160.50" y2="1054.10" stroke="#ff2a2a" stroke-width="1.1" />
<line x1="154.00" y1="1021.30" x2="167.00" y2="1021.30" stroke="#ff2a2a" stroke-width="1.1" />
<line x1="154.00" y1="1054.10" x2="167.00" y2="1054.10" stroke="#ff2a2a" stroke-width="1.1" />
<circle cx="121.30" cy="1075.60" r="1.6" fill="#1a1aff"/>
<circle cx="121.30" cy="1098.80" r="1.6" fill="#1a1aff"/>
<circle cx="121.30" cy="1120.00" r="1.6" fill="#1a1aff"/>
<rect x="159.00" y="1008.10" width="3" height="3" fill="#ff2a2a"/>
<rect x="159.00" y="1034.50" width="3" height="3" fill="#ff2a2a"/>
<rect x="159.00" y="1065.50" width="3" height="3" fill="#ff2a2a"/>
<path d="M123.20,1004.80 V998.30 H160.40 V1004.80" fill="none" stroke="#555" stroke-width="1.25"/>
<path d="M143.20,982.30 L143.20,988.90 M140.34,983.95 L146.06,987.25 M146.06,983.95 L140.34,987.25 " stroke="#222" stroke-width="1.35" stroke-linecap="round" fill="none"/>
<text transform="translate(47.40,1042.50) rotate(-90) scale(1,0.92)" font-size="13" text-anchor="middle" fill="#222" stroke="#222" stroke-width="0.25" textLength="160.6" lengthAdjust="spacing">Relative <tspan font-style="italic">IL17B</tspan> mRNA level</text>
<text transform="translate(58.60,1047.35) rotate(-90) scale(1,0.92)" font-size="13" text-anchor="middle" fill="#222" stroke="#222" stroke-width="0.25" textLength="118.9" lengthAdjust="spacing">adjusted to <tspan font-style="italic">GAPDH</tspan></text>
<text transform="translate(210.60,948.70) scale(1.13,1)" font-size="14.6" fill="#000" font-weight="bold" >H</text>
<line x1="266.20" y1="986.28" x2="266.20" y2="1120.50" stroke="#3a3a3a" stroke-width="1.1" />
<line x1="261.60" y1="986.28" x2="266.20" y2="986.28" stroke="#3a3a3a" stroke-width="1.1" />
<text transform="translate(258.20,990.38) scale(1,0.9)" font-size="12" fill="#222" stroke="#222" stroke-width="0.25" text-anchor="end" >6</text>
<line x1="261.60" y1="1031.02" x2="266.20" y2="1031.02" stroke="#3a3a3a" stroke-width="1.1" />
<text transform="translate(258.20,1035.12) scale(1,0.9)" font-size="12" fill="#222" stroke="#222" stroke-width="0.25" text-anchor="end" >4</text>
<line x1="261.60" y1="1075.76" x2="266.20" y2="1075.76" stroke="#3a3a3a" stroke-width="1.1" />
<text transform="translate(258.20,1079.86) scale(1,0.9)" font-size="12" fill="#222" stroke="#222" stroke-width="0.25" text-anchor="end" >2</text>
<line x1="261.60" y1="1120.50" x2="266.20" y2="1120.50" stroke="#3a3a3a" stroke-width="1.1" />
<text transform="translate(258.20,1124.60) scale(1,0.9)" font-size="12" fill="#222" stroke="#222" stroke-width="0.25" text-anchor="end" >0</text>
<line x1="266.20" y1="1120.50" x2="365.30" y2="1120.50" stroke="#3a3a3a" stroke-width="1.1" />
<line x1="285.80" y1="1120.50" x2="285.80" y2="1124.50" stroke="#3a3a3a" stroke-width="1.1" />
<text transform="translate(285.80,1137.50) scale(1,0.9)" font-size="12" fill="#222" stroke="#222" stroke-width="0.25" text-anchor="middle" >Sham</text>
<line x1="315.80" y1="1120.50" x2="315.80" y2="1124.50" stroke="#3a3a3a" stroke-width="1.1" />
<text transform="translate(315.80,1137.50) scale(1,0.9)" font-size="12" fill="#222" stroke="#222" stroke-width="0.25" text-anchor="middle" >UIRI</text>
<line x1="345.50" y1="1120.50" x2="345.50" y2="1124.50" stroke="#3a3a3a" stroke-width="1.1" />
<text transform="translate(334.20,1137.50) scale(1,0.9)" font-size="12" fill="#222" stroke="#222" stroke-width="0.25" >UIRI+NM</text>
<rect x="276.30" y="1098.30" width="19.30" height="22.20" fill="none" stroke="#1a1aff" stroke-width="1.3" />
<rect x="305.90" y="1034.70" width="19.60" height="85.80" fill="none" stroke="#ff2a2a" stroke-width="1.3" />
<rect x="335.60" y="1094.00" width="19.50" height="26.50" fill="none" stroke="#2fbf2f" stroke-width="1.3" />
<line x1="286.30" y1="1091.30" x2="286.30" y2="1105.00" stroke="#1a1aff" stroke-width="1.1" />
<line x1="281.45" y1="1091.30" x2="291.15" y2="1091.30" stroke="#1a1aff" stroke-width="1.1" />
<line x1="281.45" y1="1105.00" x2="291.15" y2="1105.00" stroke="#1a1aff" stroke-width="1.1" />
<line x1="315.80" y1="1025.50" x2="315.80" y2="1043.00" stroke="#ff2a2a" stroke-width="1.1" />
<line x1="311.20" y1="1025.50" x2="320.40" y2="1025.50" stroke="#ff2a2a" stroke-width="1.1" />
<line x1="311.20" y1="1043.00" x2="320.40" y2="1043.00" stroke="#ff2a2a" stroke-width="1.1" />
<line x1="345.40" y1="1087.50" x2="345.40" y2="1099.30" stroke="#2fbf2f" stroke-width="1.1" />
<line x1="340.65" y1="1087.50" x2="350.15" y2="1087.50" stroke="#2fbf2f" stroke-width="1.1" />
<line x1="340.65" y1="1099.30" x2="350.15" y2="1099.30" stroke="#2fbf2f" stroke-width="1.1" />
<circle cx="286.30" cy="1076.20" r="1.6" fill="#1a1aff"/>
<circle cx="286.30" cy="1081.80" r="1.6" fill="#1a1aff"/>
<circle cx="286.30" cy="1094.30" r="1.6" fill="#1a1aff"/>
<circle cx="281.30" cy="1113.20" r="1.6" fill="#1a1aff"/>
<circle cx="286.30" cy="1111.00" r="1.6" fill="#1a1aff"/>
<circle cx="291.20" cy="1113.20" r="1.6" fill="#1a1aff"/>
<rect x="314.30" y="1000.50" width="3" height="3" fill="#ff2a2a"/>
<rect x="314.30" y="1023.70" width="3" height="3" fill="#ff2a2a"/>
<rect x="314.30" y="1029.70" width="3" height="3" fill="#ff2a2a"/>
<rect x="314.30" y="1034.60" width="3" height="3" fill="#ff2a2a"/>
<rect x="314.30" y="1047.40" width="3" height="3" fill="#ff2a2a"/>
<rect x="314.30" y="1061.90" width="3" height="3" fill="#ff2a2a"/>
<path d="M345.20,1064.66 L347.07,1068.06 L343.33,1068.06 Z" fill="#2fbf2f"/>
<path d="M350.40,1089.86 L352.27,1093.26 L348.53,1093.26 Z" fill="#2fbf2f"/>
<path d="M345.20,1091.16 L347.07,1094.56 L343.33,1094.56 Z" fill="#2fbf2f"/>
<path d="M345.20,1096.16 L347.07,1099.56 L343.33,1099.56 Z" fill="#2fbf2f"/>
<path d="M345.20,1103.26 L347.07,1106.66 L343.33,1106.66 Z" fill="#2fbf2f"/>
<path d="M345.20,1107.16 L347.07,1110.56 L343.33,1110.56 Z" fill="#2fbf2f"/>
<path d="M285.90,998.90 V992.40 H314.30 V998.90" fill="none" stroke="#555" stroke-width="1.25"/>
<path d="M317.00,998.90 V992.40 H345.20 V998.90" fill="none" stroke="#555" stroke-width="1.25"/>
<path d="M289.50,977.00 L289.50,983.60 M286.64,978.65 L292.36,981.95 M292.36,978.65 L286.64,981.95 " stroke="#222" stroke-width="1.35" stroke-linecap="round" fill="none"/>
<path d="M299.80,977.00 L299.80,983.60 M296.94,978.65 L302.66,981.95 M302.66,978.65 L296.94,981.95 " stroke="#222" stroke-width="1.35" stroke-linecap="round" fill="none"/>
<path d="M310.20,977.00 L310.20,983.60 M307.34,978.65 L313.06,981.95 M313.06,978.65 L307.34,981.95 " stroke="#222" stroke-width="1.35" stroke-linecap="round" fill="none"/>
<path d="M327.00,977.00 L327.00,983.60 M324.14,978.65 L329.86,981.95 M329.86,978.65 L324.14,981.95 " stroke="#222" stroke-width="1.35" stroke-linecap="round" fill="none"/>
<path d="M336.60,977.00 L336.60,983.60 M333.74,978.65 L339.46,981.95 M339.46,978.65 L333.74,981.95 " stroke="#222" stroke-width="1.35" stroke-linecap="round" fill="none"/>
<text transform="translate(226.80,1050.85) rotate(-90) scale(1,0.92)" font-size="13" text-anchor="middle" fill="#222" stroke="#222" stroke-width="0.25" textLength="144.7" lengthAdjust="spacing">Relative <tspan font-style="italic">Il17a</tspan> mRNA level</text>
<text transform="translate(237.20,1060.35) rotate(-90) scale(1,0.92)" font-size="13" text-anchor="middle" fill="#222" stroke="#222" stroke-width="0.25" textLength="94.7" lengthAdjust="spacing">adjusted to <tspan font-style="italic">Actb</tspan></text>
<text transform="translate(404.60,948.70) scale(1.13,1)" font-size="14.6" fill="#000" font-weight="bold" >I</text>
<line x1="464.70" y1="986.42" x2="464.70" y2="1120.50" stroke="#3a3a3a" stroke-width="1.1" />
<line x1="460.10" y1="986.42" x2="464.70" y2="986.42" stroke="#3a3a3a" stroke-width="1.1" />
<text transform="translate(458.10,990.52) scale(1,0.9)" font-size="12" fill="#222" stroke="#222" stroke-width="0.25" text-anchor="end" >40</text>
<line x1="460.10" y1="1019.94" x2="464.70" y2="1019.94" stroke="#3a3a3a" stroke-width="1.1" />
<text transform="translate(458.10,1024.04) scale(1,0.9)" font-size="12" fill="#222" stroke="#222" stroke-width="0.25" text-anchor="end" >30</text>
<line x1="460.10" y1="1053.46" x2="464.70" y2="1053.46" stroke="#3a3a3a" stroke-width="1.1" />
<text transform="translate(458.10,1057.56) scale(1,0.9)" font-size="12" fill="#222" stroke="#222" stroke-width="0.25" text-anchor="end" >20</text>
<line x1="460.10" y1="1086.98" x2="464.70" y2="1086.98" stroke="#3a3a3a" stroke-width="1.1" />
<text transform="translate(458.10,1091.08) scale(1,0.9)" font-size="12" fill="#222" stroke="#222" stroke-width="0.25" text-anchor="end" >10</text>
<line x1="460.10" y1="1120.50" x2="464.70" y2="1120.50" stroke="#3a3a3a" stroke-width="1.1" />
<text transform="translate(458.10,1124.60) scale(1,0.9)" font-size="12" fill="#222" stroke="#222" stroke-width="0.25" text-anchor="end" >0</text>
<line x1="464.70" y1="1120.50" x2="560.20" y2="1120.50" stroke="#3a3a3a" stroke-width="1.1" />
<line x1="484.80" y1="1120.50" x2="484.80" y2="1124.50" stroke="#3a3a3a" stroke-width="1.1" />
<text transform="translate(484.80,1137.50) scale(1,0.9)" font-size="12" fill="#222" stroke="#222" stroke-width="0.25" text-anchor="middle" >Sham</text>
<line x1="513.20" y1="1120.50" x2="513.20" y2="1124.50" stroke="#3a3a3a" stroke-width="1.1" />
<text transform="translate(502.30,1137.50) scale(1,0.9)" font-size="12" fill="#222" stroke="#222" stroke-width="0.25" >UIRI</text>
<line x1="541.60" y1="1120.50" x2="541.60" y2="1124.50" stroke="#3a3a3a" stroke-width="1.1" />
<text transform="translate(530.80,1137.50) scale(1,0.9)" font-size="12" fill="#222" stroke="#222" stroke-width="0.25" >UIRI+NM</text>
<rect x="475.50" y="1117.15" width="18.90" height="3.35" fill="none" stroke="#1a1aff" stroke-width="1.3" />
<rect x="503.40" y="1089.66" width="19.30" height="30.84" fill="none" stroke="#ff2a2a" stroke-width="1.3" />
<rect x="531.80" y="1117.15" width="19.30" height="3.35" fill="none" stroke="#2fbf2f" stroke-width="1.3" />
<line x1="513.20" y1="1073.00" x2="513.20" y2="1106.30" stroke="#ff2a2a" stroke-width="1.1" />
<line x1="508.45" y1="1073.00" x2="517.95" y2="1073.00" stroke="#ff2a2a" stroke-width="1.1" />
<line x1="508.45" y1="1106.30" x2="517.95" y2="1106.30" stroke="#ff2a2a" stroke-width="1.1" />
<line x1="484.80" y1="1115.50" x2="484.80" y2="1119.00" stroke="#1a1aff" stroke-width="1.1" />
<line x1="481.30" y1="1115.50" x2="488.30" y2="1115.50" stroke="#1a1aff" stroke-width="1.1" />
<line x1="481.30" y1="1119.00" x2="488.30" y2="1119.00" stroke="#1a1aff" stroke-width="1.1" />
<line x1="541.60" y1="1115.50" x2="541.60" y2="1119.00" stroke="#2fbf2f" stroke-width="1.1" />
<line x1="538.10" y1="1115.50" x2="545.10" y2="1115.50" stroke="#2fbf2f" stroke-width="1.1" />
<line x1="538.10" y1="1119.00" x2="545.10" y2="1119.00" stroke="#2fbf2f" stroke-width="1.1" />
<circle cx="481.50" cy="1113.50" r="1.6" fill="#1a1aff"/>
<circle cx="487.50" cy="1113.50" r="1.6" fill="#1a1aff"/>
<circle cx="484.80" cy="1116.50" r="1.6" fill="#1a1aff"/>
<circle cx="476.50" cy="1118.00" r="1.6" fill="#1a1aff"/>
<circle cx="484.80" cy="1118.50" r="1.6" fill="#1a1aff"/>
<circle cx="492.50" cy="1118.00" r="1.6" fill="#1a1aff"/>
<rect x="511.70" y="1007.90" width="3" height="3" fill="#ff2a2a"/>
<rect x="511.70" y="1085.00" width="3" height="3" fill="#ff2a2a"/>
<rect x="507.00" y="1112.00" width="3" height="3" fill="#ff2a2a"/>
<rect x="511.70" y="1107.70" width="3" height="3" fill="#ff2a2a"/>
<rect x="516.90" y="1106.10" width="3" height="3" fill="#ff2a2a"/>
<rect x="516.90" y="1110.80" width="3" height="3" fill="#ff2a2a"/>
<path d="M536.00,1112.96 L537.87,1116.36 L534.13,1116.36 Z" fill="#2fbf2f"/>
<path d="M541.60,1112.46 L543.47,1115.86 L539.73,1115.86 Z" fill="#2fbf2f"/>
<path d="M547.00,1112.96 L548.87,1116.36 L545.13,1116.36 Z" fill="#2fbf2f"/>
<path d="M536.50,1116.46 L538.37,1119.86 L534.63,1119.86 Z" fill="#2fbf2f"/>
<path d="M541.60,1116.46 L543.47,1119.86 L539.73,1119.86 Z" fill="#2fbf2f"/>
<path d="M547.50,1115.96 L549.37,1119.36 L545.63,1119.36 Z" fill="#2fbf2f"/>
<path d="M485.40,1005.70 V999.20 H511.80 V1005.70" fill="none" stroke="#555" stroke-width="1.25"/>
<path d="M515.00,1005.70 V999.20 H541.60 V1005.70" fill="none" stroke="#555" stroke-width="1.25"/>
<path d="M493.10,983.30 L493.10,989.90 M490.24,984.95 L495.96,988.25 M495.96,984.95 L490.24,988.25 " stroke="#222" stroke-width="1.35" stroke-linecap="round" fill="none"/>
<path d="M502.60,983.30 L502.60,989.90 M499.74,984.95 L505.46,988.25 M505.46,984.95 L499.74,988.25 " stroke="#222" stroke-width="1.35" stroke-linecap="round" fill="none"/>
<path d="M524.10,983.30 L524.10,989.90 M521.24,984.95 L526.96,988.25 M526.96,984.95 L521.24,988.25 " stroke="#222" stroke-width="1.35" stroke-linecap="round" fill="none"/>
<path d="M533.30,983.30 L533.30,989.90 M530.44,984.95 L536.16,988.25 M536.16,984.95 L530.44,988.25 " stroke="#222" stroke-width="1.35" stroke-linecap="round" fill="none"/>
<text transform="translate(422.30,1048.40) rotate(-90) scale(1,0.92)" font-size="13" text-anchor="middle" fill="#222" stroke="#222" stroke-width="0.25" textLength="148.8" lengthAdjust="spacing">Relative <tspan font-style="italic">Il17b</tspan> mRNA level</text>
<text transform="translate(433.00,1060.20) rotate(-90) scale(1,0.92)" font-size="13" text-anchor="middle" fill="#222" stroke="#222" stroke-width="0.25" textLength="94.6" lengthAdjust="spacing">adjusted to <tspan font-style="italic">Actb</tspan></text>
<text transform="translate(597.60,948.40) scale(1.13,1)" font-size="14.6" fill="#000" font-weight="bold" >J</text>
<line x1="658.00" y1="985.40" x2="658.00" y2="1120.40" stroke="#3a3a3a" stroke-width="1.1" />
<line x1="653.40" y1="985.40" x2="658.00" y2="985.40" stroke="#3a3a3a" stroke-width="1.1" />
<text transform="translate(650.00,989.50) scale(1,0.9)" font-size="12" fill="#222" stroke="#222" stroke-width="0.25" text-anchor="end" >6</text>
<line x1="653.40" y1="1030.40" x2="658.00" y2="1030.40" stroke="#3a3a3a" stroke-width="1.1" />
<text transform="translate(650.00,1034.50) scale(1,0.9)" font-size="12" fill="#222" stroke="#222" stroke-width="0.25" text-anchor="end" >4</text>
<line x1="653.40" y1="1075.40" x2="658.00" y2="1075.40" stroke="#3a3a3a" stroke-width="1.1" />
<text transform="translate(650.00,1079.50) scale(1,0.9)" font-size="12" fill="#222" stroke="#222" stroke-width="0.25" text-anchor="end" >2</text>
<line x1="653.40" y1="1120.40" x2="658.00" y2="1120.40" stroke="#3a3a3a" stroke-width="1.1" />
<text transform="translate(650.00,1124.50) scale(1,0.9)" font-size="12" fill="#222" stroke="#222" stroke-width="0.25" text-anchor="end" >0</text>
<line x1="658.00" y1="1120.40" x2="756.40" y2="1120.40" stroke="#3a3a3a" stroke-width="1.1" />
<line x1="677.80" y1="1120.40" x2="677.80" y2="1124.40" stroke="#3a3a3a" stroke-width="1.1" />
<text transform="translate(677.80,1137.50) scale(1,0.9)" font-size="12" fill="#222" stroke="#222" stroke-width="0.25" text-anchor="middle" >Sham</text>
<line x1="707.40" y1="1120.40" x2="707.40" y2="1124.40" stroke="#3a3a3a" stroke-width="1.1" />
<text transform="translate(707.40,1137.50) scale(1,0.9)" font-size="12" fill="#222" stroke="#222" stroke-width="0.25" text-anchor="middle" >UIRI</text>
<line x1="736.80" y1="1120.40" x2="736.80" y2="1124.40" stroke="#3a3a3a" stroke-width="1.1" />
<text transform="translate(725.80,1137.50) scale(1,0.9)" font-size="12" fill="#222" stroke="#222" stroke-width="0.25" >UIRI+NM</text>
<rect x="668.00" y="1098.00" width="19.40" height="22.40" fill="none" stroke="#1a1aff" stroke-width="1.3" />
<rect x="697.40" y="1030.40" width="19.80" height="90.00" fill="none" stroke="#ff2a2a" stroke-width="1.3" />
<rect x="727.30" y="1088.50" width="19.10" height="31.90" fill="none" stroke="#2fbf2f" stroke-width="1.3" />
<line x1="677.80" y1="1095.40" x2="677.80" y2="1101.00" stroke="#1a1aff" stroke-width="1.1" />
<line x1="673.30" y1="1095.40" x2="682.30" y2="1095.40" stroke="#1a1aff" stroke-width="1.1" />
<line x1="673.30" y1="1101.00" x2="682.30" y2="1101.00" stroke="#1a1aff" stroke-width="1.1" />
<line x1="707.40" y1="1023.40" x2="707.40" y2="1036.70" stroke="#ff2a2a" stroke-width="1.1" />
<line x1="702.70" y1="1023.40" x2="712.10" y2="1023.40" stroke="#ff2a2a" stroke-width="1.1" />
<line x1="702.70" y1="1036.70" x2="712.10" y2="1036.70" stroke="#ff2a2a" stroke-width="1.1" />
<line x1="736.80" y1="1083.00" x2="736.80" y2="1094.40" stroke="#2fbf2f" stroke-width="1.1" />
<line x1="732.20" y1="1083.00" x2="741.40" y2="1083.00" stroke="#2fbf2f" stroke-width="1.1" />
<line x1="732.20" y1="1094.40" x2="741.40" y2="1094.40" stroke="#2fbf2f" stroke-width="1.1" />
<circle cx="677.80" cy="1090.80" r="1.6" fill="#1a1aff"/>
<circle cx="672.40" cy="1096.00" r="1.6" fill="#1a1aff"/>
<circle cx="683.20" cy="1096.00" r="1.6" fill="#1a1aff"/>
<circle cx="677.80" cy="1097.50" r="1.6" fill="#1a1aff"/>
<circle cx="672.40" cy="1102.50" r="1.6" fill="#1a1aff"/>
<circle cx="677.80" cy="1102.50" r="1.6" fill="#1a1aff"/>
<circle cx="683.20" cy="1102.50" r="1.6" fill="#1a1aff"/>
<rect x="705.90" y="1006.30" width="3" height="3" fill="#ff2a2a"/>
<rect x="705.90" y="1015.40" width="3" height="3" fill="#ff2a2a"/>
<rect x="705.90" y="1020.70" width="3" height="3" fill="#ff2a2a"/>
<rect x="705.90" y="1040.50" width="3" height="3" fill="#ff2a2a"/>
<rect x="711.00" y="1039.80" width="3" height="3" fill="#ff2a2a"/>
<rect x="705.90" y="1047.60" width="3" height="3" fill="#ff2a2a"/>
<path d="M732.00,1076.86 L733.87,1080.26 L730.13,1080.26 Z" fill="#2fbf2f"/>
<path d="M736.80,1073.76 L738.67,1077.16 L734.93,1077.16 Z" fill="#2fbf2f"/>
<path d="M736.80,1077.46 L738.67,1080.86 L734.93,1080.86 Z" fill="#2fbf2f"/>
<path d="M736.80,1089.26 L738.67,1092.66 L734.93,1092.66 Z" fill="#2fbf2f"/>
<path d="M736.80,1093.36 L738.67,1096.76 L734.93,1096.76 Z" fill="#2fbf2f"/>
<path d="M736.80,1110.06 L738.67,1113.46 L734.93,1113.46 Z" fill="#2fbf2f"/>
<path d="M677.50,1004.10 V997.90 H705.60 V1004.10" fill="none" stroke="#555" stroke-width="1.25"/>
<path d="M709.20,1004.10 V997.90 H737.60 V1004.10" fill="none" stroke="#555" stroke-width="1.25"/>
<path d="M682.30,982.20 L682.30,988.80 M679.44,983.85 L685.16,987.15 M685.16,983.85 L679.44,987.15 " stroke="#222" stroke-width="1.35" stroke-linecap="round" fill="none"/>
<path d="M692.10,982.20 L692.10,988.80 M689.24,983.85 L694.96,987.15 M694.96,983.85 L689.24,987.15 " stroke="#222" stroke-width="1.35" stroke-linecap="round" fill="none"/>
<path d="M701.70,982.20 L701.70,988.80 M698.84,983.85 L704.56,987.15 M704.56,983.85 L698.84,987.15 " stroke="#222" stroke-width="1.35" stroke-linecap="round" fill="none"/>
<path d="M714.00,982.20 L714.00,988.80 M711.14,983.85 L716.86,987.15 M716.86,983.85 L711.14,987.15 " stroke="#222" stroke-width="1.35" stroke-linecap="round" fill="none"/>
<path d="M723.50,982.20 L723.50,988.80 M720.64,983.85 L726.36,987.15 M726.36,983.85 L720.64,987.15 " stroke="#222" stroke-width="1.35" stroke-linecap="round" fill="none"/>
<path d="M733.10,982.20 L733.10,988.80 M730.24,983.85 L735.96,987.15 M735.96,983.85 L730.24,987.15 " stroke="#222" stroke-width="1.35" stroke-linecap="round" fill="none"/>
<text transform="translate(617.80,1048.40) rotate(-90) scale(1,0.92)" font-size="13" text-anchor="middle" fill="#222" stroke="#222" stroke-width="0.25" textLength="155.6" lengthAdjust="spacing">Relative c-Fos protein level</text>
<text transform="translate(628.60,1057.45) rotate(-90) scale(1,0.92)" font-size="13" text-anchor="middle" fill="#222" stroke="#222" stroke-width="0.25" textLength="104.3" lengthAdjust="spacing">(Gapdh adjusted)</text>
<text transform="translate(20.80,1205.00) scale(1.13,1)" font-size="14.6" fill="#000" font-weight="bold" >K</text>
<text transform="translate(399.20,1205.00) scale(1.13,1)" font-size="14.6" fill="#000" font-weight="bold" >L</text>
<defs><filter id="blurK" x="-30%" y="-60%" width="160%" height="220%"><feGaussianBlur stdDeviation="1.3"/></filter><filter id="blurKb" x="-30%" y="-60%" width="160%" height="220%"><feGaussianBlur stdDeviation="0.9"/></filter><clipPath id="cK1"><rect x="56.3" y="1246.4" width="266.59999999999997" height="19.09999999999991"/></clipPath><clipPath id="cK2"><rect x="56.3" y="1276.3" width="266.59999999999997" height="19.200000000000045"/></clipPath></defs>
<rect x="56.30" y="1246.40" width="266.60" height="19.10" fill="#ebebeb" />
<g clip-path="url(#cK1)"><g filter="url(#blurK)">
<rect x="70.0" y="1251.5" width="20.0" height="10.0" rx="2.5" fill="#111" opacity="0.015"/>
<rect x="96.6" y="1251.5" width="20.0" height="10.0" rx="2.5" fill="#111" opacity="0.015"/>
<rect x="125.5" y="1251.5" width="20.0" height="10.0" rx="2.5" fill="#111" opacity="0.02"/>
<rect x="153.4" y="1251.9" width="21.0" height="9.2" rx="2.3" fill="#111" opacity="0.62"/>
<rect x="181.0" y="1251.2" width="22.0" height="10.4" rx="2.6" fill="#111" opacity="0.66"/>
<rect x="210.0" y="1251.2" width="21.0" height="10.4" rx="2.6" fill="#111" opacity="0.62"/>
<rect x="238.3" y="1251.2" width="21.0" height="10.4" rx="2.6" fill="#111" opacity="0.3"/>
<rect x="266.0" y="1251.2" width="21.0" height="10.4" rx="2.6" fill="#111" opacity="0.32"/>
<rect x="295.6" y="1251.5" width="20.0" height="10.0" rx="2.5" fill="#111" opacity="0.14"/>
</g></g>
<rect x="56.30" y="1246.40" width="266.60" height="19.10" fill="none" stroke="#222" stroke-width="1.2" />
<rect x="56.30" y="1276.30" width="266.60" height="19.20" fill="#e2e2e2" />
<g clip-path="url(#cK2)"><g filter="url(#blurKb)">
<rect x="66.2" y="1279.5" width="27.6" height="12.8" rx="4.5" fill="#0a0a0a" opacity="1"/>
<rect x="94.8" y="1280.3" width="23.6" height="11.2" rx="3.9" fill="#0a0a0a" opacity="1"/>
<rect x="123.3" y="1280.1" width="24.4" height="11.6" rx="4.1" fill="#0a0a0a" opacity="1"/>
<rect x="151.7" y="1280.5" width="24.4" height="10.8" rx="3.8" fill="#0a0a0a" opacity="1"/>
<rect x="179.6" y="1279.7" width="24.8" height="12.4" rx="4.3" fill="#0a0a0a" opacity="1"/>
<rect x="208.3" y="1280.1" width="24.4" height="11.6" rx="4.1" fill="#0a0a0a" opacity="1"/>
<rect x="236.6" y="1280.1" width="24.4" height="11.6" rx="4.1" fill="#0a0a0a" opacity="1"/>
<rect x="264.5" y="1280.3" width="24.0" height="11.2" rx="3.9" fill="#0a0a0a" opacity="1"/>
<rect x="293.2" y="1279.9" width="24.8" height="12.0" rx="4.2" fill="#0a0a0a" opacity="1"/>
</g></g>
<rect x="56.30" y="1276.30" width="266.60" height="19.20" fill="none" stroke="#222" stroke-width="1.2" />
<text transform="translate(80.00,1240.40) scale(1,0.9)" font-size="12" fill="#111" stroke="#111" stroke-width="0.25" text-anchor="middle" >1</text>
<text transform="translate(106.60,1240.40) scale(1,0.9)" font-size="12" fill="#111" stroke="#111" stroke-width="0.25" text-anchor="middle" >2</text>
<text transform="translate(135.50,1240.40) scale(1,0.9)" font-size="12" fill="#111" stroke="#111" stroke-width="0.25" text-anchor="middle" >3</text>
<text transform="translate(163.90,1240.40) scale(1,0.9)" font-size="12" fill="#111" stroke="#111" stroke-width="0.25" text-anchor="middle" >1</text>
<text transform="translate(192.00,1240.40) scale(1,0.9)" font-size="12" fill="#111" stroke="#111" stroke-width="0.25" text-anchor="middle" >2</text>
<text transform="translate(220.50,1240.40) scale(1,0.9)" font-size="12" fill="#111" stroke="#111" stroke-width="0.25" text-anchor="middle" >3</text>
<text transform="translate(248.80,1240.40) scale(1,0.9)" font-size="12" fill="#111" stroke="#111" stroke-width="0.25" text-anchor="middle" >1</text>
<text transform="translate(276.50,1240.40) scale(1,0.9)" font-size="12" fill="#111" stroke="#111" stroke-width="0.25" text-anchor="middle" >2</text>
<text transform="translate(305.60,1240.40) scale(1,0.9)" font-size="12" fill="#111" stroke="#111" stroke-width="0.25" text-anchor="middle" >3</text>
<line x1="78.50" y1="1226.60" x2="137.00" y2="1226.60" stroke="#555" stroke-width="1.2" />
<text transform="translate(107.75,1221.60) scale(1,0.9)" font-size="12" fill="#111" stroke="#111" stroke-width="0.25" text-anchor="middle" >Sham</text>
<line x1="162.40" y1="1226.60" x2="222.00" y2="1226.60" stroke="#555" stroke-width="1.2" />
<text transform="translate(192.20,1221.60) scale(1,0.9)" font-size="12" fill="#111" stroke="#111" stroke-width="0.25" text-anchor="middle" >UIRI</text>
<line x1="247.30" y1="1226.60" x2="307.10" y2="1226.60" stroke="#555" stroke-width="1.2" />
<text transform="translate(277.20,1221.60) scale(1,0.9)" font-size="12" fill="#111" stroke="#111" stroke-width="0.25" text-anchor="middle" >UIRI+NM</text>
<text transform="translate(48.80,1259.80) scale(1,0.9)" font-size="12" fill="#111" stroke="#111" stroke-width="0.25" text-anchor="end" >c-Fos-</text>
<text transform="translate(48.80,1290.20) scale(1,0.9)" font-size="12" fill="#111" stroke="#111" stroke-width="0.25" text-anchor="end" >Gapdh-</text>
<text transform="translate(330.40,1259.40) scale(1,0.9)" font-size="12" fill="#111" stroke="#111" stroke-width="0.25" >-50kDa</text>
<text transform="translate(330.40,1290.60) scale(1,0.9)" font-size="12" fill="#111" stroke="#111" stroke-width="0.25" >-36kDa</text>
<defs><filter id="blurL" x="-30%" y="-60%" width="160%" height="220%"><feGaussianBlur stdDeviation="1.3"/></filter><filter id="blurLb" x="-30%" y="-60%" width="160%" height="220%"><feGaussianBlur stdDeviation="0.9"/></filter><clipPath id="cL1"><rect x="454.7" y="1246.4" width="264.8" height="19.09999999999991"/></clipPath><clipPath id="cL2"><rect x="454.7" y="1276.3" width="264.8" height="19.200000000000045"/></clipPath></defs>
<rect x="454.70" y="1246.40" width="264.80" height="19.10" fill="#ebebeb" />
<g clip-path="url(#cL1)"><g filter="url(#blurL)">
<rect x="460.7" y="1253.0" width="20.0" height="7.0" rx="1.8" fill="#111" opacity="0.06"/>
<rect x="488.5" y="1253.0" width="20.0" height="7.0" rx="1.8" fill="#111" opacity="0.04"/>
<rect x="517.0" y="1253.0" width="20.0" height="7.0" rx="1.8" fill="#111" opacity="0.07"/>
<rect x="544.7" y="1251.9" width="21.6" height="9.2" rx="2.3" fill="#111" opacity="0.95"/>
<rect x="572.5" y="1252.0" width="22.0" height="8.8" rx="2.2" fill="#111" opacity="0.92"/>
<rect x="600.8" y="1250.2" width="23.2" height="12.4" rx="3.1" fill="#111" opacity="1"/>
<rect x="630.8" y="1252.5" width="20.0" height="8.0" rx="2.0" fill="#111" opacity="0.02"/>
<rect x="658.4" y="1252.5" width="20.0" height="8.0" rx="2.0" fill="#111" opacity="0.02"/>
</g></g>
<rect x="454.70" y="1246.40" width="264.80" height="19.10" fill="none" stroke="#222" stroke-width="1.2" />
<rect x="454.70" y="1276.30" width="264.80" height="19.20" fill="#e2e2e2" />
<g clip-path="url(#cL2)"><g filter="url(#blurLb)">
<rect x="458.2" y="1280.9" width="25.0" height="10.0" rx="3.5" fill="#0a0a0a" opacity="1"/>
<rect x="486.5" y="1280.9" width="24.0" height="10.0" rx="3.5" fill="#0a0a0a" opacity="1"/>
<rect x="514.5" y="1280.9" width="25.0" height="10.0" rx="3.5" fill="#0a0a0a" opacity="1"/>
<rect x="544.0" y="1281.7" width="23.0" height="8.4" rx="2.9" fill="#0a0a0a" opacity="0.95"/>
<rect x="572.0" y="1281.5" width="23.0" height="8.8" rx="3.1" fill="#0a0a0a" opacity="0.95"/>
<rect x="600.4" y="1280.9" width="24.0" height="10.0" rx="3.5" fill="#0a0a0a" opacity="1"/>
<rect x="628.8" y="1280.5" width="24.0" height="10.8" rx="3.8" fill="#0a0a0a" opacity="1"/>
<rect x="656.4" y="1280.9" width="24.0" height="10.0" rx="3.5" fill="#0a0a0a" opacity="1"/>
<rect x="684.0" y="1279.4" width="26.0" height="13.0" rx="4.5" fill="#0a0a0a" opacity="1"/>
</g></g>
<rect x="454.70" y="1276.30" width="264.80" height="19.20" fill="none" stroke="#222" stroke-width="1.2" />
<text transform="translate(470.70,1240.40) scale(1,0.9)" font-size="12" fill="#111" stroke="#111" stroke-width="0.25" text-anchor="middle" >4</text>
<text transform="translate(498.50,1240.40) scale(1,0.9)" font-size="12" fill="#111" stroke="#111" stroke-width="0.25" text-anchor="middle" >5</text>
<text transform="translate(527.00,1240.40) scale(1,0.9)" font-size="12" fill="#111" stroke="#111" stroke-width="0.25" text-anchor="middle" >6</text>
<text transform="translate(555.50,1240.40) scale(1,0.9)" font-size="12" fill="#111" stroke="#111" stroke-width="0.25" text-anchor="middle" >4</text>
<text transform="translate(583.50,1240.40) scale(1,0.9)" font-size="12" fill="#111" stroke="#111" stroke-width="0.25" text-anchor="middle" >5</text>
<text transform="translate(612.40,1240.40) scale(1,0.9)" font-size="12" fill="#111" stroke="#111" stroke-width="0.25" text-anchor="middle" >6</text>
<text transform="translate(640.80,1240.40) scale(1,0.9)" font-size="12" fill="#111" stroke="#111" stroke-width="0.25" text-anchor="middle" >4</text>
<text transform="translate(668.40,1240.40) scale(1,0.9)" font-size="12" fill="#111" stroke="#111" stroke-width="0.25" text-anchor="middle" >5</text>
<text transform="translate(697.00,1240.40) scale(1,0.9)" font-size="12" fill="#111" stroke="#111" stroke-width="0.25" text-anchor="middle" >6</text>
<line x1="469.20" y1="1226.60" x2="528.50" y2="1226.60" stroke="#555" stroke-width="1.2" />
<text transform="translate(498.85,1221.60) scale(1,0.9)" font-size="12" fill="#111" stroke="#111" stroke-width="0.25" text-anchor="middle" >Sham</text>
<line x1="554.00" y1="1226.60" x2="613.90" y2="1226.60" stroke="#555" stroke-width="1.2" />
<text transform="translate(583.95,1221.60) scale(1,0.9)" font-size="12" fill="#111" stroke="#111" stroke-width="0.25" text-anchor="middle" >UIRI</text>
<line x1="639.30" y1="1226.60" x2="698.50" y2="1226.60" stroke="#555" stroke-width="1.2" />
<text transform="translate(668.90,1221.60) scale(1,0.9)" font-size="12" fill="#111" stroke="#111" stroke-width="0.25" text-anchor="middle" >UIRI+NM</text>
<text transform="translate(447.20,1259.80) scale(1,0.9)" font-size="12" fill="#111" stroke="#111" stroke-width="0.25" text-anchor="end" >c-Fos-</text>
<text transform="translate(447.20,1290.20) scale(1,0.9)" font-size="12" fill="#111" stroke="#111" stroke-width="0.25" text-anchor="end" >Gapdh-</text>
<text transform="translate(727.00,1259.40) scale(1,0.9)" font-size="12" fill="#111" stroke="#111" stroke-width="0.25" >-50kDa</text>
<text transform="translate(727.00,1290.60) scale(1,0.9)" font-size="12" fill="#111" stroke="#111" stroke-width="0.25" >-36kDa</text>
<g filter="url(#blurLb)"><ellipse cx="692.5" cy="1257.5" rx="3.5" ry="3" fill="#222" opacity="0.75"/><ellipse cx="705.5" cy="1255.5" rx="2.5" ry="3.5" fill="#222" opacity="0.6"/><rect x="686" y="1251" width="24" height="12" rx="3" fill="#111" opacity="0.15"/></g>
</svg></body></html>
